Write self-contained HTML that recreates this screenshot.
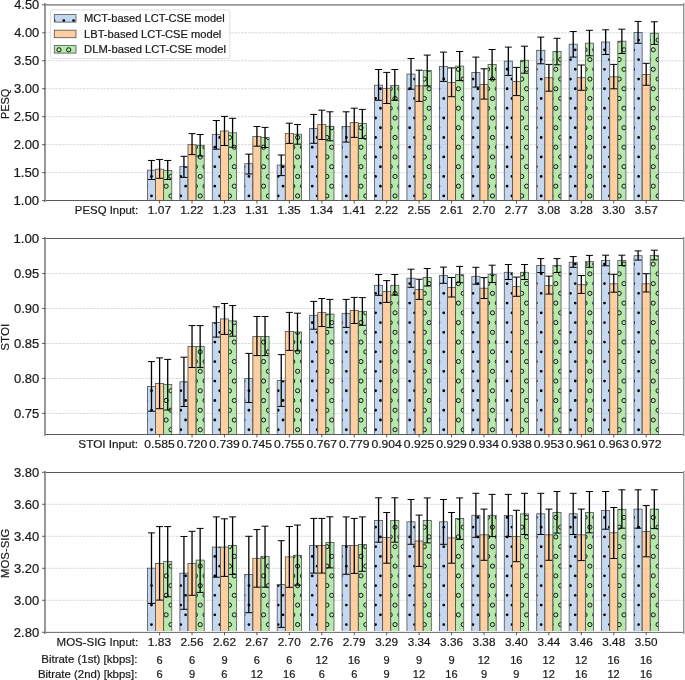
<!DOCTYPE html><html><head><meta charset="utf-8"><style>html,body{margin:0;padding:0;background:#fff;}svg{display:block;}text{font-family:"Liberation Sans",sans-serif;stroke:#1a1a1a;stroke-width:0.2px;}svg{will-change:transform;}</style></head><body>
<svg width="685" height="680" viewBox="0 0 685 680">
<defs>
<clipPath id="cp0"><rect x="45.1" y="4.8" width="638.4" height="195.79999999999998"/></clipPath>
<clipPath id="cp1"><rect x="45.1" y="238.5" width="638.4" height="195.89999999999998"/></clipPath>
<clipPath id="cp2"><rect x="45.1" y="472.3" width="638.4" height="159.99999999999994"/></clipPath>
</defs>
<rect width="685" height="680" fill="#fff"/>
<line x1="45.1" y1="172.63" x2="683.5" y2="172.63" stroke="#c8c8c8" stroke-width="0.7" stroke-dasharray="2.4 1.04"/>
<line x1="45.1" y1="144.66" x2="683.5" y2="144.66" stroke="#c8c8c8" stroke-width="0.7" stroke-dasharray="2.4 1.04"/>
<line x1="45.1" y1="116.69" x2="683.5" y2="116.69" stroke="#c8c8c8" stroke-width="0.7" stroke-dasharray="2.4 1.04"/>
<line x1="45.1" y1="88.71" x2="683.5" y2="88.71" stroke="#c8c8c8" stroke-width="0.7" stroke-dasharray="2.4 1.04"/>
<line x1="45.1" y1="60.74" x2="683.5" y2="60.74" stroke="#c8c8c8" stroke-width="0.7" stroke-dasharray="2.4 1.04"/>
<line x1="45.1" y1="32.77" x2="683.5" y2="32.77" stroke="#c8c8c8" stroke-width="0.7" stroke-dasharray="2.4 1.04"/>
<g clip-path="url(#cp0)">
<rect x="147.44" y="170.20" width="8.11" height="32.40" fill="#aec7e8" fill-opacity="0.7"/>
<clipPath id="hc1"><rect x="147.44" y="170.20" width="8.11" height="30.40"/></clipPath><path clip-path="url(#hc1)" fill="#000" d="M150.10 176.45a1.4 1.4 0 1 0 2.8 0a1.4 1.4 0 1 0 -2.8 0M145.23 186.19a1.4 1.4 0 1 0 2.8 0a1.4 1.4 0 1 0 -2.8 0M154.97 186.19a1.4 1.4 0 1 0 2.8 0a1.4 1.4 0 1 0 -2.8 0M150.10 195.93a1.4 1.4 0 1 0 2.8 0a1.4 1.4 0 1 0 -2.8 0"/>
<rect x="147.44" y="170.20" width="8.11" height="32.40" fill="none" stroke="#4d5257" stroke-width="0.8"/>
<rect x="155.54" y="169.20" width="8.11" height="33.40" fill="#ffbb78" fill-opacity="0.7"/>
<rect x="155.54" y="169.20" width="8.11" height="33.40" fill="none" stroke="#4d5257" stroke-width="0.8"/>
<rect x="163.65" y="170.40" width="8.11" height="32.20" fill="#98df8a" fill-opacity="0.7"/>
<clipPath id="hc2"><rect x="163.65" y="170.40" width="8.11" height="30.20"/></clipPath><path clip-path="url(#hc2)" fill="none" stroke="#000" stroke-width="0.9" d="M159.14 176.45a2.1 2.1 0 1 0 4.2 0a2.1 2.1 0 1 0 -4.2 0M168.89 176.45a2.1 2.1 0 1 0 4.2 0a2.1 2.1 0 1 0 -4.2 0M164.01 186.19a2.1 2.1 0 1 0 4.2 0a2.1 2.1 0 1 0 -4.2 0M159.14 195.93a2.1 2.1 0 1 0 4.2 0a2.1 2.1 0 1 0 -4.2 0M168.89 195.93a2.1 2.1 0 1 0 4.2 0a2.1 2.1 0 1 0 -4.2 0"/>
<rect x="163.65" y="170.40" width="8.11" height="32.20" fill="none" stroke="#4d5257" stroke-width="0.8"/>
<rect x="179.88" y="166.60" width="8.11" height="36.00" fill="#aec7e8" fill-opacity="0.7"/>
<clipPath id="hc3"><rect x="179.88" y="166.60" width="8.11" height="34.00"/></clipPath><path clip-path="url(#hc3)" fill="#000" d="M184.20 166.70a1.4 1.4 0 1 0 2.8 0a1.4 1.4 0 1 0 -2.8 0M179.33 176.45a1.4 1.4 0 1 0 2.8 0a1.4 1.4 0 1 0 -2.8 0M184.20 186.19a1.4 1.4 0 1 0 2.8 0a1.4 1.4 0 1 0 -2.8 0M179.33 195.93a1.4 1.4 0 1 0 2.8 0a1.4 1.4 0 1 0 -2.8 0"/>
<rect x="179.88" y="166.60" width="8.11" height="36.00" fill="none" stroke="#4d5257" stroke-width="0.8"/>
<rect x="187.98" y="144.70" width="8.11" height="57.90" fill="#ffbb78" fill-opacity="0.7"/>
<rect x="187.98" y="144.70" width="8.11" height="57.90" fill="none" stroke="#4d5257" stroke-width="0.8"/>
<rect x="196.09" y="145.30" width="8.11" height="57.30" fill="#98df8a" fill-opacity="0.7"/>
<clipPath id="hc4"><rect x="196.09" y="145.30" width="8.11" height="55.30"/></clipPath><path clip-path="url(#hc4)" fill="none" stroke="#000" stroke-width="0.9" d="M193.24 147.22a2.1 2.1 0 1 0 4.2 0a2.1 2.1 0 1 0 -4.2 0M202.98 147.22a2.1 2.1 0 1 0 4.2 0a2.1 2.1 0 1 0 -4.2 0M198.11 156.96a2.1 2.1 0 1 0 4.2 0a2.1 2.1 0 1 0 -4.2 0M193.24 166.70a2.1 2.1 0 1 0 4.2 0a2.1 2.1 0 1 0 -4.2 0M202.98 166.70a2.1 2.1 0 1 0 4.2 0a2.1 2.1 0 1 0 -4.2 0M198.11 176.45a2.1 2.1 0 1 0 4.2 0a2.1 2.1 0 1 0 -4.2 0M193.24 186.19a2.1 2.1 0 1 0 4.2 0a2.1 2.1 0 1 0 -4.2 0M202.98 186.19a2.1 2.1 0 1 0 4.2 0a2.1 2.1 0 1 0 -4.2 0M198.11 195.93a2.1 2.1 0 1 0 4.2 0a2.1 2.1 0 1 0 -4.2 0"/>
<rect x="196.09" y="145.30" width="8.11" height="57.30" fill="none" stroke="#4d5257" stroke-width="0.8"/>
<rect x="212.31" y="134.50" width="8.11" height="68.10" fill="#aec7e8" fill-opacity="0.7"/>
<clipPath id="hc5"><rect x="212.31" y="134.50" width="8.11" height="66.10"/></clipPath><path clip-path="url(#hc5)" fill="#000" d="M208.55 137.48a1.4 1.4 0 1 0 2.8 0a1.4 1.4 0 1 0 -2.8 0M218.30 137.48a1.4 1.4 0 1 0 2.8 0a1.4 1.4 0 1 0 -2.8 0M213.42 147.22a1.4 1.4 0 1 0 2.8 0a1.4 1.4 0 1 0 -2.8 0M208.55 156.96a1.4 1.4 0 1 0 2.8 0a1.4 1.4 0 1 0 -2.8 0M218.30 156.96a1.4 1.4 0 1 0 2.8 0a1.4 1.4 0 1 0 -2.8 0M213.42 166.70a1.4 1.4 0 1 0 2.8 0a1.4 1.4 0 1 0 -2.8 0M208.55 176.45a1.4 1.4 0 1 0 2.8 0a1.4 1.4 0 1 0 -2.8 0M218.30 176.45a1.4 1.4 0 1 0 2.8 0a1.4 1.4 0 1 0 -2.8 0M213.42 186.19a1.4 1.4 0 1 0 2.8 0a1.4 1.4 0 1 0 -2.8 0M208.55 195.93a1.4 1.4 0 1 0 2.8 0a1.4 1.4 0 1 0 -2.8 0M218.30 195.93a1.4 1.4 0 1 0 2.8 0a1.4 1.4 0 1 0 -2.8 0"/>
<rect x="212.31" y="134.50" width="8.11" height="68.10" fill="none" stroke="#4d5257" stroke-width="0.8"/>
<rect x="220.42" y="131.00" width="8.11" height="71.60" fill="#ffbb78" fill-opacity="0.7"/>
<rect x="220.42" y="131.00" width="8.11" height="71.60" fill="none" stroke="#4d5257" stroke-width="0.8"/>
<rect x="228.53" y="132.80" width="8.11" height="69.80" fill="#98df8a" fill-opacity="0.7"/>
<clipPath id="hc6"><rect x="228.53" y="132.80" width="8.11" height="67.80"/></clipPath><path clip-path="url(#hc6)" fill="none" stroke="#000" stroke-width="0.9" d="M227.34 137.48a2.1 2.1 0 1 0 4.2 0a2.1 2.1 0 1 0 -4.2 0M237.08 137.48a2.1 2.1 0 1 0 4.2 0a2.1 2.1 0 1 0 -4.2 0M232.21 147.22a2.1 2.1 0 1 0 4.2 0a2.1 2.1 0 1 0 -4.2 0M227.34 156.96a2.1 2.1 0 1 0 4.2 0a2.1 2.1 0 1 0 -4.2 0M237.08 156.96a2.1 2.1 0 1 0 4.2 0a2.1 2.1 0 1 0 -4.2 0M232.21 166.70a2.1 2.1 0 1 0 4.2 0a2.1 2.1 0 1 0 -4.2 0M227.34 176.45a2.1 2.1 0 1 0 4.2 0a2.1 2.1 0 1 0 -4.2 0M237.08 176.45a2.1 2.1 0 1 0 4.2 0a2.1 2.1 0 1 0 -4.2 0M232.21 186.19a2.1 2.1 0 1 0 4.2 0a2.1 2.1 0 1 0 -4.2 0M227.34 195.93a2.1 2.1 0 1 0 4.2 0a2.1 2.1 0 1 0 -4.2 0M237.08 195.93a2.1 2.1 0 1 0 4.2 0a2.1 2.1 0 1 0 -4.2 0"/>
<rect x="228.53" y="132.80" width="8.11" height="69.80" fill="none" stroke="#4d5257" stroke-width="0.8"/>
<rect x="244.75" y="163.70" width="8.11" height="38.90" fill="#aec7e8" fill-opacity="0.7"/>
<clipPath id="hc7"><rect x="244.75" y="163.70" width="8.11" height="36.90"/></clipPath><path clip-path="url(#hc7)" fill="#000" d="M242.65 166.70a1.4 1.4 0 1 0 2.8 0a1.4 1.4 0 1 0 -2.8 0M252.39 166.70a1.4 1.4 0 1 0 2.8 0a1.4 1.4 0 1 0 -2.8 0M247.52 176.45a1.4 1.4 0 1 0 2.8 0a1.4 1.4 0 1 0 -2.8 0M242.65 186.19a1.4 1.4 0 1 0 2.8 0a1.4 1.4 0 1 0 -2.8 0M252.39 186.19a1.4 1.4 0 1 0 2.8 0a1.4 1.4 0 1 0 -2.8 0M247.52 195.93a1.4 1.4 0 1 0 2.8 0a1.4 1.4 0 1 0 -2.8 0"/>
<rect x="244.75" y="163.70" width="8.11" height="38.90" fill="none" stroke="#4d5257" stroke-width="0.8"/>
<rect x="252.86" y="136.50" width="8.11" height="66.10" fill="#ffbb78" fill-opacity="0.7"/>
<rect x="252.86" y="136.50" width="8.11" height="66.10" fill="none" stroke="#4d5257" stroke-width="0.8"/>
<rect x="260.97" y="137.40" width="8.11" height="65.20" fill="#98df8a" fill-opacity="0.7"/>
<clipPath id="hc8"><rect x="260.97" y="137.40" width="8.11" height="63.20"/></clipPath><path clip-path="url(#hc8)" fill="none" stroke="#000" stroke-width="0.9" d="M256.56 137.48a2.1 2.1 0 1 0 4.2 0a2.1 2.1 0 1 0 -4.2 0M266.31 137.48a2.1 2.1 0 1 0 4.2 0a2.1 2.1 0 1 0 -4.2 0M261.43 147.22a2.1 2.1 0 1 0 4.2 0a2.1 2.1 0 1 0 -4.2 0M256.56 156.96a2.1 2.1 0 1 0 4.2 0a2.1 2.1 0 1 0 -4.2 0M266.31 156.96a2.1 2.1 0 1 0 4.2 0a2.1 2.1 0 1 0 -4.2 0M261.43 166.70a2.1 2.1 0 1 0 4.2 0a2.1 2.1 0 1 0 -4.2 0M256.56 176.45a2.1 2.1 0 1 0 4.2 0a2.1 2.1 0 1 0 -4.2 0M266.31 176.45a2.1 2.1 0 1 0 4.2 0a2.1 2.1 0 1 0 -4.2 0M261.43 186.19a2.1 2.1 0 1 0 4.2 0a2.1 2.1 0 1 0 -4.2 0M256.56 195.93a2.1 2.1 0 1 0 4.2 0a2.1 2.1 0 1 0 -4.2 0M266.31 195.93a2.1 2.1 0 1 0 4.2 0a2.1 2.1 0 1 0 -4.2 0"/>
<rect x="260.97" y="137.40" width="8.11" height="65.20" fill="none" stroke="#4d5257" stroke-width="0.8"/>
<rect x="277.19" y="165.10" width="8.11" height="37.50" fill="#aec7e8" fill-opacity="0.7"/>
<clipPath id="hc9"><rect x="277.19" y="165.10" width="8.11" height="35.50"/></clipPath><path clip-path="url(#hc9)" fill="#000" d="M281.62 166.70a1.4 1.4 0 1 0 2.8 0a1.4 1.4 0 1 0 -2.8 0M276.75 176.45a1.4 1.4 0 1 0 2.8 0a1.4 1.4 0 1 0 -2.8 0M281.62 186.19a1.4 1.4 0 1 0 2.8 0a1.4 1.4 0 1 0 -2.8 0M276.75 195.93a1.4 1.4 0 1 0 2.8 0a1.4 1.4 0 1 0 -2.8 0"/>
<rect x="277.19" y="165.10" width="8.11" height="37.50" fill="none" stroke="#4d5257" stroke-width="0.8"/>
<rect x="285.31" y="133.50" width="8.11" height="69.10" fill="#ffbb78" fill-opacity="0.7"/>
<rect x="285.31" y="133.50" width="8.11" height="69.10" fill="none" stroke="#4d5257" stroke-width="0.8"/>
<rect x="293.42" y="134.20" width="8.11" height="68.40" fill="#98df8a" fill-opacity="0.7"/>
<clipPath id="hc10"><rect x="293.42" y="134.20" width="8.11" height="66.40"/></clipPath><path clip-path="url(#hc10)" fill="none" stroke="#000" stroke-width="0.9" d="M295.53 137.48a2.1 2.1 0 1 0 4.2 0a2.1 2.1 0 1 0 -4.2 0M290.66 147.22a2.1 2.1 0 1 0 4.2 0a2.1 2.1 0 1 0 -4.2 0M300.40 147.22a2.1 2.1 0 1 0 4.2 0a2.1 2.1 0 1 0 -4.2 0M295.53 156.96a2.1 2.1 0 1 0 4.2 0a2.1 2.1 0 1 0 -4.2 0M290.66 166.70a2.1 2.1 0 1 0 4.2 0a2.1 2.1 0 1 0 -4.2 0M300.40 166.70a2.1 2.1 0 1 0 4.2 0a2.1 2.1 0 1 0 -4.2 0M295.53 176.45a2.1 2.1 0 1 0 4.2 0a2.1 2.1 0 1 0 -4.2 0M290.66 186.19a2.1 2.1 0 1 0 4.2 0a2.1 2.1 0 1 0 -4.2 0M300.40 186.19a2.1 2.1 0 1 0 4.2 0a2.1 2.1 0 1 0 -4.2 0M295.53 195.93a2.1 2.1 0 1 0 4.2 0a2.1 2.1 0 1 0 -4.2 0"/>
<rect x="293.42" y="134.20" width="8.11" height="68.40" fill="none" stroke="#4d5257" stroke-width="0.8"/>
<rect x="309.63" y="128.40" width="8.11" height="74.20" fill="#aec7e8" fill-opacity="0.7"/>
<clipPath id="hc11"><rect x="309.63" y="128.40" width="8.11" height="72.20"/></clipPath><path clip-path="url(#hc11)" fill="#000" d="M310.84 127.74a1.4 1.4 0 1 0 2.8 0a1.4 1.4 0 1 0 -2.8 0M305.97 137.48a1.4 1.4 0 1 0 2.8 0a1.4 1.4 0 1 0 -2.8 0M315.72 137.48a1.4 1.4 0 1 0 2.8 0a1.4 1.4 0 1 0 -2.8 0M310.84 147.22a1.4 1.4 0 1 0 2.8 0a1.4 1.4 0 1 0 -2.8 0M305.97 156.96a1.4 1.4 0 1 0 2.8 0a1.4 1.4 0 1 0 -2.8 0M315.72 156.96a1.4 1.4 0 1 0 2.8 0a1.4 1.4 0 1 0 -2.8 0M310.84 166.70a1.4 1.4 0 1 0 2.8 0a1.4 1.4 0 1 0 -2.8 0M305.97 176.45a1.4 1.4 0 1 0 2.8 0a1.4 1.4 0 1 0 -2.8 0M315.72 176.45a1.4 1.4 0 1 0 2.8 0a1.4 1.4 0 1 0 -2.8 0M310.84 186.19a1.4 1.4 0 1 0 2.8 0a1.4 1.4 0 1 0 -2.8 0M305.97 195.93a1.4 1.4 0 1 0 2.8 0a1.4 1.4 0 1 0 -2.8 0M315.72 195.93a1.4 1.4 0 1 0 2.8 0a1.4 1.4 0 1 0 -2.8 0"/>
<rect x="309.63" y="128.40" width="8.11" height="74.20" fill="none" stroke="#4d5257" stroke-width="0.8"/>
<rect x="317.74" y="124.60" width="8.11" height="78.00" fill="#ffbb78" fill-opacity="0.7"/>
<rect x="317.74" y="124.60" width="8.11" height="78.00" fill="none" stroke="#4d5257" stroke-width="0.8"/>
<rect x="325.85" y="126.30" width="8.11" height="76.30" fill="#98df8a" fill-opacity="0.7"/>
<clipPath id="hc12"><rect x="325.85" y="126.30" width="8.11" height="74.30"/></clipPath><path clip-path="url(#hc12)" fill="none" stroke="#000" stroke-width="0.9" d="M329.63 127.74a2.1 2.1 0 1 0 4.2 0a2.1 2.1 0 1 0 -4.2 0M324.76 137.48a2.1 2.1 0 1 0 4.2 0a2.1 2.1 0 1 0 -4.2 0M334.50 137.48a2.1 2.1 0 1 0 4.2 0a2.1 2.1 0 1 0 -4.2 0M329.63 147.22a2.1 2.1 0 1 0 4.2 0a2.1 2.1 0 1 0 -4.2 0M324.76 156.96a2.1 2.1 0 1 0 4.2 0a2.1 2.1 0 1 0 -4.2 0M334.50 156.96a2.1 2.1 0 1 0 4.2 0a2.1 2.1 0 1 0 -4.2 0M329.63 166.70a2.1 2.1 0 1 0 4.2 0a2.1 2.1 0 1 0 -4.2 0M324.76 176.45a2.1 2.1 0 1 0 4.2 0a2.1 2.1 0 1 0 -4.2 0M334.50 176.45a2.1 2.1 0 1 0 4.2 0a2.1 2.1 0 1 0 -4.2 0M329.63 186.19a2.1 2.1 0 1 0 4.2 0a2.1 2.1 0 1 0 -4.2 0M324.76 195.93a2.1 2.1 0 1 0 4.2 0a2.1 2.1 0 1 0 -4.2 0M334.50 195.93a2.1 2.1 0 1 0 4.2 0a2.1 2.1 0 1 0 -4.2 0"/>
<rect x="325.85" y="126.30" width="8.11" height="76.30" fill="none" stroke="#4d5257" stroke-width="0.8"/>
<rect x="342.07" y="126.40" width="8.11" height="76.20" fill="#aec7e8" fill-opacity="0.7"/>
<clipPath id="hc13"><rect x="342.07" y="126.40" width="8.11" height="74.20"/></clipPath><path clip-path="url(#hc13)" fill="#000" d="M340.07 127.74a1.4 1.4 0 1 0 2.8 0a1.4 1.4 0 1 0 -2.8 0M349.81 127.74a1.4 1.4 0 1 0 2.8 0a1.4 1.4 0 1 0 -2.8 0M344.94 137.48a1.4 1.4 0 1 0 2.8 0a1.4 1.4 0 1 0 -2.8 0M340.07 147.22a1.4 1.4 0 1 0 2.8 0a1.4 1.4 0 1 0 -2.8 0M349.81 147.22a1.4 1.4 0 1 0 2.8 0a1.4 1.4 0 1 0 -2.8 0M344.94 156.96a1.4 1.4 0 1 0 2.8 0a1.4 1.4 0 1 0 -2.8 0M340.07 166.70a1.4 1.4 0 1 0 2.8 0a1.4 1.4 0 1 0 -2.8 0M349.81 166.70a1.4 1.4 0 1 0 2.8 0a1.4 1.4 0 1 0 -2.8 0M344.94 176.45a1.4 1.4 0 1 0 2.8 0a1.4 1.4 0 1 0 -2.8 0M340.07 186.19a1.4 1.4 0 1 0 2.8 0a1.4 1.4 0 1 0 -2.8 0M349.81 186.19a1.4 1.4 0 1 0 2.8 0a1.4 1.4 0 1 0 -2.8 0M344.94 195.93a1.4 1.4 0 1 0 2.8 0a1.4 1.4 0 1 0 -2.8 0"/>
<rect x="342.07" y="126.40" width="8.11" height="76.20" fill="none" stroke="#4d5257" stroke-width="0.8"/>
<rect x="350.19" y="122.60" width="8.11" height="80.00" fill="#ffbb78" fill-opacity="0.7"/>
<rect x="350.19" y="122.60" width="8.11" height="80.00" fill="none" stroke="#4d5257" stroke-width="0.8"/>
<rect x="358.30" y="123.50" width="8.11" height="79.10" fill="#98df8a" fill-opacity="0.7"/>
<clipPath id="hc14"><rect x="358.30" y="123.50" width="8.11" height="77.10"/></clipPath><path clip-path="url(#hc14)" fill="none" stroke="#000" stroke-width="0.9" d="M358.85 127.74a2.1 2.1 0 1 0 4.2 0a2.1 2.1 0 1 0 -4.2 0M353.98 137.48a2.1 2.1 0 1 0 4.2 0a2.1 2.1 0 1 0 -4.2 0M363.72 137.48a2.1 2.1 0 1 0 4.2 0a2.1 2.1 0 1 0 -4.2 0M358.85 147.22a2.1 2.1 0 1 0 4.2 0a2.1 2.1 0 1 0 -4.2 0M353.98 156.96a2.1 2.1 0 1 0 4.2 0a2.1 2.1 0 1 0 -4.2 0M363.72 156.96a2.1 2.1 0 1 0 4.2 0a2.1 2.1 0 1 0 -4.2 0M358.85 166.70a2.1 2.1 0 1 0 4.2 0a2.1 2.1 0 1 0 -4.2 0M353.98 176.45a2.1 2.1 0 1 0 4.2 0a2.1 2.1 0 1 0 -4.2 0M363.72 176.45a2.1 2.1 0 1 0 4.2 0a2.1 2.1 0 1 0 -4.2 0M358.85 186.19a2.1 2.1 0 1 0 4.2 0a2.1 2.1 0 1 0 -4.2 0M353.98 195.93a2.1 2.1 0 1 0 4.2 0a2.1 2.1 0 1 0 -4.2 0M363.72 195.93a2.1 2.1 0 1 0 4.2 0a2.1 2.1 0 1 0 -4.2 0"/>
<rect x="358.30" y="123.50" width="8.11" height="79.10" fill="none" stroke="#4d5257" stroke-width="0.8"/>
<rect x="374.51" y="85.20" width="8.11" height="117.40" fill="#aec7e8" fill-opacity="0.7"/>
<clipPath id="hc15"><rect x="374.51" y="85.20" width="8.11" height="115.40"/></clipPath><path clip-path="url(#hc15)" fill="#000" d="M379.04 88.77a1.4 1.4 0 1 0 2.8 0a1.4 1.4 0 1 0 -2.8 0M374.17 98.51a1.4 1.4 0 1 0 2.8 0a1.4 1.4 0 1 0 -2.8 0M379.04 108.25a1.4 1.4 0 1 0 2.8 0a1.4 1.4 0 1 0 -2.8 0M374.17 117.99a1.4 1.4 0 1 0 2.8 0a1.4 1.4 0 1 0 -2.8 0M379.04 127.74a1.4 1.4 0 1 0 2.8 0a1.4 1.4 0 1 0 -2.8 0M374.17 137.48a1.4 1.4 0 1 0 2.8 0a1.4 1.4 0 1 0 -2.8 0M379.04 147.22a1.4 1.4 0 1 0 2.8 0a1.4 1.4 0 1 0 -2.8 0M374.17 156.96a1.4 1.4 0 1 0 2.8 0a1.4 1.4 0 1 0 -2.8 0M379.04 166.70a1.4 1.4 0 1 0 2.8 0a1.4 1.4 0 1 0 -2.8 0M374.17 176.45a1.4 1.4 0 1 0 2.8 0a1.4 1.4 0 1 0 -2.8 0M379.04 186.19a1.4 1.4 0 1 0 2.8 0a1.4 1.4 0 1 0 -2.8 0M374.17 195.93a1.4 1.4 0 1 0 2.8 0a1.4 1.4 0 1 0 -2.8 0"/>
<rect x="374.51" y="85.20" width="8.11" height="117.40" fill="none" stroke="#4d5257" stroke-width="0.8"/>
<rect x="382.62" y="88.30" width="8.11" height="114.30" fill="#ffbb78" fill-opacity="0.7"/>
<rect x="382.62" y="88.30" width="8.11" height="114.30" fill="none" stroke="#4d5257" stroke-width="0.8"/>
<rect x="390.73" y="85.40" width="8.11" height="117.20" fill="#98df8a" fill-opacity="0.7"/>
<clipPath id="hc16"><rect x="390.73" y="85.40" width="8.11" height="115.20"/></clipPath><path clip-path="url(#hc16)" fill="none" stroke="#000" stroke-width="0.9" d="M388.08 88.77a2.1 2.1 0 1 0 4.2 0a2.1 2.1 0 1 0 -4.2 0M397.82 88.77a2.1 2.1 0 1 0 4.2 0a2.1 2.1 0 1 0 -4.2 0M392.95 98.51a2.1 2.1 0 1 0 4.2 0a2.1 2.1 0 1 0 -4.2 0M388.08 108.25a2.1 2.1 0 1 0 4.2 0a2.1 2.1 0 1 0 -4.2 0M397.82 108.25a2.1 2.1 0 1 0 4.2 0a2.1 2.1 0 1 0 -4.2 0M392.95 117.99a2.1 2.1 0 1 0 4.2 0a2.1 2.1 0 1 0 -4.2 0M388.08 127.74a2.1 2.1 0 1 0 4.2 0a2.1 2.1 0 1 0 -4.2 0M397.82 127.74a2.1 2.1 0 1 0 4.2 0a2.1 2.1 0 1 0 -4.2 0M392.95 137.48a2.1 2.1 0 1 0 4.2 0a2.1 2.1 0 1 0 -4.2 0M388.08 147.22a2.1 2.1 0 1 0 4.2 0a2.1 2.1 0 1 0 -4.2 0M397.82 147.22a2.1 2.1 0 1 0 4.2 0a2.1 2.1 0 1 0 -4.2 0M392.95 156.96a2.1 2.1 0 1 0 4.2 0a2.1 2.1 0 1 0 -4.2 0M388.08 166.70a2.1 2.1 0 1 0 4.2 0a2.1 2.1 0 1 0 -4.2 0M397.82 166.70a2.1 2.1 0 1 0 4.2 0a2.1 2.1 0 1 0 -4.2 0M392.95 176.45a2.1 2.1 0 1 0 4.2 0a2.1 2.1 0 1 0 -4.2 0M388.08 186.19a2.1 2.1 0 1 0 4.2 0a2.1 2.1 0 1 0 -4.2 0M397.82 186.19a2.1 2.1 0 1 0 4.2 0a2.1 2.1 0 1 0 -4.2 0M392.95 195.93a2.1 2.1 0 1 0 4.2 0a2.1 2.1 0 1 0 -4.2 0"/>
<rect x="390.73" y="85.40" width="8.11" height="117.20" fill="none" stroke="#4d5257" stroke-width="0.8"/>
<rect x="406.95" y="74.10" width="8.11" height="128.50" fill="#aec7e8" fill-opacity="0.7"/>
<clipPath id="hc17"><rect x="406.95" y="74.10" width="8.11" height="126.50"/></clipPath><path clip-path="url(#hc17)" fill="#000" d="M403.39 79.03a1.4 1.4 0 1 0 2.8 0a1.4 1.4 0 1 0 -2.8 0M413.14 79.03a1.4 1.4 0 1 0 2.8 0a1.4 1.4 0 1 0 -2.8 0M408.26 88.77a1.4 1.4 0 1 0 2.8 0a1.4 1.4 0 1 0 -2.8 0M403.39 98.51a1.4 1.4 0 1 0 2.8 0a1.4 1.4 0 1 0 -2.8 0M413.14 98.51a1.4 1.4 0 1 0 2.8 0a1.4 1.4 0 1 0 -2.8 0M408.26 108.25a1.4 1.4 0 1 0 2.8 0a1.4 1.4 0 1 0 -2.8 0M403.39 117.99a1.4 1.4 0 1 0 2.8 0a1.4 1.4 0 1 0 -2.8 0M413.14 117.99a1.4 1.4 0 1 0 2.8 0a1.4 1.4 0 1 0 -2.8 0M408.26 127.74a1.4 1.4 0 1 0 2.8 0a1.4 1.4 0 1 0 -2.8 0M403.39 137.48a1.4 1.4 0 1 0 2.8 0a1.4 1.4 0 1 0 -2.8 0M413.14 137.48a1.4 1.4 0 1 0 2.8 0a1.4 1.4 0 1 0 -2.8 0M408.26 147.22a1.4 1.4 0 1 0 2.8 0a1.4 1.4 0 1 0 -2.8 0M403.39 156.96a1.4 1.4 0 1 0 2.8 0a1.4 1.4 0 1 0 -2.8 0M413.14 156.96a1.4 1.4 0 1 0 2.8 0a1.4 1.4 0 1 0 -2.8 0M408.26 166.70a1.4 1.4 0 1 0 2.8 0a1.4 1.4 0 1 0 -2.8 0M403.39 176.45a1.4 1.4 0 1 0 2.8 0a1.4 1.4 0 1 0 -2.8 0M413.14 176.45a1.4 1.4 0 1 0 2.8 0a1.4 1.4 0 1 0 -2.8 0M408.26 186.19a1.4 1.4 0 1 0 2.8 0a1.4 1.4 0 1 0 -2.8 0M403.39 195.93a1.4 1.4 0 1 0 2.8 0a1.4 1.4 0 1 0 -2.8 0M413.14 195.93a1.4 1.4 0 1 0 2.8 0a1.4 1.4 0 1 0 -2.8 0"/>
<rect x="406.95" y="74.10" width="8.11" height="128.50" fill="none" stroke="#4d5257" stroke-width="0.8"/>
<rect x="415.06" y="85.90" width="8.11" height="116.70" fill="#ffbb78" fill-opacity="0.7"/>
<rect x="415.06" y="85.90" width="8.11" height="116.70" fill="none" stroke="#4d5257" stroke-width="0.8"/>
<rect x="423.18" y="70.60" width="8.11" height="132.00" fill="#98df8a" fill-opacity="0.7"/>
<clipPath id="hc18"><rect x="423.18" y="70.60" width="8.11" height="130.00"/></clipPath><path clip-path="url(#hc18)" fill="none" stroke="#000" stroke-width="0.9" d="M427.05 69.28a2.1 2.1 0 1 0 4.2 0a2.1 2.1 0 1 0 -4.2 0M422.18 79.03a2.1 2.1 0 1 0 4.2 0a2.1 2.1 0 1 0 -4.2 0M431.92 79.03a2.1 2.1 0 1 0 4.2 0a2.1 2.1 0 1 0 -4.2 0M427.05 88.77a2.1 2.1 0 1 0 4.2 0a2.1 2.1 0 1 0 -4.2 0M422.18 98.51a2.1 2.1 0 1 0 4.2 0a2.1 2.1 0 1 0 -4.2 0M431.92 98.51a2.1 2.1 0 1 0 4.2 0a2.1 2.1 0 1 0 -4.2 0M427.05 108.25a2.1 2.1 0 1 0 4.2 0a2.1 2.1 0 1 0 -4.2 0M422.18 117.99a2.1 2.1 0 1 0 4.2 0a2.1 2.1 0 1 0 -4.2 0M431.92 117.99a2.1 2.1 0 1 0 4.2 0a2.1 2.1 0 1 0 -4.2 0M427.05 127.74a2.1 2.1 0 1 0 4.2 0a2.1 2.1 0 1 0 -4.2 0M422.18 137.48a2.1 2.1 0 1 0 4.2 0a2.1 2.1 0 1 0 -4.2 0M431.92 137.48a2.1 2.1 0 1 0 4.2 0a2.1 2.1 0 1 0 -4.2 0M427.05 147.22a2.1 2.1 0 1 0 4.2 0a2.1 2.1 0 1 0 -4.2 0M422.18 156.96a2.1 2.1 0 1 0 4.2 0a2.1 2.1 0 1 0 -4.2 0M431.92 156.96a2.1 2.1 0 1 0 4.2 0a2.1 2.1 0 1 0 -4.2 0M427.05 166.70a2.1 2.1 0 1 0 4.2 0a2.1 2.1 0 1 0 -4.2 0M422.18 176.45a2.1 2.1 0 1 0 4.2 0a2.1 2.1 0 1 0 -4.2 0M431.92 176.45a2.1 2.1 0 1 0 4.2 0a2.1 2.1 0 1 0 -4.2 0M427.05 186.19a2.1 2.1 0 1 0 4.2 0a2.1 2.1 0 1 0 -4.2 0M422.18 195.93a2.1 2.1 0 1 0 4.2 0a2.1 2.1 0 1 0 -4.2 0M431.92 195.93a2.1 2.1 0 1 0 4.2 0a2.1 2.1 0 1 0 -4.2 0"/>
<rect x="423.18" y="70.60" width="8.11" height="132.00" fill="none" stroke="#4d5257" stroke-width="0.8"/>
<rect x="439.39" y="66.50" width="8.11" height="136.10" fill="#aec7e8" fill-opacity="0.7"/>
<clipPath id="hc19"><rect x="439.39" y="66.50" width="8.11" height="134.10"/></clipPath><path clip-path="url(#hc19)" fill="#000" d="M437.49 69.28a1.4 1.4 0 1 0 2.8 0a1.4 1.4 0 1 0 -2.8 0M447.23 69.28a1.4 1.4 0 1 0 2.8 0a1.4 1.4 0 1 0 -2.8 0M442.36 79.03a1.4 1.4 0 1 0 2.8 0a1.4 1.4 0 1 0 -2.8 0M437.49 88.77a1.4 1.4 0 1 0 2.8 0a1.4 1.4 0 1 0 -2.8 0M447.23 88.77a1.4 1.4 0 1 0 2.8 0a1.4 1.4 0 1 0 -2.8 0M442.36 98.51a1.4 1.4 0 1 0 2.8 0a1.4 1.4 0 1 0 -2.8 0M437.49 108.25a1.4 1.4 0 1 0 2.8 0a1.4 1.4 0 1 0 -2.8 0M447.23 108.25a1.4 1.4 0 1 0 2.8 0a1.4 1.4 0 1 0 -2.8 0M442.36 117.99a1.4 1.4 0 1 0 2.8 0a1.4 1.4 0 1 0 -2.8 0M437.49 127.74a1.4 1.4 0 1 0 2.8 0a1.4 1.4 0 1 0 -2.8 0M447.23 127.74a1.4 1.4 0 1 0 2.8 0a1.4 1.4 0 1 0 -2.8 0M442.36 137.48a1.4 1.4 0 1 0 2.8 0a1.4 1.4 0 1 0 -2.8 0M437.49 147.22a1.4 1.4 0 1 0 2.8 0a1.4 1.4 0 1 0 -2.8 0M447.23 147.22a1.4 1.4 0 1 0 2.8 0a1.4 1.4 0 1 0 -2.8 0M442.36 156.96a1.4 1.4 0 1 0 2.8 0a1.4 1.4 0 1 0 -2.8 0M437.49 166.70a1.4 1.4 0 1 0 2.8 0a1.4 1.4 0 1 0 -2.8 0M447.23 166.70a1.4 1.4 0 1 0 2.8 0a1.4 1.4 0 1 0 -2.8 0M442.36 176.45a1.4 1.4 0 1 0 2.8 0a1.4 1.4 0 1 0 -2.8 0M437.49 186.19a1.4 1.4 0 1 0 2.8 0a1.4 1.4 0 1 0 -2.8 0M447.23 186.19a1.4 1.4 0 1 0 2.8 0a1.4 1.4 0 1 0 -2.8 0M442.36 195.93a1.4 1.4 0 1 0 2.8 0a1.4 1.4 0 1 0 -2.8 0"/>
<rect x="439.39" y="66.50" width="8.11" height="136.10" fill="none" stroke="#4d5257" stroke-width="0.8"/>
<rect x="447.50" y="82.60" width="8.11" height="120.00" fill="#ffbb78" fill-opacity="0.7"/>
<rect x="447.50" y="82.60" width="8.11" height="120.00" fill="none" stroke="#4d5257" stroke-width="0.8"/>
<rect x="455.61" y="66.10" width="8.11" height="136.50" fill="#98df8a" fill-opacity="0.7"/>
<clipPath id="hc20"><rect x="455.61" y="66.10" width="8.11" height="134.50"/></clipPath><path clip-path="url(#hc20)" fill="none" stroke="#000" stroke-width="0.9" d="M456.27 69.28a2.1 2.1 0 1 0 4.2 0a2.1 2.1 0 1 0 -4.2 0M451.40 79.03a2.1 2.1 0 1 0 4.2 0a2.1 2.1 0 1 0 -4.2 0M461.14 79.03a2.1 2.1 0 1 0 4.2 0a2.1 2.1 0 1 0 -4.2 0M456.27 88.77a2.1 2.1 0 1 0 4.2 0a2.1 2.1 0 1 0 -4.2 0M451.40 98.51a2.1 2.1 0 1 0 4.2 0a2.1 2.1 0 1 0 -4.2 0M461.14 98.51a2.1 2.1 0 1 0 4.2 0a2.1 2.1 0 1 0 -4.2 0M456.27 108.25a2.1 2.1 0 1 0 4.2 0a2.1 2.1 0 1 0 -4.2 0M451.40 117.99a2.1 2.1 0 1 0 4.2 0a2.1 2.1 0 1 0 -4.2 0M461.14 117.99a2.1 2.1 0 1 0 4.2 0a2.1 2.1 0 1 0 -4.2 0M456.27 127.74a2.1 2.1 0 1 0 4.2 0a2.1 2.1 0 1 0 -4.2 0M451.40 137.48a2.1 2.1 0 1 0 4.2 0a2.1 2.1 0 1 0 -4.2 0M461.14 137.48a2.1 2.1 0 1 0 4.2 0a2.1 2.1 0 1 0 -4.2 0M456.27 147.22a2.1 2.1 0 1 0 4.2 0a2.1 2.1 0 1 0 -4.2 0M451.40 156.96a2.1 2.1 0 1 0 4.2 0a2.1 2.1 0 1 0 -4.2 0M461.14 156.96a2.1 2.1 0 1 0 4.2 0a2.1 2.1 0 1 0 -4.2 0M456.27 166.70a2.1 2.1 0 1 0 4.2 0a2.1 2.1 0 1 0 -4.2 0M451.40 176.45a2.1 2.1 0 1 0 4.2 0a2.1 2.1 0 1 0 -4.2 0M461.14 176.45a2.1 2.1 0 1 0 4.2 0a2.1 2.1 0 1 0 -4.2 0M456.27 186.19a2.1 2.1 0 1 0 4.2 0a2.1 2.1 0 1 0 -4.2 0M451.40 195.93a2.1 2.1 0 1 0 4.2 0a2.1 2.1 0 1 0 -4.2 0M461.14 195.93a2.1 2.1 0 1 0 4.2 0a2.1 2.1 0 1 0 -4.2 0"/>
<rect x="455.61" y="66.10" width="8.11" height="136.50" fill="none" stroke="#4d5257" stroke-width="0.8"/>
<rect x="471.83" y="72.40" width="8.11" height="130.20" fill="#aec7e8" fill-opacity="0.7"/>
<clipPath id="hc21"><rect x="471.83" y="72.40" width="8.11" height="128.20"/></clipPath><path clip-path="url(#hc21)" fill="#000" d="M471.59 79.03a1.4 1.4 0 1 0 2.8 0a1.4 1.4 0 1 0 -2.8 0M476.46 88.77a1.4 1.4 0 1 0 2.8 0a1.4 1.4 0 1 0 -2.8 0M471.59 98.51a1.4 1.4 0 1 0 2.8 0a1.4 1.4 0 1 0 -2.8 0M476.46 108.25a1.4 1.4 0 1 0 2.8 0a1.4 1.4 0 1 0 -2.8 0M471.59 117.99a1.4 1.4 0 1 0 2.8 0a1.4 1.4 0 1 0 -2.8 0M476.46 127.74a1.4 1.4 0 1 0 2.8 0a1.4 1.4 0 1 0 -2.8 0M471.59 137.48a1.4 1.4 0 1 0 2.8 0a1.4 1.4 0 1 0 -2.8 0M476.46 147.22a1.4 1.4 0 1 0 2.8 0a1.4 1.4 0 1 0 -2.8 0M471.59 156.96a1.4 1.4 0 1 0 2.8 0a1.4 1.4 0 1 0 -2.8 0M476.46 166.70a1.4 1.4 0 1 0 2.8 0a1.4 1.4 0 1 0 -2.8 0M471.59 176.45a1.4 1.4 0 1 0 2.8 0a1.4 1.4 0 1 0 -2.8 0M476.46 186.19a1.4 1.4 0 1 0 2.8 0a1.4 1.4 0 1 0 -2.8 0M471.59 195.93a1.4 1.4 0 1 0 2.8 0a1.4 1.4 0 1 0 -2.8 0"/>
<rect x="471.83" y="72.40" width="8.11" height="130.20" fill="none" stroke="#4d5257" stroke-width="0.8"/>
<rect x="479.94" y="84.40" width="8.11" height="118.20" fill="#ffbb78" fill-opacity="0.7"/>
<rect x="479.94" y="84.40" width="8.11" height="118.20" fill="none" stroke="#4d5257" stroke-width="0.8"/>
<rect x="488.06" y="64.40" width="8.11" height="138.20" fill="#98df8a" fill-opacity="0.7"/>
<clipPath id="hc22"><rect x="488.06" y="64.40" width="8.11" height="136.20"/></clipPath><path clip-path="url(#hc22)" fill="none" stroke="#000" stroke-width="0.9" d="M485.50 69.28a2.1 2.1 0 1 0 4.2 0a2.1 2.1 0 1 0 -4.2 0M495.24 69.28a2.1 2.1 0 1 0 4.2 0a2.1 2.1 0 1 0 -4.2 0M490.37 79.03a2.1 2.1 0 1 0 4.2 0a2.1 2.1 0 1 0 -4.2 0M485.50 88.77a2.1 2.1 0 1 0 4.2 0a2.1 2.1 0 1 0 -4.2 0M495.24 88.77a2.1 2.1 0 1 0 4.2 0a2.1 2.1 0 1 0 -4.2 0M490.37 98.51a2.1 2.1 0 1 0 4.2 0a2.1 2.1 0 1 0 -4.2 0M485.50 108.25a2.1 2.1 0 1 0 4.2 0a2.1 2.1 0 1 0 -4.2 0M495.24 108.25a2.1 2.1 0 1 0 4.2 0a2.1 2.1 0 1 0 -4.2 0M490.37 117.99a2.1 2.1 0 1 0 4.2 0a2.1 2.1 0 1 0 -4.2 0M485.50 127.74a2.1 2.1 0 1 0 4.2 0a2.1 2.1 0 1 0 -4.2 0M495.24 127.74a2.1 2.1 0 1 0 4.2 0a2.1 2.1 0 1 0 -4.2 0M490.37 137.48a2.1 2.1 0 1 0 4.2 0a2.1 2.1 0 1 0 -4.2 0M485.50 147.22a2.1 2.1 0 1 0 4.2 0a2.1 2.1 0 1 0 -4.2 0M495.24 147.22a2.1 2.1 0 1 0 4.2 0a2.1 2.1 0 1 0 -4.2 0M490.37 156.96a2.1 2.1 0 1 0 4.2 0a2.1 2.1 0 1 0 -4.2 0M485.50 166.70a2.1 2.1 0 1 0 4.2 0a2.1 2.1 0 1 0 -4.2 0M495.24 166.70a2.1 2.1 0 1 0 4.2 0a2.1 2.1 0 1 0 -4.2 0M490.37 176.45a2.1 2.1 0 1 0 4.2 0a2.1 2.1 0 1 0 -4.2 0M485.50 186.19a2.1 2.1 0 1 0 4.2 0a2.1 2.1 0 1 0 -4.2 0M495.24 186.19a2.1 2.1 0 1 0 4.2 0a2.1 2.1 0 1 0 -4.2 0M490.37 195.93a2.1 2.1 0 1 0 4.2 0a2.1 2.1 0 1 0 -4.2 0"/>
<rect x="488.06" y="64.40" width="8.11" height="138.20" fill="none" stroke="#4d5257" stroke-width="0.8"/>
<rect x="504.27" y="61.10" width="8.11" height="141.50" fill="#aec7e8" fill-opacity="0.7"/>
<clipPath id="hc23"><rect x="504.27" y="61.10" width="8.11" height="139.50"/></clipPath><path clip-path="url(#hc23)" fill="#000" d="M500.81 59.54a1.4 1.4 0 1 0 2.8 0a1.4 1.4 0 1 0 -2.8 0M510.56 59.54a1.4 1.4 0 1 0 2.8 0a1.4 1.4 0 1 0 -2.8 0M505.68 69.28a1.4 1.4 0 1 0 2.8 0a1.4 1.4 0 1 0 -2.8 0M500.81 79.03a1.4 1.4 0 1 0 2.8 0a1.4 1.4 0 1 0 -2.8 0M510.56 79.03a1.4 1.4 0 1 0 2.8 0a1.4 1.4 0 1 0 -2.8 0M505.68 88.77a1.4 1.4 0 1 0 2.8 0a1.4 1.4 0 1 0 -2.8 0M500.81 98.51a1.4 1.4 0 1 0 2.8 0a1.4 1.4 0 1 0 -2.8 0M510.56 98.51a1.4 1.4 0 1 0 2.8 0a1.4 1.4 0 1 0 -2.8 0M505.68 108.25a1.4 1.4 0 1 0 2.8 0a1.4 1.4 0 1 0 -2.8 0M500.81 117.99a1.4 1.4 0 1 0 2.8 0a1.4 1.4 0 1 0 -2.8 0M510.56 117.99a1.4 1.4 0 1 0 2.8 0a1.4 1.4 0 1 0 -2.8 0M505.68 127.74a1.4 1.4 0 1 0 2.8 0a1.4 1.4 0 1 0 -2.8 0M500.81 137.48a1.4 1.4 0 1 0 2.8 0a1.4 1.4 0 1 0 -2.8 0M510.56 137.48a1.4 1.4 0 1 0 2.8 0a1.4 1.4 0 1 0 -2.8 0M505.68 147.22a1.4 1.4 0 1 0 2.8 0a1.4 1.4 0 1 0 -2.8 0M500.81 156.96a1.4 1.4 0 1 0 2.8 0a1.4 1.4 0 1 0 -2.8 0M510.56 156.96a1.4 1.4 0 1 0 2.8 0a1.4 1.4 0 1 0 -2.8 0M505.68 166.70a1.4 1.4 0 1 0 2.8 0a1.4 1.4 0 1 0 -2.8 0M500.81 176.45a1.4 1.4 0 1 0 2.8 0a1.4 1.4 0 1 0 -2.8 0M510.56 176.45a1.4 1.4 0 1 0 2.8 0a1.4 1.4 0 1 0 -2.8 0M505.68 186.19a1.4 1.4 0 1 0 2.8 0a1.4 1.4 0 1 0 -2.8 0M500.81 195.93a1.4 1.4 0 1 0 2.8 0a1.4 1.4 0 1 0 -2.8 0M510.56 195.93a1.4 1.4 0 1 0 2.8 0a1.4 1.4 0 1 0 -2.8 0"/>
<rect x="504.27" y="61.10" width="8.11" height="141.50" fill="none" stroke="#4d5257" stroke-width="0.8"/>
<rect x="512.38" y="81.50" width="8.11" height="121.10" fill="#ffbb78" fill-opacity="0.7"/>
<rect x="512.38" y="81.50" width="8.11" height="121.10" fill="none" stroke="#4d5257" stroke-width="0.8"/>
<rect x="520.50" y="60.30" width="8.11" height="142.30" fill="#98df8a" fill-opacity="0.7"/>
<clipPath id="hc24"><rect x="520.50" y="60.30" width="8.11" height="140.30"/></clipPath><path clip-path="url(#hc24)" fill="none" stroke="#000" stroke-width="0.9" d="M519.60 59.54a2.1 2.1 0 1 0 4.2 0a2.1 2.1 0 1 0 -4.2 0M529.34 59.54a2.1 2.1 0 1 0 4.2 0a2.1 2.1 0 1 0 -4.2 0M524.47 69.28a2.1 2.1 0 1 0 4.2 0a2.1 2.1 0 1 0 -4.2 0M519.60 79.03a2.1 2.1 0 1 0 4.2 0a2.1 2.1 0 1 0 -4.2 0M529.34 79.03a2.1 2.1 0 1 0 4.2 0a2.1 2.1 0 1 0 -4.2 0M524.47 88.77a2.1 2.1 0 1 0 4.2 0a2.1 2.1 0 1 0 -4.2 0M519.60 98.51a2.1 2.1 0 1 0 4.2 0a2.1 2.1 0 1 0 -4.2 0M529.34 98.51a2.1 2.1 0 1 0 4.2 0a2.1 2.1 0 1 0 -4.2 0M524.47 108.25a2.1 2.1 0 1 0 4.2 0a2.1 2.1 0 1 0 -4.2 0M519.60 117.99a2.1 2.1 0 1 0 4.2 0a2.1 2.1 0 1 0 -4.2 0M529.34 117.99a2.1 2.1 0 1 0 4.2 0a2.1 2.1 0 1 0 -4.2 0M524.47 127.74a2.1 2.1 0 1 0 4.2 0a2.1 2.1 0 1 0 -4.2 0M519.60 137.48a2.1 2.1 0 1 0 4.2 0a2.1 2.1 0 1 0 -4.2 0M529.34 137.48a2.1 2.1 0 1 0 4.2 0a2.1 2.1 0 1 0 -4.2 0M524.47 147.22a2.1 2.1 0 1 0 4.2 0a2.1 2.1 0 1 0 -4.2 0M519.60 156.96a2.1 2.1 0 1 0 4.2 0a2.1 2.1 0 1 0 -4.2 0M529.34 156.96a2.1 2.1 0 1 0 4.2 0a2.1 2.1 0 1 0 -4.2 0M524.47 166.70a2.1 2.1 0 1 0 4.2 0a2.1 2.1 0 1 0 -4.2 0M519.60 176.45a2.1 2.1 0 1 0 4.2 0a2.1 2.1 0 1 0 -4.2 0M529.34 176.45a2.1 2.1 0 1 0 4.2 0a2.1 2.1 0 1 0 -4.2 0M524.47 186.19a2.1 2.1 0 1 0 4.2 0a2.1 2.1 0 1 0 -4.2 0M519.60 195.93a2.1 2.1 0 1 0 4.2 0a2.1 2.1 0 1 0 -4.2 0M529.34 195.93a2.1 2.1 0 1 0 4.2 0a2.1 2.1 0 1 0 -4.2 0"/>
<rect x="520.50" y="60.30" width="8.11" height="142.30" fill="none" stroke="#4d5257" stroke-width="0.8"/>
<rect x="536.72" y="50.30" width="8.11" height="152.30" fill="#aec7e8" fill-opacity="0.7"/>
<clipPath id="hc25"><rect x="536.72" y="50.30" width="8.11" height="150.30"/></clipPath><path clip-path="url(#hc25)" fill="#000" d="M534.91 49.80a1.4 1.4 0 1 0 2.8 0a1.4 1.4 0 1 0 -2.8 0M544.65 49.80a1.4 1.4 0 1 0 2.8 0a1.4 1.4 0 1 0 -2.8 0M539.78 59.54a1.4 1.4 0 1 0 2.8 0a1.4 1.4 0 1 0 -2.8 0M534.91 69.28a1.4 1.4 0 1 0 2.8 0a1.4 1.4 0 1 0 -2.8 0M544.65 69.28a1.4 1.4 0 1 0 2.8 0a1.4 1.4 0 1 0 -2.8 0M539.78 79.03a1.4 1.4 0 1 0 2.8 0a1.4 1.4 0 1 0 -2.8 0M534.91 88.77a1.4 1.4 0 1 0 2.8 0a1.4 1.4 0 1 0 -2.8 0M544.65 88.77a1.4 1.4 0 1 0 2.8 0a1.4 1.4 0 1 0 -2.8 0M539.78 98.51a1.4 1.4 0 1 0 2.8 0a1.4 1.4 0 1 0 -2.8 0M534.91 108.25a1.4 1.4 0 1 0 2.8 0a1.4 1.4 0 1 0 -2.8 0M544.65 108.25a1.4 1.4 0 1 0 2.8 0a1.4 1.4 0 1 0 -2.8 0M539.78 117.99a1.4 1.4 0 1 0 2.8 0a1.4 1.4 0 1 0 -2.8 0M534.91 127.74a1.4 1.4 0 1 0 2.8 0a1.4 1.4 0 1 0 -2.8 0M544.65 127.74a1.4 1.4 0 1 0 2.8 0a1.4 1.4 0 1 0 -2.8 0M539.78 137.48a1.4 1.4 0 1 0 2.8 0a1.4 1.4 0 1 0 -2.8 0M534.91 147.22a1.4 1.4 0 1 0 2.8 0a1.4 1.4 0 1 0 -2.8 0M544.65 147.22a1.4 1.4 0 1 0 2.8 0a1.4 1.4 0 1 0 -2.8 0M539.78 156.96a1.4 1.4 0 1 0 2.8 0a1.4 1.4 0 1 0 -2.8 0M534.91 166.70a1.4 1.4 0 1 0 2.8 0a1.4 1.4 0 1 0 -2.8 0M544.65 166.70a1.4 1.4 0 1 0 2.8 0a1.4 1.4 0 1 0 -2.8 0M539.78 176.45a1.4 1.4 0 1 0 2.8 0a1.4 1.4 0 1 0 -2.8 0M534.91 186.19a1.4 1.4 0 1 0 2.8 0a1.4 1.4 0 1 0 -2.8 0M544.65 186.19a1.4 1.4 0 1 0 2.8 0a1.4 1.4 0 1 0 -2.8 0M539.78 195.93a1.4 1.4 0 1 0 2.8 0a1.4 1.4 0 1 0 -2.8 0"/>
<rect x="536.72" y="50.30" width="8.11" height="152.30" fill="none" stroke="#4d5257" stroke-width="0.8"/>
<rect x="544.83" y="77.70" width="8.11" height="124.90" fill="#ffbb78" fill-opacity="0.7"/>
<rect x="544.83" y="77.70" width="8.11" height="124.90" fill="none" stroke="#4d5257" stroke-width="0.8"/>
<rect x="552.94" y="51.50" width="8.11" height="151.10" fill="#98df8a" fill-opacity="0.7"/>
<clipPath id="hc26"><rect x="552.94" y="51.50" width="8.11" height="149.10"/></clipPath><path clip-path="url(#hc26)" fill="none" stroke="#000" stroke-width="0.9" d="M553.69 49.80a2.1 2.1 0 1 0 4.2 0a2.1 2.1 0 1 0 -4.2 0M548.82 59.54a2.1 2.1 0 1 0 4.2 0a2.1 2.1 0 1 0 -4.2 0M558.57 59.54a2.1 2.1 0 1 0 4.2 0a2.1 2.1 0 1 0 -4.2 0M553.69 69.28a2.1 2.1 0 1 0 4.2 0a2.1 2.1 0 1 0 -4.2 0M548.82 79.03a2.1 2.1 0 1 0 4.2 0a2.1 2.1 0 1 0 -4.2 0M558.57 79.03a2.1 2.1 0 1 0 4.2 0a2.1 2.1 0 1 0 -4.2 0M553.69 88.77a2.1 2.1 0 1 0 4.2 0a2.1 2.1 0 1 0 -4.2 0M548.82 98.51a2.1 2.1 0 1 0 4.2 0a2.1 2.1 0 1 0 -4.2 0M558.57 98.51a2.1 2.1 0 1 0 4.2 0a2.1 2.1 0 1 0 -4.2 0M553.69 108.25a2.1 2.1 0 1 0 4.2 0a2.1 2.1 0 1 0 -4.2 0M548.82 117.99a2.1 2.1 0 1 0 4.2 0a2.1 2.1 0 1 0 -4.2 0M558.57 117.99a2.1 2.1 0 1 0 4.2 0a2.1 2.1 0 1 0 -4.2 0M553.69 127.74a2.1 2.1 0 1 0 4.2 0a2.1 2.1 0 1 0 -4.2 0M548.82 137.48a2.1 2.1 0 1 0 4.2 0a2.1 2.1 0 1 0 -4.2 0M558.57 137.48a2.1 2.1 0 1 0 4.2 0a2.1 2.1 0 1 0 -4.2 0M553.69 147.22a2.1 2.1 0 1 0 4.2 0a2.1 2.1 0 1 0 -4.2 0M548.82 156.96a2.1 2.1 0 1 0 4.2 0a2.1 2.1 0 1 0 -4.2 0M558.57 156.96a2.1 2.1 0 1 0 4.2 0a2.1 2.1 0 1 0 -4.2 0M553.69 166.70a2.1 2.1 0 1 0 4.2 0a2.1 2.1 0 1 0 -4.2 0M548.82 176.45a2.1 2.1 0 1 0 4.2 0a2.1 2.1 0 1 0 -4.2 0M558.57 176.45a2.1 2.1 0 1 0 4.2 0a2.1 2.1 0 1 0 -4.2 0M553.69 186.19a2.1 2.1 0 1 0 4.2 0a2.1 2.1 0 1 0 -4.2 0M548.82 195.93a2.1 2.1 0 1 0 4.2 0a2.1 2.1 0 1 0 -4.2 0M558.57 195.93a2.1 2.1 0 1 0 4.2 0a2.1 2.1 0 1 0 -4.2 0"/>
<rect x="552.94" y="51.50" width="8.11" height="151.10" fill="none" stroke="#4d5257" stroke-width="0.8"/>
<rect x="569.15" y="44.20" width="8.11" height="158.40" fill="#aec7e8" fill-opacity="0.7"/>
<clipPath id="hc27"><rect x="569.15" y="44.20" width="8.11" height="156.40"/></clipPath><path clip-path="url(#hc27)" fill="#000" d="M573.88 49.80a1.4 1.4 0 1 0 2.8 0a1.4 1.4 0 1 0 -2.8 0M569.01 59.54a1.4 1.4 0 1 0 2.8 0a1.4 1.4 0 1 0 -2.8 0M573.88 69.28a1.4 1.4 0 1 0 2.8 0a1.4 1.4 0 1 0 -2.8 0M569.01 79.03a1.4 1.4 0 1 0 2.8 0a1.4 1.4 0 1 0 -2.8 0M573.88 88.77a1.4 1.4 0 1 0 2.8 0a1.4 1.4 0 1 0 -2.8 0M569.01 98.51a1.4 1.4 0 1 0 2.8 0a1.4 1.4 0 1 0 -2.8 0M573.88 108.25a1.4 1.4 0 1 0 2.8 0a1.4 1.4 0 1 0 -2.8 0M569.01 117.99a1.4 1.4 0 1 0 2.8 0a1.4 1.4 0 1 0 -2.8 0M573.88 127.74a1.4 1.4 0 1 0 2.8 0a1.4 1.4 0 1 0 -2.8 0M569.01 137.48a1.4 1.4 0 1 0 2.8 0a1.4 1.4 0 1 0 -2.8 0M573.88 147.22a1.4 1.4 0 1 0 2.8 0a1.4 1.4 0 1 0 -2.8 0M569.01 156.96a1.4 1.4 0 1 0 2.8 0a1.4 1.4 0 1 0 -2.8 0M573.88 166.70a1.4 1.4 0 1 0 2.8 0a1.4 1.4 0 1 0 -2.8 0M569.01 176.45a1.4 1.4 0 1 0 2.8 0a1.4 1.4 0 1 0 -2.8 0M573.88 186.19a1.4 1.4 0 1 0 2.8 0a1.4 1.4 0 1 0 -2.8 0M569.01 195.93a1.4 1.4 0 1 0 2.8 0a1.4 1.4 0 1 0 -2.8 0"/>
<rect x="569.15" y="44.20" width="8.11" height="158.40" fill="none" stroke="#4d5257" stroke-width="0.8"/>
<rect x="577.26" y="77.70" width="8.11" height="124.90" fill="#ffbb78" fill-opacity="0.7"/>
<rect x="577.26" y="77.70" width="8.11" height="124.90" fill="none" stroke="#4d5257" stroke-width="0.8"/>
<rect x="585.38" y="43.20" width="8.11" height="159.40" fill="#98df8a" fill-opacity="0.7"/>
<clipPath id="hc28"><rect x="585.38" y="43.20" width="8.11" height="157.40"/></clipPath><path clip-path="url(#hc28)" fill="none" stroke="#000" stroke-width="0.9" d="M582.92 49.80a2.1 2.1 0 1 0 4.2 0a2.1 2.1 0 1 0 -4.2 0M592.66 49.80a2.1 2.1 0 1 0 4.2 0a2.1 2.1 0 1 0 -4.2 0M587.79 59.54a2.1 2.1 0 1 0 4.2 0a2.1 2.1 0 1 0 -4.2 0M582.92 69.28a2.1 2.1 0 1 0 4.2 0a2.1 2.1 0 1 0 -4.2 0M592.66 69.28a2.1 2.1 0 1 0 4.2 0a2.1 2.1 0 1 0 -4.2 0M587.79 79.03a2.1 2.1 0 1 0 4.2 0a2.1 2.1 0 1 0 -4.2 0M582.92 88.77a2.1 2.1 0 1 0 4.2 0a2.1 2.1 0 1 0 -4.2 0M592.66 88.77a2.1 2.1 0 1 0 4.2 0a2.1 2.1 0 1 0 -4.2 0M587.79 98.51a2.1 2.1 0 1 0 4.2 0a2.1 2.1 0 1 0 -4.2 0M582.92 108.25a2.1 2.1 0 1 0 4.2 0a2.1 2.1 0 1 0 -4.2 0M592.66 108.25a2.1 2.1 0 1 0 4.2 0a2.1 2.1 0 1 0 -4.2 0M587.79 117.99a2.1 2.1 0 1 0 4.2 0a2.1 2.1 0 1 0 -4.2 0M582.92 127.74a2.1 2.1 0 1 0 4.2 0a2.1 2.1 0 1 0 -4.2 0M592.66 127.74a2.1 2.1 0 1 0 4.2 0a2.1 2.1 0 1 0 -4.2 0M587.79 137.48a2.1 2.1 0 1 0 4.2 0a2.1 2.1 0 1 0 -4.2 0M582.92 147.22a2.1 2.1 0 1 0 4.2 0a2.1 2.1 0 1 0 -4.2 0M592.66 147.22a2.1 2.1 0 1 0 4.2 0a2.1 2.1 0 1 0 -4.2 0M587.79 156.96a2.1 2.1 0 1 0 4.2 0a2.1 2.1 0 1 0 -4.2 0M582.92 166.70a2.1 2.1 0 1 0 4.2 0a2.1 2.1 0 1 0 -4.2 0M592.66 166.70a2.1 2.1 0 1 0 4.2 0a2.1 2.1 0 1 0 -4.2 0M587.79 176.45a2.1 2.1 0 1 0 4.2 0a2.1 2.1 0 1 0 -4.2 0M582.92 186.19a2.1 2.1 0 1 0 4.2 0a2.1 2.1 0 1 0 -4.2 0M592.66 186.19a2.1 2.1 0 1 0 4.2 0a2.1 2.1 0 1 0 -4.2 0M587.79 195.93a2.1 2.1 0 1 0 4.2 0a2.1 2.1 0 1 0 -4.2 0"/>
<rect x="585.38" y="43.20" width="8.11" height="159.40" fill="none" stroke="#4d5257" stroke-width="0.8"/>
<rect x="601.60" y="42.00" width="8.11" height="160.60" fill="#aec7e8" fill-opacity="0.7"/>
<clipPath id="hc29"><rect x="601.60" y="42.00" width="8.11" height="158.60"/></clipPath><path clip-path="url(#hc29)" fill="#000" d="M598.23 40.06a1.4 1.4 0 1 0 2.8 0a1.4 1.4 0 1 0 -2.8 0M607.98 40.06a1.4 1.4 0 1 0 2.8 0a1.4 1.4 0 1 0 -2.8 0M603.10 49.80a1.4 1.4 0 1 0 2.8 0a1.4 1.4 0 1 0 -2.8 0M598.23 59.54a1.4 1.4 0 1 0 2.8 0a1.4 1.4 0 1 0 -2.8 0M607.98 59.54a1.4 1.4 0 1 0 2.8 0a1.4 1.4 0 1 0 -2.8 0M603.10 69.28a1.4 1.4 0 1 0 2.8 0a1.4 1.4 0 1 0 -2.8 0M598.23 79.03a1.4 1.4 0 1 0 2.8 0a1.4 1.4 0 1 0 -2.8 0M607.98 79.03a1.4 1.4 0 1 0 2.8 0a1.4 1.4 0 1 0 -2.8 0M603.10 88.77a1.4 1.4 0 1 0 2.8 0a1.4 1.4 0 1 0 -2.8 0M598.23 98.51a1.4 1.4 0 1 0 2.8 0a1.4 1.4 0 1 0 -2.8 0M607.98 98.51a1.4 1.4 0 1 0 2.8 0a1.4 1.4 0 1 0 -2.8 0M603.10 108.25a1.4 1.4 0 1 0 2.8 0a1.4 1.4 0 1 0 -2.8 0M598.23 117.99a1.4 1.4 0 1 0 2.8 0a1.4 1.4 0 1 0 -2.8 0M607.98 117.99a1.4 1.4 0 1 0 2.8 0a1.4 1.4 0 1 0 -2.8 0M603.10 127.74a1.4 1.4 0 1 0 2.8 0a1.4 1.4 0 1 0 -2.8 0M598.23 137.48a1.4 1.4 0 1 0 2.8 0a1.4 1.4 0 1 0 -2.8 0M607.98 137.48a1.4 1.4 0 1 0 2.8 0a1.4 1.4 0 1 0 -2.8 0M603.10 147.22a1.4 1.4 0 1 0 2.8 0a1.4 1.4 0 1 0 -2.8 0M598.23 156.96a1.4 1.4 0 1 0 2.8 0a1.4 1.4 0 1 0 -2.8 0M607.98 156.96a1.4 1.4 0 1 0 2.8 0a1.4 1.4 0 1 0 -2.8 0M603.10 166.70a1.4 1.4 0 1 0 2.8 0a1.4 1.4 0 1 0 -2.8 0M598.23 176.45a1.4 1.4 0 1 0 2.8 0a1.4 1.4 0 1 0 -2.8 0M607.98 176.45a1.4 1.4 0 1 0 2.8 0a1.4 1.4 0 1 0 -2.8 0M603.10 186.19a1.4 1.4 0 1 0 2.8 0a1.4 1.4 0 1 0 -2.8 0M598.23 195.93a1.4 1.4 0 1 0 2.8 0a1.4 1.4 0 1 0 -2.8 0M607.98 195.93a1.4 1.4 0 1 0 2.8 0a1.4 1.4 0 1 0 -2.8 0"/>
<rect x="601.60" y="42.00" width="8.11" height="160.60" fill="none" stroke="#4d5257" stroke-width="0.8"/>
<rect x="609.71" y="76.80" width="8.11" height="125.80" fill="#ffbb78" fill-opacity="0.7"/>
<rect x="609.71" y="76.80" width="8.11" height="125.80" fill="none" stroke="#4d5257" stroke-width="0.8"/>
<rect x="617.82" y="41.20" width="8.11" height="161.40" fill="#98df8a" fill-opacity="0.7"/>
<clipPath id="hc30"><rect x="617.82" y="41.20" width="8.11" height="159.40"/></clipPath><path clip-path="url(#hc30)" fill="none" stroke="#000" stroke-width="0.9" d="M617.02 40.06a2.1 2.1 0 1 0 4.2 0a2.1 2.1 0 1 0 -4.2 0M626.76 40.06a2.1 2.1 0 1 0 4.2 0a2.1 2.1 0 1 0 -4.2 0M621.89 49.80a2.1 2.1 0 1 0 4.2 0a2.1 2.1 0 1 0 -4.2 0M617.02 59.54a2.1 2.1 0 1 0 4.2 0a2.1 2.1 0 1 0 -4.2 0M626.76 59.54a2.1 2.1 0 1 0 4.2 0a2.1 2.1 0 1 0 -4.2 0M621.89 69.28a2.1 2.1 0 1 0 4.2 0a2.1 2.1 0 1 0 -4.2 0M617.02 79.03a2.1 2.1 0 1 0 4.2 0a2.1 2.1 0 1 0 -4.2 0M626.76 79.03a2.1 2.1 0 1 0 4.2 0a2.1 2.1 0 1 0 -4.2 0M621.89 88.77a2.1 2.1 0 1 0 4.2 0a2.1 2.1 0 1 0 -4.2 0M617.02 98.51a2.1 2.1 0 1 0 4.2 0a2.1 2.1 0 1 0 -4.2 0M626.76 98.51a2.1 2.1 0 1 0 4.2 0a2.1 2.1 0 1 0 -4.2 0M621.89 108.25a2.1 2.1 0 1 0 4.2 0a2.1 2.1 0 1 0 -4.2 0M617.02 117.99a2.1 2.1 0 1 0 4.2 0a2.1 2.1 0 1 0 -4.2 0M626.76 117.99a2.1 2.1 0 1 0 4.2 0a2.1 2.1 0 1 0 -4.2 0M621.89 127.74a2.1 2.1 0 1 0 4.2 0a2.1 2.1 0 1 0 -4.2 0M617.02 137.48a2.1 2.1 0 1 0 4.2 0a2.1 2.1 0 1 0 -4.2 0M626.76 137.48a2.1 2.1 0 1 0 4.2 0a2.1 2.1 0 1 0 -4.2 0M621.89 147.22a2.1 2.1 0 1 0 4.2 0a2.1 2.1 0 1 0 -4.2 0M617.02 156.96a2.1 2.1 0 1 0 4.2 0a2.1 2.1 0 1 0 -4.2 0M626.76 156.96a2.1 2.1 0 1 0 4.2 0a2.1 2.1 0 1 0 -4.2 0M621.89 166.70a2.1 2.1 0 1 0 4.2 0a2.1 2.1 0 1 0 -4.2 0M617.02 176.45a2.1 2.1 0 1 0 4.2 0a2.1 2.1 0 1 0 -4.2 0M626.76 176.45a2.1 2.1 0 1 0 4.2 0a2.1 2.1 0 1 0 -4.2 0M621.89 186.19a2.1 2.1 0 1 0 4.2 0a2.1 2.1 0 1 0 -4.2 0M617.02 195.93a2.1 2.1 0 1 0 4.2 0a2.1 2.1 0 1 0 -4.2 0M626.76 195.93a2.1 2.1 0 1 0 4.2 0a2.1 2.1 0 1 0 -4.2 0"/>
<rect x="617.82" y="41.20" width="8.11" height="161.40" fill="none" stroke="#4d5257" stroke-width="0.8"/>
<rect x="634.03" y="32.40" width="8.11" height="170.20" fill="#aec7e8" fill-opacity="0.7"/>
<clipPath id="hc31"><rect x="634.03" y="32.40" width="8.11" height="168.20"/></clipPath><path clip-path="url(#hc31)" fill="#000" d="M632.33 30.32a1.4 1.4 0 1 0 2.8 0a1.4 1.4 0 1 0 -2.8 0M642.07 30.32a1.4 1.4 0 1 0 2.8 0a1.4 1.4 0 1 0 -2.8 0M637.20 40.06a1.4 1.4 0 1 0 2.8 0a1.4 1.4 0 1 0 -2.8 0M632.33 49.80a1.4 1.4 0 1 0 2.8 0a1.4 1.4 0 1 0 -2.8 0M642.07 49.80a1.4 1.4 0 1 0 2.8 0a1.4 1.4 0 1 0 -2.8 0M637.20 59.54a1.4 1.4 0 1 0 2.8 0a1.4 1.4 0 1 0 -2.8 0M632.33 69.28a1.4 1.4 0 1 0 2.8 0a1.4 1.4 0 1 0 -2.8 0M642.07 69.28a1.4 1.4 0 1 0 2.8 0a1.4 1.4 0 1 0 -2.8 0M637.20 79.03a1.4 1.4 0 1 0 2.8 0a1.4 1.4 0 1 0 -2.8 0M632.33 88.77a1.4 1.4 0 1 0 2.8 0a1.4 1.4 0 1 0 -2.8 0M642.07 88.77a1.4 1.4 0 1 0 2.8 0a1.4 1.4 0 1 0 -2.8 0M637.20 98.51a1.4 1.4 0 1 0 2.8 0a1.4 1.4 0 1 0 -2.8 0M632.33 108.25a1.4 1.4 0 1 0 2.8 0a1.4 1.4 0 1 0 -2.8 0M642.07 108.25a1.4 1.4 0 1 0 2.8 0a1.4 1.4 0 1 0 -2.8 0M637.20 117.99a1.4 1.4 0 1 0 2.8 0a1.4 1.4 0 1 0 -2.8 0M632.33 127.74a1.4 1.4 0 1 0 2.8 0a1.4 1.4 0 1 0 -2.8 0M642.07 127.74a1.4 1.4 0 1 0 2.8 0a1.4 1.4 0 1 0 -2.8 0M637.20 137.48a1.4 1.4 0 1 0 2.8 0a1.4 1.4 0 1 0 -2.8 0M632.33 147.22a1.4 1.4 0 1 0 2.8 0a1.4 1.4 0 1 0 -2.8 0M642.07 147.22a1.4 1.4 0 1 0 2.8 0a1.4 1.4 0 1 0 -2.8 0M637.20 156.96a1.4 1.4 0 1 0 2.8 0a1.4 1.4 0 1 0 -2.8 0M632.33 166.70a1.4 1.4 0 1 0 2.8 0a1.4 1.4 0 1 0 -2.8 0M642.07 166.70a1.4 1.4 0 1 0 2.8 0a1.4 1.4 0 1 0 -2.8 0M637.20 176.45a1.4 1.4 0 1 0 2.8 0a1.4 1.4 0 1 0 -2.8 0M632.33 186.19a1.4 1.4 0 1 0 2.8 0a1.4 1.4 0 1 0 -2.8 0M642.07 186.19a1.4 1.4 0 1 0 2.8 0a1.4 1.4 0 1 0 -2.8 0M637.20 195.93a1.4 1.4 0 1 0 2.8 0a1.4 1.4 0 1 0 -2.8 0"/>
<rect x="634.03" y="32.40" width="8.11" height="170.20" fill="none" stroke="#4d5257" stroke-width="0.8"/>
<rect x="642.14" y="74.50" width="8.11" height="128.10" fill="#ffbb78" fill-opacity="0.7"/>
<rect x="642.14" y="74.50" width="8.11" height="128.10" fill="none" stroke="#4d5257" stroke-width="0.8"/>
<rect x="650.25" y="33.20" width="8.11" height="169.40" fill="#98df8a" fill-opacity="0.7"/>
<clipPath id="hc32"><rect x="650.25" y="33.20" width="8.11" height="167.40"/></clipPath><path clip-path="url(#hc32)" fill="none" stroke="#000" stroke-width="0.9" d="M651.11 30.32a2.1 2.1 0 1 0 4.2 0a2.1 2.1 0 1 0 -4.2 0M646.24 40.06a2.1 2.1 0 1 0 4.2 0a2.1 2.1 0 1 0 -4.2 0M655.99 40.06a2.1 2.1 0 1 0 4.2 0a2.1 2.1 0 1 0 -4.2 0M651.11 49.80a2.1 2.1 0 1 0 4.2 0a2.1 2.1 0 1 0 -4.2 0M646.24 59.54a2.1 2.1 0 1 0 4.2 0a2.1 2.1 0 1 0 -4.2 0M655.99 59.54a2.1 2.1 0 1 0 4.2 0a2.1 2.1 0 1 0 -4.2 0M651.11 69.28a2.1 2.1 0 1 0 4.2 0a2.1 2.1 0 1 0 -4.2 0M646.24 79.03a2.1 2.1 0 1 0 4.2 0a2.1 2.1 0 1 0 -4.2 0M655.99 79.03a2.1 2.1 0 1 0 4.2 0a2.1 2.1 0 1 0 -4.2 0M651.11 88.77a2.1 2.1 0 1 0 4.2 0a2.1 2.1 0 1 0 -4.2 0M646.24 98.51a2.1 2.1 0 1 0 4.2 0a2.1 2.1 0 1 0 -4.2 0M655.99 98.51a2.1 2.1 0 1 0 4.2 0a2.1 2.1 0 1 0 -4.2 0M651.11 108.25a2.1 2.1 0 1 0 4.2 0a2.1 2.1 0 1 0 -4.2 0M646.24 117.99a2.1 2.1 0 1 0 4.2 0a2.1 2.1 0 1 0 -4.2 0M655.99 117.99a2.1 2.1 0 1 0 4.2 0a2.1 2.1 0 1 0 -4.2 0M651.11 127.74a2.1 2.1 0 1 0 4.2 0a2.1 2.1 0 1 0 -4.2 0M646.24 137.48a2.1 2.1 0 1 0 4.2 0a2.1 2.1 0 1 0 -4.2 0M655.99 137.48a2.1 2.1 0 1 0 4.2 0a2.1 2.1 0 1 0 -4.2 0M651.11 147.22a2.1 2.1 0 1 0 4.2 0a2.1 2.1 0 1 0 -4.2 0M646.24 156.96a2.1 2.1 0 1 0 4.2 0a2.1 2.1 0 1 0 -4.2 0M655.99 156.96a2.1 2.1 0 1 0 4.2 0a2.1 2.1 0 1 0 -4.2 0M651.11 166.70a2.1 2.1 0 1 0 4.2 0a2.1 2.1 0 1 0 -4.2 0M646.24 176.45a2.1 2.1 0 1 0 4.2 0a2.1 2.1 0 1 0 -4.2 0M655.99 176.45a2.1 2.1 0 1 0 4.2 0a2.1 2.1 0 1 0 -4.2 0M651.11 186.19a2.1 2.1 0 1 0 4.2 0a2.1 2.1 0 1 0 -4.2 0M646.24 195.93a2.1 2.1 0 1 0 4.2 0a2.1 2.1 0 1 0 -4.2 0M655.99 195.93a2.1 2.1 0 1 0 4.2 0a2.1 2.1 0 1 0 -4.2 0"/>
<rect x="650.25" y="33.20" width="8.11" height="169.40" fill="none" stroke="#4d5257" stroke-width="0.8"/>
</g>
<line x1="151.49" y1="160.45" x2="151.49" y2="179.50" stroke="#000" stroke-width="1.3"/>
<line x1="147.99" y1="160.45" x2="154.99" y2="160.45" stroke="#000" stroke-width="1.0"/>
<line x1="147.99" y1="179.50" x2="154.99" y2="179.50" stroke="#000" stroke-width="1.0"/>
<line x1="159.60" y1="159.45" x2="159.60" y2="178.30" stroke="#000" stroke-width="1.3"/>
<line x1="156.10" y1="159.45" x2="163.10" y2="159.45" stroke="#000" stroke-width="1.0"/>
<line x1="156.10" y1="178.30" x2="163.10" y2="178.30" stroke="#000" stroke-width="1.0"/>
<line x1="167.71" y1="160.45" x2="167.71" y2="179.50" stroke="#000" stroke-width="1.3"/>
<line x1="164.21" y1="160.45" x2="171.21" y2="160.45" stroke="#000" stroke-width="1.0"/>
<line x1="164.21" y1="179.50" x2="171.21" y2="179.50" stroke="#000" stroke-width="1.0"/>
<line x1="183.93" y1="156.30" x2="183.93" y2="177.40" stroke="#000" stroke-width="1.3"/>
<line x1="180.43" y1="156.30" x2="187.43" y2="156.30" stroke="#000" stroke-width="1.0"/>
<line x1="180.43" y1="177.40" x2="187.43" y2="177.40" stroke="#000" stroke-width="1.0"/>
<line x1="192.04" y1="133.60" x2="192.04" y2="154.60" stroke="#000" stroke-width="1.3"/>
<line x1="188.54" y1="133.60" x2="195.54" y2="133.60" stroke="#000" stroke-width="1.0"/>
<line x1="188.54" y1="154.60" x2="195.54" y2="154.60" stroke="#000" stroke-width="1.0"/>
<line x1="200.15" y1="134.50" x2="200.15" y2="156.10" stroke="#000" stroke-width="1.3"/>
<line x1="196.65" y1="134.50" x2="203.65" y2="134.50" stroke="#000" stroke-width="1.0"/>
<line x1="196.65" y1="156.10" x2="203.65" y2="156.10" stroke="#000" stroke-width="1.0"/>
<line x1="216.37" y1="120.50" x2="216.37" y2="149.20" stroke="#000" stroke-width="1.3"/>
<line x1="212.87" y1="120.50" x2="219.87" y2="120.50" stroke="#000" stroke-width="1.0"/>
<line x1="212.87" y1="149.20" x2="219.87" y2="149.20" stroke="#000" stroke-width="1.0"/>
<line x1="224.48" y1="116.40" x2="224.48" y2="145.50" stroke="#000" stroke-width="1.3"/>
<line x1="220.98" y1="116.40" x2="227.98" y2="116.40" stroke="#000" stroke-width="1.0"/>
<line x1="220.98" y1="145.50" x2="227.98" y2="145.50" stroke="#000" stroke-width="1.0"/>
<line x1="232.59" y1="118.30" x2="232.59" y2="147.20" stroke="#000" stroke-width="1.3"/>
<line x1="229.09" y1="118.30" x2="236.09" y2="118.30" stroke="#000" stroke-width="1.0"/>
<line x1="229.09" y1="147.20" x2="236.09" y2="147.20" stroke="#000" stroke-width="1.0"/>
<line x1="248.81" y1="154.10" x2="248.81" y2="174.00" stroke="#000" stroke-width="1.3"/>
<line x1="245.31" y1="154.10" x2="252.31" y2="154.10" stroke="#000" stroke-width="1.0"/>
<line x1="245.31" y1="174.00" x2="252.31" y2="174.00" stroke="#000" stroke-width="1.0"/>
<line x1="256.92" y1="126.50" x2="256.92" y2="146.20" stroke="#000" stroke-width="1.3"/>
<line x1="253.42" y1="126.50" x2="260.42" y2="126.50" stroke="#000" stroke-width="1.0"/>
<line x1="253.42" y1="146.20" x2="260.42" y2="146.20" stroke="#000" stroke-width="1.0"/>
<line x1="265.03" y1="127.40" x2="265.03" y2="147.50" stroke="#000" stroke-width="1.3"/>
<line x1="261.53" y1="127.40" x2="268.53" y2="127.40" stroke="#000" stroke-width="1.0"/>
<line x1="261.53" y1="147.50" x2="268.53" y2="147.50" stroke="#000" stroke-width="1.0"/>
<line x1="281.25" y1="155.00" x2="281.25" y2="175.60" stroke="#000" stroke-width="1.3"/>
<line x1="277.75" y1="155.00" x2="284.75" y2="155.00" stroke="#000" stroke-width="1.0"/>
<line x1="277.75" y1="175.60" x2="284.75" y2="175.60" stroke="#000" stroke-width="1.0"/>
<line x1="289.36" y1="123.20" x2="289.36" y2="143.40" stroke="#000" stroke-width="1.3"/>
<line x1="285.86" y1="123.20" x2="292.86" y2="123.20" stroke="#000" stroke-width="1.0"/>
<line x1="285.86" y1="143.40" x2="292.86" y2="143.40" stroke="#000" stroke-width="1.0"/>
<line x1="297.47" y1="124.50" x2="297.47" y2="144.20" stroke="#000" stroke-width="1.3"/>
<line x1="293.97" y1="124.50" x2="300.97" y2="124.50" stroke="#000" stroke-width="1.0"/>
<line x1="293.97" y1="144.20" x2="300.97" y2="144.20" stroke="#000" stroke-width="1.0"/>
<line x1="313.69" y1="114.40" x2="313.69" y2="143.30" stroke="#000" stroke-width="1.3"/>
<line x1="310.19" y1="114.40" x2="317.19" y2="114.40" stroke="#000" stroke-width="1.0"/>
<line x1="310.19" y1="143.30" x2="317.19" y2="143.30" stroke="#000" stroke-width="1.0"/>
<line x1="321.80" y1="110.20" x2="321.80" y2="139.50" stroke="#000" stroke-width="1.3"/>
<line x1="318.30" y1="110.20" x2="325.30" y2="110.20" stroke="#000" stroke-width="1.0"/>
<line x1="318.30" y1="139.50" x2="325.30" y2="139.50" stroke="#000" stroke-width="1.0"/>
<line x1="329.91" y1="111.80" x2="329.91" y2="140.80" stroke="#000" stroke-width="1.3"/>
<line x1="326.41" y1="111.80" x2="333.41" y2="111.80" stroke="#000" stroke-width="1.0"/>
<line x1="326.41" y1="140.80" x2="333.41" y2="140.80" stroke="#000" stroke-width="1.0"/>
<line x1="346.13" y1="111.80" x2="346.13" y2="142.10" stroke="#000" stroke-width="1.3"/>
<line x1="342.63" y1="111.80" x2="349.63" y2="111.80" stroke="#000" stroke-width="1.0"/>
<line x1="342.63" y1="142.10" x2="349.63" y2="142.10" stroke="#000" stroke-width="1.0"/>
<line x1="354.24" y1="108.20" x2="354.24" y2="137.40" stroke="#000" stroke-width="1.3"/>
<line x1="350.74" y1="108.20" x2="357.74" y2="108.20" stroke="#000" stroke-width="1.0"/>
<line x1="350.74" y1="137.40" x2="357.74" y2="137.40" stroke="#000" stroke-width="1.0"/>
<line x1="362.35" y1="109.40" x2="362.35" y2="138.50" stroke="#000" stroke-width="1.3"/>
<line x1="358.85" y1="109.40" x2="365.85" y2="109.40" stroke="#000" stroke-width="1.0"/>
<line x1="358.85" y1="138.50" x2="365.85" y2="138.50" stroke="#000" stroke-width="1.0"/>
<line x1="378.57" y1="69.50" x2="378.57" y2="100.30" stroke="#000" stroke-width="1.3"/>
<line x1="375.07" y1="69.50" x2="382.07" y2="69.50" stroke="#000" stroke-width="1.0"/>
<line x1="375.07" y1="100.30" x2="382.07" y2="100.30" stroke="#000" stroke-width="1.0"/>
<line x1="386.68" y1="72.40" x2="386.68" y2="103.50" stroke="#000" stroke-width="1.3"/>
<line x1="383.18" y1="72.40" x2="390.18" y2="72.40" stroke="#000" stroke-width="1.0"/>
<line x1="383.18" y1="103.50" x2="390.18" y2="103.50" stroke="#000" stroke-width="1.0"/>
<line x1="394.79" y1="69.50" x2="394.79" y2="100.30" stroke="#000" stroke-width="1.3"/>
<line x1="391.29" y1="69.50" x2="398.29" y2="69.50" stroke="#000" stroke-width="1.0"/>
<line x1="391.29" y1="100.30" x2="398.29" y2="100.30" stroke="#000" stroke-width="1.0"/>
<line x1="411.01" y1="58.50" x2="411.01" y2="89.20" stroke="#000" stroke-width="1.3"/>
<line x1="407.51" y1="58.50" x2="414.51" y2="58.50" stroke="#000" stroke-width="1.0"/>
<line x1="407.51" y1="89.20" x2="414.51" y2="89.20" stroke="#000" stroke-width="1.0"/>
<line x1="419.12" y1="70.20" x2="419.12" y2="101.40" stroke="#000" stroke-width="1.3"/>
<line x1="415.62" y1="70.20" x2="422.62" y2="70.20" stroke="#000" stroke-width="1.0"/>
<line x1="415.62" y1="101.40" x2="422.62" y2="101.40" stroke="#000" stroke-width="1.0"/>
<line x1="427.23" y1="55.10" x2="427.23" y2="85.90" stroke="#000" stroke-width="1.3"/>
<line x1="423.73" y1="55.10" x2="430.73" y2="55.10" stroke="#000" stroke-width="1.0"/>
<line x1="423.73" y1="85.90" x2="430.73" y2="85.90" stroke="#000" stroke-width="1.0"/>
<line x1="443.45" y1="52.10" x2="443.45" y2="81.40" stroke="#000" stroke-width="1.3"/>
<line x1="439.95" y1="52.10" x2="446.95" y2="52.10" stroke="#000" stroke-width="1.0"/>
<line x1="439.95" y1="81.40" x2="446.95" y2="81.40" stroke="#000" stroke-width="1.0"/>
<line x1="451.56" y1="67.90" x2="451.56" y2="96.70" stroke="#000" stroke-width="1.3"/>
<line x1="448.06" y1="67.90" x2="455.06" y2="67.90" stroke="#000" stroke-width="1.0"/>
<line x1="448.06" y1="96.70" x2="455.06" y2="96.70" stroke="#000" stroke-width="1.0"/>
<line x1="459.67" y1="51.50" x2="459.67" y2="80.60" stroke="#000" stroke-width="1.3"/>
<line x1="456.17" y1="51.50" x2="463.17" y2="51.50" stroke="#000" stroke-width="1.0"/>
<line x1="456.17" y1="80.60" x2="463.17" y2="80.60" stroke="#000" stroke-width="1.0"/>
<line x1="475.89" y1="57.10" x2="475.89" y2="87.10" stroke="#000" stroke-width="1.3"/>
<line x1="472.39" y1="57.10" x2="479.39" y2="57.10" stroke="#000" stroke-width="1.0"/>
<line x1="472.39" y1="87.10" x2="479.39" y2="87.10" stroke="#000" stroke-width="1.0"/>
<line x1="484.00" y1="68.80" x2="484.00" y2="99.10" stroke="#000" stroke-width="1.3"/>
<line x1="480.50" y1="68.80" x2="487.50" y2="68.80" stroke="#000" stroke-width="1.0"/>
<line x1="480.50" y1="99.10" x2="487.50" y2="99.10" stroke="#000" stroke-width="1.0"/>
<line x1="492.11" y1="49.50" x2="492.11" y2="79.50" stroke="#000" stroke-width="1.3"/>
<line x1="488.61" y1="49.50" x2="495.61" y2="49.50" stroke="#000" stroke-width="1.0"/>
<line x1="488.61" y1="79.50" x2="495.61" y2="79.50" stroke="#000" stroke-width="1.0"/>
<line x1="508.33" y1="47.10" x2="508.33" y2="75.40" stroke="#000" stroke-width="1.3"/>
<line x1="504.83" y1="47.10" x2="511.83" y2="47.10" stroke="#000" stroke-width="1.0"/>
<line x1="504.83" y1="75.40" x2="511.83" y2="75.40" stroke="#000" stroke-width="1.0"/>
<line x1="516.44" y1="67.40" x2="516.44" y2="95.60" stroke="#000" stroke-width="1.3"/>
<line x1="512.94" y1="67.40" x2="519.94" y2="67.40" stroke="#000" stroke-width="1.0"/>
<line x1="512.94" y1="95.60" x2="519.94" y2="95.60" stroke="#000" stroke-width="1.0"/>
<line x1="524.55" y1="46.20" x2="524.55" y2="73.20" stroke="#000" stroke-width="1.3"/>
<line x1="521.05" y1="46.20" x2="528.05" y2="46.20" stroke="#000" stroke-width="1.0"/>
<line x1="521.05" y1="73.20" x2="528.05" y2="73.20" stroke="#000" stroke-width="1.0"/>
<line x1="540.77" y1="37.10" x2="540.77" y2="63.80" stroke="#000" stroke-width="1.3"/>
<line x1="537.27" y1="37.10" x2="544.27" y2="37.10" stroke="#000" stroke-width="1.0"/>
<line x1="537.27" y1="63.80" x2="544.27" y2="63.80" stroke="#000" stroke-width="1.0"/>
<line x1="548.88" y1="64.40" x2="548.88" y2="91.20" stroke="#000" stroke-width="1.3"/>
<line x1="545.38" y1="64.40" x2="552.38" y2="64.40" stroke="#000" stroke-width="1.0"/>
<line x1="545.38" y1="91.20" x2="552.38" y2="91.20" stroke="#000" stroke-width="1.0"/>
<line x1="556.99" y1="38.30" x2="556.99" y2="64.80" stroke="#000" stroke-width="1.3"/>
<line x1="553.49" y1="38.30" x2="560.49" y2="38.30" stroke="#000" stroke-width="1.0"/>
<line x1="553.49" y1="64.80" x2="560.49" y2="64.80" stroke="#000" stroke-width="1.0"/>
<line x1="573.21" y1="31.50" x2="573.21" y2="57.10" stroke="#000" stroke-width="1.3"/>
<line x1="569.71" y1="31.50" x2="576.71" y2="31.50" stroke="#000" stroke-width="1.0"/>
<line x1="569.71" y1="57.10" x2="576.71" y2="57.10" stroke="#000" stroke-width="1.0"/>
<line x1="581.32" y1="65.00" x2="581.32" y2="90.30" stroke="#000" stroke-width="1.3"/>
<line x1="577.82" y1="65.00" x2="584.82" y2="65.00" stroke="#000" stroke-width="1.0"/>
<line x1="577.82" y1="90.30" x2="584.82" y2="90.30" stroke="#000" stroke-width="1.0"/>
<line x1="589.43" y1="30.30" x2="589.43" y2="55.80" stroke="#000" stroke-width="1.3"/>
<line x1="585.93" y1="30.30" x2="592.93" y2="30.30" stroke="#000" stroke-width="1.0"/>
<line x1="585.93" y1="55.80" x2="592.93" y2="55.80" stroke="#000" stroke-width="1.0"/>
<line x1="605.65" y1="29.80" x2="605.65" y2="54.50" stroke="#000" stroke-width="1.3"/>
<line x1="602.15" y1="29.80" x2="609.15" y2="29.80" stroke="#000" stroke-width="1.0"/>
<line x1="602.15" y1="54.50" x2="609.15" y2="54.50" stroke="#000" stroke-width="1.0"/>
<line x1="613.76" y1="64.40" x2="613.76" y2="88.80" stroke="#000" stroke-width="1.3"/>
<line x1="610.26" y1="64.40" x2="617.26" y2="64.40" stroke="#000" stroke-width="1.0"/>
<line x1="610.26" y1="88.80" x2="617.26" y2="88.80" stroke="#000" stroke-width="1.0"/>
<line x1="621.87" y1="29.20" x2="621.87" y2="53.50" stroke="#000" stroke-width="1.3"/>
<line x1="618.37" y1="29.20" x2="625.37" y2="29.20" stroke="#000" stroke-width="1.0"/>
<line x1="618.37" y1="53.50" x2="625.37" y2="53.50" stroke="#000" stroke-width="1.0"/>
<line x1="638.09" y1="21.40" x2="638.09" y2="43.30" stroke="#000" stroke-width="1.3"/>
<line x1="634.59" y1="21.40" x2="641.59" y2="21.40" stroke="#000" stroke-width="1.0"/>
<line x1="634.59" y1="43.30" x2="641.59" y2="43.30" stroke="#000" stroke-width="1.0"/>
<line x1="646.20" y1="63.30" x2="646.20" y2="85.30" stroke="#000" stroke-width="1.3"/>
<line x1="642.70" y1="63.30" x2="649.70" y2="63.30" stroke="#000" stroke-width="1.0"/>
<line x1="642.70" y1="85.30" x2="649.70" y2="85.30" stroke="#000" stroke-width="1.0"/>
<line x1="654.31" y1="21.80" x2="654.31" y2="44.40" stroke="#000" stroke-width="1.3"/>
<line x1="650.81" y1="21.80" x2="657.81" y2="21.80" stroke="#000" stroke-width="1.0"/>
<line x1="650.81" y1="44.40" x2="657.81" y2="44.40" stroke="#000" stroke-width="1.0"/>
<rect x="44" y="4" width="641" height="1" fill="rgb(150,150,150)"/>
<rect x="44" y="5" width="641" height="1" fill="rgb(180,180,180)"/>
<rect x="44" y="200" width="641" height="1" fill="rgb(90,90,90)"/>
<rect x="44" y="3" width="1" height="199" fill="rgb(150,150,150)"/>
<rect x="45" y="3" width="1" height="199" fill="rgb(155,155,155)"/>
<rect x="683" y="3" width="1" height="199" fill="rgb(150,150,150)"/>
<rect x="684" y="3" width="1" height="199" fill="rgb(205,205,205)"/>
<line x1="42.1" y1="200.60" x2="45.1" y2="200.60" stroke="#333" stroke-width="0.8"/>
<text x="13.53" y="205.00" font-size="11.9" textLength="25.72" lengthAdjust="spacingAndGlyphs" fill="#1a1a1a">1.00</text>
<line x1="42.1" y1="172.63" x2="45.1" y2="172.63" stroke="#333" stroke-width="0.8"/>
<text x="13.53" y="177.03" font-size="11.9" textLength="25.72" lengthAdjust="spacingAndGlyphs" fill="#1a1a1a">1.50</text>
<line x1="42.1" y1="144.66" x2="45.1" y2="144.66" stroke="#333" stroke-width="0.8"/>
<text x="13.88" y="149.06" font-size="11.9" textLength="25.35" lengthAdjust="spacingAndGlyphs" fill="#1a1a1a">2.00</text>
<line x1="42.1" y1="116.69" x2="45.1" y2="116.69" stroke="#333" stroke-width="0.8"/>
<text x="13.88" y="121.09" font-size="11.9" textLength="25.35" lengthAdjust="spacingAndGlyphs" fill="#1a1a1a">2.50</text>
<line x1="42.1" y1="88.71" x2="45.1" y2="88.71" stroke="#333" stroke-width="0.8"/>
<text x="14.02" y="93.11" font-size="11.9" textLength="25.21" lengthAdjust="spacingAndGlyphs" fill="#1a1a1a">3.00</text>
<line x1="42.1" y1="60.74" x2="45.1" y2="60.74" stroke="#333" stroke-width="0.8"/>
<text x="14.02" y="65.14" font-size="11.9" textLength="25.21" lengthAdjust="spacingAndGlyphs" fill="#1a1a1a">3.50</text>
<line x1="42.1" y1="32.77" x2="45.1" y2="32.77" stroke="#333" stroke-width="0.8"/>
<text x="14.23" y="37.17" font-size="11.9" textLength="25.00" lengthAdjust="spacingAndGlyphs" fill="#1a1a1a">4.00</text>
<line x1="42.1" y1="4.80" x2="45.1" y2="4.80" stroke="#333" stroke-width="0.8"/>
<text x="14.23" y="9.20" font-size="11.9" textLength="25.00" lengthAdjust="spacingAndGlyphs" fill="#1a1a1a">4.50</text>
<line x1="159.60" y1="200.6" x2="159.60" y2="203.6" stroke="#333" stroke-width="0.8"/>
<text x="147.76" y="214.10" font-size="11.0" textLength="23.37" lengthAdjust="spacingAndGlyphs" fill="#1a1a1a">1.07</text>
<line x1="192.04" y1="200.6" x2="192.04" y2="203.6" stroke="#333" stroke-width="0.8"/>
<text x="180.20" y="214.10" font-size="11.0" textLength="23.37" lengthAdjust="spacingAndGlyphs" fill="#1a1a1a">1.22</text>
<line x1="224.48" y1="200.6" x2="224.48" y2="203.6" stroke="#333" stroke-width="0.8"/>
<text x="212.65" y="214.10" font-size="11.0" textLength="23.30" lengthAdjust="spacingAndGlyphs" fill="#1a1a1a">1.23</text>
<line x1="256.92" y1="200.6" x2="256.92" y2="203.6" stroke="#333" stroke-width="0.8"/>
<text x="245.08" y="214.10" font-size="11.0" textLength="23.37" lengthAdjust="spacingAndGlyphs" fill="#1a1a1a">1.31</text>
<line x1="289.36" y1="200.6" x2="289.36" y2="203.6" stroke="#333" stroke-width="0.8"/>
<text x="277.53" y="214.10" font-size="11.0" textLength="23.23" lengthAdjust="spacingAndGlyphs" fill="#1a1a1a">1.35</text>
<line x1="321.80" y1="200.6" x2="321.80" y2="203.6" stroke="#333" stroke-width="0.8"/>
<text x="309.97" y="214.10" font-size="11.0" textLength="23.08" lengthAdjust="spacingAndGlyphs" fill="#1a1a1a">1.34</text>
<line x1="354.24" y1="200.6" x2="354.24" y2="203.6" stroke="#333" stroke-width="0.8"/>
<text x="342.40" y="214.10" font-size="11.0" textLength="23.37" lengthAdjust="spacingAndGlyphs" fill="#1a1a1a">1.41</text>
<line x1="386.68" y1="200.6" x2="386.68" y2="203.6" stroke="#333" stroke-width="0.8"/>
<text x="375.12" y="214.10" font-size="11.0" textLength="23.08" lengthAdjust="spacingAndGlyphs" fill="#1a1a1a">2.22</text>
<line x1="419.12" y1="200.6" x2="419.12" y2="203.6" stroke="#333" stroke-width="0.8"/>
<text x="407.57" y="214.10" font-size="11.0" textLength="22.94" lengthAdjust="spacingAndGlyphs" fill="#1a1a1a">2.55</text>
<line x1="451.56" y1="200.6" x2="451.56" y2="203.6" stroke="#333" stroke-width="0.8"/>
<text x="440.00" y="214.10" font-size="11.0" textLength="23.08" lengthAdjust="spacingAndGlyphs" fill="#1a1a1a">2.61</text>
<line x1="484.00" y1="200.6" x2="484.00" y2="203.6" stroke="#333" stroke-width="0.8"/>
<text x="472.45" y="214.10" font-size="11.0" textLength="22.94" lengthAdjust="spacingAndGlyphs" fill="#1a1a1a">2.70</text>
<line x1="516.44" y1="200.6" x2="516.44" y2="203.6" stroke="#333" stroke-width="0.8"/>
<text x="504.88" y="214.10" font-size="11.0" textLength="23.08" lengthAdjust="spacingAndGlyphs" fill="#1a1a1a">2.77</text>
<line x1="548.88" y1="200.6" x2="548.88" y2="203.6" stroke="#333" stroke-width="0.8"/>
<text x="537.46" y="214.10" font-size="11.0" textLength="22.87" lengthAdjust="spacingAndGlyphs" fill="#1a1a1a">3.08</text>
<line x1="581.32" y1="200.6" x2="581.32" y2="203.6" stroke="#333" stroke-width="0.8"/>
<text x="569.90" y="214.10" font-size="11.0" textLength="22.87" lengthAdjust="spacingAndGlyphs" fill="#1a1a1a">3.28</text>
<line x1="613.76" y1="200.6" x2="613.76" y2="203.6" stroke="#333" stroke-width="0.8"/>
<text x="602.34" y="214.10" font-size="11.0" textLength="22.80" lengthAdjust="spacingAndGlyphs" fill="#1a1a1a">3.30</text>
<line x1="646.20" y1="200.6" x2="646.20" y2="203.6" stroke="#333" stroke-width="0.8"/>
<text x="634.78" y="214.10" font-size="11.0" textLength="22.94" lengthAdjust="spacingAndGlyphs" fill="#1a1a1a">3.57</text>
<text x="74.89" y="214.10" font-size="11.0" textLength="63.26" lengthAdjust="spacingAndGlyphs" fill="#1a1a1a">PESQ Input:</text>
<text transform="translate(9.4,119.08) rotate(-90)" x="0" y="0" font-size="11.6" textLength="30.40" lengthAdjust="spacingAndGlyphs" fill="#1a1a1a">PESQ</text>
<line x1="45.1" y1="413.40" x2="683.5" y2="413.40" stroke="#c8c8c8" stroke-width="0.7" stroke-dasharray="2.4 1.04"/>
<line x1="45.1" y1="378.42" x2="683.5" y2="378.42" stroke="#c8c8c8" stroke-width="0.7" stroke-dasharray="2.4 1.04"/>
<line x1="45.1" y1="343.44" x2="683.5" y2="343.44" stroke="#c8c8c8" stroke-width="0.7" stroke-dasharray="2.4 1.04"/>
<line x1="45.1" y1="308.46" x2="683.5" y2="308.46" stroke="#c8c8c8" stroke-width="0.7" stroke-dasharray="2.4 1.04"/>
<line x1="45.1" y1="273.48" x2="683.5" y2="273.48" stroke="#c8c8c8" stroke-width="0.7" stroke-dasharray="2.4 1.04"/>
<g clip-path="url(#cp1)">
<rect x="147.44" y="386.50" width="8.11" height="49.90" fill="#aec7e8" fill-opacity="0.7"/>
<clipPath id="hc33"><rect x="147.44" y="386.50" width="8.11" height="47.90"/></clipPath><path clip-path="url(#hc33)" fill="#000" d="M150.10 390.77a1.4 1.4 0 1 0 2.8 0a1.4 1.4 0 1 0 -2.8 0M145.23 400.51a1.4 1.4 0 1 0 2.8 0a1.4 1.4 0 1 0 -2.8 0M154.97 400.51a1.4 1.4 0 1 0 2.8 0a1.4 1.4 0 1 0 -2.8 0M150.10 410.25a1.4 1.4 0 1 0 2.8 0a1.4 1.4 0 1 0 -2.8 0M145.23 420.00a1.4 1.4 0 1 0 2.8 0a1.4 1.4 0 1 0 -2.8 0M154.97 420.00a1.4 1.4 0 1 0 2.8 0a1.4 1.4 0 1 0 -2.8 0M150.10 429.74a1.4 1.4 0 1 0 2.8 0a1.4 1.4 0 1 0 -2.8 0"/>
<rect x="147.44" y="386.50" width="8.11" height="49.90" fill="none" stroke="#4d5257" stroke-width="0.8"/>
<rect x="155.54" y="383.50" width="8.11" height="52.90" fill="#ffbb78" fill-opacity="0.7"/>
<rect x="155.54" y="383.50" width="8.11" height="52.90" fill="none" stroke="#4d5257" stroke-width="0.8"/>
<rect x="163.65" y="384.40" width="8.11" height="52.00" fill="#98df8a" fill-opacity="0.7"/>
<clipPath id="hc34"><rect x="163.65" y="384.40" width="8.11" height="50.00"/></clipPath><path clip-path="url(#hc34)" fill="none" stroke="#000" stroke-width="0.9" d="M159.14 390.77a2.1 2.1 0 1 0 4.2 0a2.1 2.1 0 1 0 -4.2 0M168.89 390.77a2.1 2.1 0 1 0 4.2 0a2.1 2.1 0 1 0 -4.2 0M164.01 400.51a2.1 2.1 0 1 0 4.2 0a2.1 2.1 0 1 0 -4.2 0M159.14 410.25a2.1 2.1 0 1 0 4.2 0a2.1 2.1 0 1 0 -4.2 0M168.89 410.25a2.1 2.1 0 1 0 4.2 0a2.1 2.1 0 1 0 -4.2 0M164.01 420.00a2.1 2.1 0 1 0 4.2 0a2.1 2.1 0 1 0 -4.2 0M159.14 429.74a2.1 2.1 0 1 0 4.2 0a2.1 2.1 0 1 0 -4.2 0M168.89 429.74a2.1 2.1 0 1 0 4.2 0a2.1 2.1 0 1 0 -4.2 0"/>
<rect x="163.65" y="384.40" width="8.11" height="52.00" fill="none" stroke="#4d5257" stroke-width="0.8"/>
<rect x="179.88" y="381.80" width="8.11" height="54.60" fill="#aec7e8" fill-opacity="0.7"/>
<clipPath id="hc35"><rect x="179.88" y="381.80" width="8.11" height="52.60"/></clipPath><path clip-path="url(#hc35)" fill="#000" d="M184.20 381.03a1.4 1.4 0 1 0 2.8 0a1.4 1.4 0 1 0 -2.8 0M179.33 390.77a1.4 1.4 0 1 0 2.8 0a1.4 1.4 0 1 0 -2.8 0M184.20 400.51a1.4 1.4 0 1 0 2.8 0a1.4 1.4 0 1 0 -2.8 0M179.33 410.25a1.4 1.4 0 1 0 2.8 0a1.4 1.4 0 1 0 -2.8 0M184.20 420.00a1.4 1.4 0 1 0 2.8 0a1.4 1.4 0 1 0 -2.8 0M179.33 429.74a1.4 1.4 0 1 0 2.8 0a1.4 1.4 0 1 0 -2.8 0"/>
<rect x="179.88" y="381.80" width="8.11" height="54.60" fill="none" stroke="#4d5257" stroke-width="0.8"/>
<rect x="187.98" y="346.50" width="8.11" height="89.90" fill="#ffbb78" fill-opacity="0.7"/>
<rect x="187.98" y="346.50" width="8.11" height="89.90" fill="none" stroke="#4d5257" stroke-width="0.8"/>
<rect x="196.09" y="346.50" width="8.11" height="89.90" fill="#98df8a" fill-opacity="0.7"/>
<clipPath id="hc36"><rect x="196.09" y="346.50" width="8.11" height="87.90"/></clipPath><path clip-path="url(#hc36)" fill="none" stroke="#000" stroke-width="0.9" d="M198.11 351.80a2.1 2.1 0 1 0 4.2 0a2.1 2.1 0 1 0 -4.2 0M193.24 361.54a2.1 2.1 0 1 0 4.2 0a2.1 2.1 0 1 0 -4.2 0M202.98 361.54a2.1 2.1 0 1 0 4.2 0a2.1 2.1 0 1 0 -4.2 0M198.11 371.29a2.1 2.1 0 1 0 4.2 0a2.1 2.1 0 1 0 -4.2 0M193.24 381.03a2.1 2.1 0 1 0 4.2 0a2.1 2.1 0 1 0 -4.2 0M202.98 381.03a2.1 2.1 0 1 0 4.2 0a2.1 2.1 0 1 0 -4.2 0M198.11 390.77a2.1 2.1 0 1 0 4.2 0a2.1 2.1 0 1 0 -4.2 0M193.24 400.51a2.1 2.1 0 1 0 4.2 0a2.1 2.1 0 1 0 -4.2 0M202.98 400.51a2.1 2.1 0 1 0 4.2 0a2.1 2.1 0 1 0 -4.2 0M198.11 410.25a2.1 2.1 0 1 0 4.2 0a2.1 2.1 0 1 0 -4.2 0M193.24 420.00a2.1 2.1 0 1 0 4.2 0a2.1 2.1 0 1 0 -4.2 0M202.98 420.00a2.1 2.1 0 1 0 4.2 0a2.1 2.1 0 1 0 -4.2 0M198.11 429.74a2.1 2.1 0 1 0 4.2 0a2.1 2.1 0 1 0 -4.2 0"/>
<rect x="196.09" y="346.50" width="8.11" height="89.90" fill="none" stroke="#4d5257" stroke-width="0.8"/>
<rect x="212.31" y="322.40" width="8.11" height="114.00" fill="#aec7e8" fill-opacity="0.7"/>
<clipPath id="hc37"><rect x="212.31" y="322.40" width="8.11" height="112.00"/></clipPath><path clip-path="url(#hc37)" fill="#000" d="M213.42 322.58a1.4 1.4 0 1 0 2.8 0a1.4 1.4 0 1 0 -2.8 0M208.55 332.32a1.4 1.4 0 1 0 2.8 0a1.4 1.4 0 1 0 -2.8 0M218.30 332.32a1.4 1.4 0 1 0 2.8 0a1.4 1.4 0 1 0 -2.8 0M213.42 342.06a1.4 1.4 0 1 0 2.8 0a1.4 1.4 0 1 0 -2.8 0M208.55 351.80a1.4 1.4 0 1 0 2.8 0a1.4 1.4 0 1 0 -2.8 0M218.30 351.80a1.4 1.4 0 1 0 2.8 0a1.4 1.4 0 1 0 -2.8 0M213.42 361.54a1.4 1.4 0 1 0 2.8 0a1.4 1.4 0 1 0 -2.8 0M208.55 371.29a1.4 1.4 0 1 0 2.8 0a1.4 1.4 0 1 0 -2.8 0M218.30 371.29a1.4 1.4 0 1 0 2.8 0a1.4 1.4 0 1 0 -2.8 0M213.42 381.03a1.4 1.4 0 1 0 2.8 0a1.4 1.4 0 1 0 -2.8 0M208.55 390.77a1.4 1.4 0 1 0 2.8 0a1.4 1.4 0 1 0 -2.8 0M218.30 390.77a1.4 1.4 0 1 0 2.8 0a1.4 1.4 0 1 0 -2.8 0M213.42 400.51a1.4 1.4 0 1 0 2.8 0a1.4 1.4 0 1 0 -2.8 0M208.55 410.25a1.4 1.4 0 1 0 2.8 0a1.4 1.4 0 1 0 -2.8 0M218.30 410.25a1.4 1.4 0 1 0 2.8 0a1.4 1.4 0 1 0 -2.8 0M213.42 420.00a1.4 1.4 0 1 0 2.8 0a1.4 1.4 0 1 0 -2.8 0M208.55 429.74a1.4 1.4 0 1 0 2.8 0a1.4 1.4 0 1 0 -2.8 0M218.30 429.74a1.4 1.4 0 1 0 2.8 0a1.4 1.4 0 1 0 -2.8 0"/>
<rect x="212.31" y="322.40" width="8.11" height="114.00" fill="none" stroke="#4d5257" stroke-width="0.8"/>
<rect x="220.42" y="318.90" width="8.11" height="117.50" fill="#ffbb78" fill-opacity="0.7"/>
<rect x="220.42" y="318.90" width="8.11" height="117.50" fill="none" stroke="#4d5257" stroke-width="0.8"/>
<rect x="228.53" y="320.90" width="8.11" height="115.50" fill="#98df8a" fill-opacity="0.7"/>
<clipPath id="hc38"><rect x="228.53" y="320.90" width="8.11" height="113.50"/></clipPath><path clip-path="url(#hc38)" fill="none" stroke="#000" stroke-width="0.9" d="M232.21 322.58a2.1 2.1 0 1 0 4.2 0a2.1 2.1 0 1 0 -4.2 0M227.34 332.32a2.1 2.1 0 1 0 4.2 0a2.1 2.1 0 1 0 -4.2 0M237.08 332.32a2.1 2.1 0 1 0 4.2 0a2.1 2.1 0 1 0 -4.2 0M232.21 342.06a2.1 2.1 0 1 0 4.2 0a2.1 2.1 0 1 0 -4.2 0M227.34 351.80a2.1 2.1 0 1 0 4.2 0a2.1 2.1 0 1 0 -4.2 0M237.08 351.80a2.1 2.1 0 1 0 4.2 0a2.1 2.1 0 1 0 -4.2 0M232.21 361.54a2.1 2.1 0 1 0 4.2 0a2.1 2.1 0 1 0 -4.2 0M227.34 371.29a2.1 2.1 0 1 0 4.2 0a2.1 2.1 0 1 0 -4.2 0M237.08 371.29a2.1 2.1 0 1 0 4.2 0a2.1 2.1 0 1 0 -4.2 0M232.21 381.03a2.1 2.1 0 1 0 4.2 0a2.1 2.1 0 1 0 -4.2 0M227.34 390.77a2.1 2.1 0 1 0 4.2 0a2.1 2.1 0 1 0 -4.2 0M237.08 390.77a2.1 2.1 0 1 0 4.2 0a2.1 2.1 0 1 0 -4.2 0M232.21 400.51a2.1 2.1 0 1 0 4.2 0a2.1 2.1 0 1 0 -4.2 0M227.34 410.25a2.1 2.1 0 1 0 4.2 0a2.1 2.1 0 1 0 -4.2 0M237.08 410.25a2.1 2.1 0 1 0 4.2 0a2.1 2.1 0 1 0 -4.2 0M232.21 420.00a2.1 2.1 0 1 0 4.2 0a2.1 2.1 0 1 0 -4.2 0M227.34 429.74a2.1 2.1 0 1 0 4.2 0a2.1 2.1 0 1 0 -4.2 0M237.08 429.74a2.1 2.1 0 1 0 4.2 0a2.1 2.1 0 1 0 -4.2 0"/>
<rect x="228.53" y="320.90" width="8.11" height="115.50" fill="none" stroke="#4d5257" stroke-width="0.8"/>
<rect x="244.75" y="378.40" width="8.11" height="58.00" fill="#aec7e8" fill-opacity="0.7"/>
<clipPath id="hc39"><rect x="244.75" y="378.40" width="8.11" height="56.00"/></clipPath><path clip-path="url(#hc39)" fill="#000" d="M242.65 381.03a1.4 1.4 0 1 0 2.8 0a1.4 1.4 0 1 0 -2.8 0M252.39 381.03a1.4 1.4 0 1 0 2.8 0a1.4 1.4 0 1 0 -2.8 0M247.52 390.77a1.4 1.4 0 1 0 2.8 0a1.4 1.4 0 1 0 -2.8 0M242.65 400.51a1.4 1.4 0 1 0 2.8 0a1.4 1.4 0 1 0 -2.8 0M252.39 400.51a1.4 1.4 0 1 0 2.8 0a1.4 1.4 0 1 0 -2.8 0M247.52 410.25a1.4 1.4 0 1 0 2.8 0a1.4 1.4 0 1 0 -2.8 0M242.65 420.00a1.4 1.4 0 1 0 2.8 0a1.4 1.4 0 1 0 -2.8 0M252.39 420.00a1.4 1.4 0 1 0 2.8 0a1.4 1.4 0 1 0 -2.8 0M247.52 429.74a1.4 1.4 0 1 0 2.8 0a1.4 1.4 0 1 0 -2.8 0"/>
<rect x="244.75" y="378.40" width="8.11" height="58.00" fill="none" stroke="#4d5257" stroke-width="0.8"/>
<rect x="252.86" y="336.40" width="8.11" height="100.00" fill="#ffbb78" fill-opacity="0.7"/>
<rect x="252.86" y="336.40" width="8.11" height="100.00" fill="none" stroke="#4d5257" stroke-width="0.8"/>
<rect x="260.97" y="336.40" width="8.11" height="100.00" fill="#98df8a" fill-opacity="0.7"/>
<clipPath id="hc40"><rect x="260.97" y="336.40" width="8.11" height="98.00"/></clipPath><path clip-path="url(#hc40)" fill="none" stroke="#000" stroke-width="0.9" d="M261.43 342.06a2.1 2.1 0 1 0 4.2 0a2.1 2.1 0 1 0 -4.2 0M256.56 351.80a2.1 2.1 0 1 0 4.2 0a2.1 2.1 0 1 0 -4.2 0M266.31 351.80a2.1 2.1 0 1 0 4.2 0a2.1 2.1 0 1 0 -4.2 0M261.43 361.54a2.1 2.1 0 1 0 4.2 0a2.1 2.1 0 1 0 -4.2 0M256.56 371.29a2.1 2.1 0 1 0 4.2 0a2.1 2.1 0 1 0 -4.2 0M266.31 371.29a2.1 2.1 0 1 0 4.2 0a2.1 2.1 0 1 0 -4.2 0M261.43 381.03a2.1 2.1 0 1 0 4.2 0a2.1 2.1 0 1 0 -4.2 0M256.56 390.77a2.1 2.1 0 1 0 4.2 0a2.1 2.1 0 1 0 -4.2 0M266.31 390.77a2.1 2.1 0 1 0 4.2 0a2.1 2.1 0 1 0 -4.2 0M261.43 400.51a2.1 2.1 0 1 0 4.2 0a2.1 2.1 0 1 0 -4.2 0M256.56 410.25a2.1 2.1 0 1 0 4.2 0a2.1 2.1 0 1 0 -4.2 0M266.31 410.25a2.1 2.1 0 1 0 4.2 0a2.1 2.1 0 1 0 -4.2 0M261.43 420.00a2.1 2.1 0 1 0 4.2 0a2.1 2.1 0 1 0 -4.2 0M256.56 429.74a2.1 2.1 0 1 0 4.2 0a2.1 2.1 0 1 0 -4.2 0M266.31 429.74a2.1 2.1 0 1 0 4.2 0a2.1 2.1 0 1 0 -4.2 0"/>
<rect x="260.97" y="336.40" width="8.11" height="100.00" fill="none" stroke="#4d5257" stroke-width="0.8"/>
<rect x="277.19" y="380.40" width="8.11" height="56.00" fill="#aec7e8" fill-opacity="0.7"/>
<clipPath id="hc41"><rect x="277.19" y="380.40" width="8.11" height="54.00"/></clipPath><path clip-path="url(#hc41)" fill="#000" d="M281.62 381.03a1.4 1.4 0 1 0 2.8 0a1.4 1.4 0 1 0 -2.8 0M276.75 390.77a1.4 1.4 0 1 0 2.8 0a1.4 1.4 0 1 0 -2.8 0M281.62 400.51a1.4 1.4 0 1 0 2.8 0a1.4 1.4 0 1 0 -2.8 0M276.75 410.25a1.4 1.4 0 1 0 2.8 0a1.4 1.4 0 1 0 -2.8 0M281.62 420.00a1.4 1.4 0 1 0 2.8 0a1.4 1.4 0 1 0 -2.8 0M276.75 429.74a1.4 1.4 0 1 0 2.8 0a1.4 1.4 0 1 0 -2.8 0"/>
<rect x="277.19" y="380.40" width="8.11" height="56.00" fill="none" stroke="#4d5257" stroke-width="0.8"/>
<rect x="285.31" y="331.40" width="8.11" height="105.00" fill="#ffbb78" fill-opacity="0.7"/>
<rect x="285.31" y="331.40" width="8.11" height="105.00" fill="none" stroke="#4d5257" stroke-width="0.8"/>
<rect x="293.42" y="332.00" width="8.11" height="104.40" fill="#98df8a" fill-opacity="0.7"/>
<clipPath id="hc42"><rect x="293.42" y="332.00" width="8.11" height="102.40"/></clipPath><path clip-path="url(#hc42)" fill="none" stroke="#000" stroke-width="0.9" d="M295.53 332.32a2.1 2.1 0 1 0 4.2 0a2.1 2.1 0 1 0 -4.2 0M290.66 342.06a2.1 2.1 0 1 0 4.2 0a2.1 2.1 0 1 0 -4.2 0M300.40 342.06a2.1 2.1 0 1 0 4.2 0a2.1 2.1 0 1 0 -4.2 0M295.53 351.80a2.1 2.1 0 1 0 4.2 0a2.1 2.1 0 1 0 -4.2 0M290.66 361.54a2.1 2.1 0 1 0 4.2 0a2.1 2.1 0 1 0 -4.2 0M300.40 361.54a2.1 2.1 0 1 0 4.2 0a2.1 2.1 0 1 0 -4.2 0M295.53 371.29a2.1 2.1 0 1 0 4.2 0a2.1 2.1 0 1 0 -4.2 0M290.66 381.03a2.1 2.1 0 1 0 4.2 0a2.1 2.1 0 1 0 -4.2 0M300.40 381.03a2.1 2.1 0 1 0 4.2 0a2.1 2.1 0 1 0 -4.2 0M295.53 390.77a2.1 2.1 0 1 0 4.2 0a2.1 2.1 0 1 0 -4.2 0M290.66 400.51a2.1 2.1 0 1 0 4.2 0a2.1 2.1 0 1 0 -4.2 0M300.40 400.51a2.1 2.1 0 1 0 4.2 0a2.1 2.1 0 1 0 -4.2 0M295.53 410.25a2.1 2.1 0 1 0 4.2 0a2.1 2.1 0 1 0 -4.2 0M290.66 420.00a2.1 2.1 0 1 0 4.2 0a2.1 2.1 0 1 0 -4.2 0M300.40 420.00a2.1 2.1 0 1 0 4.2 0a2.1 2.1 0 1 0 -4.2 0M295.53 429.74a2.1 2.1 0 1 0 4.2 0a2.1 2.1 0 1 0 -4.2 0"/>
<rect x="293.42" y="332.00" width="8.11" height="104.40" fill="none" stroke="#4d5257" stroke-width="0.8"/>
<rect x="309.63" y="315.30" width="8.11" height="121.10" fill="#aec7e8" fill-opacity="0.7"/>
<clipPath id="hc43"><rect x="309.63" y="315.30" width="8.11" height="119.10"/></clipPath><path clip-path="url(#hc43)" fill="#000" d="M310.84 322.58a1.4 1.4 0 1 0 2.8 0a1.4 1.4 0 1 0 -2.8 0M305.97 332.32a1.4 1.4 0 1 0 2.8 0a1.4 1.4 0 1 0 -2.8 0M315.72 332.32a1.4 1.4 0 1 0 2.8 0a1.4 1.4 0 1 0 -2.8 0M310.84 342.06a1.4 1.4 0 1 0 2.8 0a1.4 1.4 0 1 0 -2.8 0M305.97 351.80a1.4 1.4 0 1 0 2.8 0a1.4 1.4 0 1 0 -2.8 0M315.72 351.80a1.4 1.4 0 1 0 2.8 0a1.4 1.4 0 1 0 -2.8 0M310.84 361.54a1.4 1.4 0 1 0 2.8 0a1.4 1.4 0 1 0 -2.8 0M305.97 371.29a1.4 1.4 0 1 0 2.8 0a1.4 1.4 0 1 0 -2.8 0M315.72 371.29a1.4 1.4 0 1 0 2.8 0a1.4 1.4 0 1 0 -2.8 0M310.84 381.03a1.4 1.4 0 1 0 2.8 0a1.4 1.4 0 1 0 -2.8 0M305.97 390.77a1.4 1.4 0 1 0 2.8 0a1.4 1.4 0 1 0 -2.8 0M315.72 390.77a1.4 1.4 0 1 0 2.8 0a1.4 1.4 0 1 0 -2.8 0M310.84 400.51a1.4 1.4 0 1 0 2.8 0a1.4 1.4 0 1 0 -2.8 0M305.97 410.25a1.4 1.4 0 1 0 2.8 0a1.4 1.4 0 1 0 -2.8 0M315.72 410.25a1.4 1.4 0 1 0 2.8 0a1.4 1.4 0 1 0 -2.8 0M310.84 420.00a1.4 1.4 0 1 0 2.8 0a1.4 1.4 0 1 0 -2.8 0M305.97 429.74a1.4 1.4 0 1 0 2.8 0a1.4 1.4 0 1 0 -2.8 0M315.72 429.74a1.4 1.4 0 1 0 2.8 0a1.4 1.4 0 1 0 -2.8 0"/>
<rect x="309.63" y="315.30" width="8.11" height="121.10" fill="none" stroke="#4d5257" stroke-width="0.8"/>
<rect x="317.74" y="312.60" width="8.11" height="123.80" fill="#ffbb78" fill-opacity="0.7"/>
<rect x="317.74" y="312.60" width="8.11" height="123.80" fill="none" stroke="#4d5257" stroke-width="0.8"/>
<rect x="325.85" y="314.10" width="8.11" height="122.30" fill="#98df8a" fill-opacity="0.7"/>
<clipPath id="hc44"><rect x="325.85" y="314.10" width="8.11" height="120.30"/></clipPath><path clip-path="url(#hc44)" fill="none" stroke="#000" stroke-width="0.9" d="M324.76 312.83a2.1 2.1 0 1 0 4.2 0a2.1 2.1 0 1 0 -4.2 0M334.50 312.83a2.1 2.1 0 1 0 4.2 0a2.1 2.1 0 1 0 -4.2 0M329.63 322.58a2.1 2.1 0 1 0 4.2 0a2.1 2.1 0 1 0 -4.2 0M324.76 332.32a2.1 2.1 0 1 0 4.2 0a2.1 2.1 0 1 0 -4.2 0M334.50 332.32a2.1 2.1 0 1 0 4.2 0a2.1 2.1 0 1 0 -4.2 0M329.63 342.06a2.1 2.1 0 1 0 4.2 0a2.1 2.1 0 1 0 -4.2 0M324.76 351.80a2.1 2.1 0 1 0 4.2 0a2.1 2.1 0 1 0 -4.2 0M334.50 351.80a2.1 2.1 0 1 0 4.2 0a2.1 2.1 0 1 0 -4.2 0M329.63 361.54a2.1 2.1 0 1 0 4.2 0a2.1 2.1 0 1 0 -4.2 0M324.76 371.29a2.1 2.1 0 1 0 4.2 0a2.1 2.1 0 1 0 -4.2 0M334.50 371.29a2.1 2.1 0 1 0 4.2 0a2.1 2.1 0 1 0 -4.2 0M329.63 381.03a2.1 2.1 0 1 0 4.2 0a2.1 2.1 0 1 0 -4.2 0M324.76 390.77a2.1 2.1 0 1 0 4.2 0a2.1 2.1 0 1 0 -4.2 0M334.50 390.77a2.1 2.1 0 1 0 4.2 0a2.1 2.1 0 1 0 -4.2 0M329.63 400.51a2.1 2.1 0 1 0 4.2 0a2.1 2.1 0 1 0 -4.2 0M324.76 410.25a2.1 2.1 0 1 0 4.2 0a2.1 2.1 0 1 0 -4.2 0M334.50 410.25a2.1 2.1 0 1 0 4.2 0a2.1 2.1 0 1 0 -4.2 0M329.63 420.00a2.1 2.1 0 1 0 4.2 0a2.1 2.1 0 1 0 -4.2 0M324.76 429.74a2.1 2.1 0 1 0 4.2 0a2.1 2.1 0 1 0 -4.2 0M334.50 429.74a2.1 2.1 0 1 0 4.2 0a2.1 2.1 0 1 0 -4.2 0"/>
<rect x="325.85" y="314.10" width="8.11" height="122.30" fill="none" stroke="#4d5257" stroke-width="0.8"/>
<rect x="342.07" y="313.30" width="8.11" height="123.10" fill="#aec7e8" fill-opacity="0.7"/>
<clipPath id="hc45"><rect x="342.07" y="313.30" width="8.11" height="121.10"/></clipPath><path clip-path="url(#hc45)" fill="#000" d="M344.94 312.83a1.4 1.4 0 1 0 2.8 0a1.4 1.4 0 1 0 -2.8 0M340.07 322.58a1.4 1.4 0 1 0 2.8 0a1.4 1.4 0 1 0 -2.8 0M349.81 322.58a1.4 1.4 0 1 0 2.8 0a1.4 1.4 0 1 0 -2.8 0M344.94 332.32a1.4 1.4 0 1 0 2.8 0a1.4 1.4 0 1 0 -2.8 0M340.07 342.06a1.4 1.4 0 1 0 2.8 0a1.4 1.4 0 1 0 -2.8 0M349.81 342.06a1.4 1.4 0 1 0 2.8 0a1.4 1.4 0 1 0 -2.8 0M344.94 351.80a1.4 1.4 0 1 0 2.8 0a1.4 1.4 0 1 0 -2.8 0M340.07 361.54a1.4 1.4 0 1 0 2.8 0a1.4 1.4 0 1 0 -2.8 0M349.81 361.54a1.4 1.4 0 1 0 2.8 0a1.4 1.4 0 1 0 -2.8 0M344.94 371.29a1.4 1.4 0 1 0 2.8 0a1.4 1.4 0 1 0 -2.8 0M340.07 381.03a1.4 1.4 0 1 0 2.8 0a1.4 1.4 0 1 0 -2.8 0M349.81 381.03a1.4 1.4 0 1 0 2.8 0a1.4 1.4 0 1 0 -2.8 0M344.94 390.77a1.4 1.4 0 1 0 2.8 0a1.4 1.4 0 1 0 -2.8 0M340.07 400.51a1.4 1.4 0 1 0 2.8 0a1.4 1.4 0 1 0 -2.8 0M349.81 400.51a1.4 1.4 0 1 0 2.8 0a1.4 1.4 0 1 0 -2.8 0M344.94 410.25a1.4 1.4 0 1 0 2.8 0a1.4 1.4 0 1 0 -2.8 0M340.07 420.00a1.4 1.4 0 1 0 2.8 0a1.4 1.4 0 1 0 -2.8 0M349.81 420.00a1.4 1.4 0 1 0 2.8 0a1.4 1.4 0 1 0 -2.8 0M344.94 429.74a1.4 1.4 0 1 0 2.8 0a1.4 1.4 0 1 0 -2.8 0"/>
<rect x="342.07" y="313.30" width="8.11" height="123.10" fill="none" stroke="#4d5257" stroke-width="0.8"/>
<rect x="350.19" y="310.40" width="8.11" height="126.00" fill="#ffbb78" fill-opacity="0.7"/>
<rect x="350.19" y="310.40" width="8.11" height="126.00" fill="none" stroke="#4d5257" stroke-width="0.8"/>
<rect x="358.30" y="311.40" width="8.11" height="125.00" fill="#98df8a" fill-opacity="0.7"/>
<clipPath id="hc46"><rect x="358.30" y="311.40" width="8.11" height="123.00"/></clipPath><path clip-path="url(#hc46)" fill="none" stroke="#000" stroke-width="0.9" d="M353.98 312.83a2.1 2.1 0 1 0 4.2 0a2.1 2.1 0 1 0 -4.2 0M363.72 312.83a2.1 2.1 0 1 0 4.2 0a2.1 2.1 0 1 0 -4.2 0M358.85 322.58a2.1 2.1 0 1 0 4.2 0a2.1 2.1 0 1 0 -4.2 0M353.98 332.32a2.1 2.1 0 1 0 4.2 0a2.1 2.1 0 1 0 -4.2 0M363.72 332.32a2.1 2.1 0 1 0 4.2 0a2.1 2.1 0 1 0 -4.2 0M358.85 342.06a2.1 2.1 0 1 0 4.2 0a2.1 2.1 0 1 0 -4.2 0M353.98 351.80a2.1 2.1 0 1 0 4.2 0a2.1 2.1 0 1 0 -4.2 0M363.72 351.80a2.1 2.1 0 1 0 4.2 0a2.1 2.1 0 1 0 -4.2 0M358.85 361.54a2.1 2.1 0 1 0 4.2 0a2.1 2.1 0 1 0 -4.2 0M353.98 371.29a2.1 2.1 0 1 0 4.2 0a2.1 2.1 0 1 0 -4.2 0M363.72 371.29a2.1 2.1 0 1 0 4.2 0a2.1 2.1 0 1 0 -4.2 0M358.85 381.03a2.1 2.1 0 1 0 4.2 0a2.1 2.1 0 1 0 -4.2 0M353.98 390.77a2.1 2.1 0 1 0 4.2 0a2.1 2.1 0 1 0 -4.2 0M363.72 390.77a2.1 2.1 0 1 0 4.2 0a2.1 2.1 0 1 0 -4.2 0M358.85 400.51a2.1 2.1 0 1 0 4.2 0a2.1 2.1 0 1 0 -4.2 0M353.98 410.25a2.1 2.1 0 1 0 4.2 0a2.1 2.1 0 1 0 -4.2 0M363.72 410.25a2.1 2.1 0 1 0 4.2 0a2.1 2.1 0 1 0 -4.2 0M358.85 420.00a2.1 2.1 0 1 0 4.2 0a2.1 2.1 0 1 0 -4.2 0M353.98 429.74a2.1 2.1 0 1 0 4.2 0a2.1 2.1 0 1 0 -4.2 0M363.72 429.74a2.1 2.1 0 1 0 4.2 0a2.1 2.1 0 1 0 -4.2 0"/>
<rect x="358.30" y="311.40" width="8.11" height="125.00" fill="none" stroke="#4d5257" stroke-width="0.8"/>
<rect x="374.51" y="285.30" width="8.11" height="151.10" fill="#aec7e8" fill-opacity="0.7"/>
<clipPath id="hc47"><rect x="374.51" y="285.30" width="8.11" height="149.10"/></clipPath><path clip-path="url(#hc47)" fill="#000" d="M379.04 283.61a1.4 1.4 0 1 0 2.8 0a1.4 1.4 0 1 0 -2.8 0M374.17 293.35a1.4 1.4 0 1 0 2.8 0a1.4 1.4 0 1 0 -2.8 0M379.04 303.09a1.4 1.4 0 1 0 2.8 0a1.4 1.4 0 1 0 -2.8 0M374.17 312.83a1.4 1.4 0 1 0 2.8 0a1.4 1.4 0 1 0 -2.8 0M379.04 322.58a1.4 1.4 0 1 0 2.8 0a1.4 1.4 0 1 0 -2.8 0M374.17 332.32a1.4 1.4 0 1 0 2.8 0a1.4 1.4 0 1 0 -2.8 0M379.04 342.06a1.4 1.4 0 1 0 2.8 0a1.4 1.4 0 1 0 -2.8 0M374.17 351.80a1.4 1.4 0 1 0 2.8 0a1.4 1.4 0 1 0 -2.8 0M379.04 361.54a1.4 1.4 0 1 0 2.8 0a1.4 1.4 0 1 0 -2.8 0M374.17 371.29a1.4 1.4 0 1 0 2.8 0a1.4 1.4 0 1 0 -2.8 0M379.04 381.03a1.4 1.4 0 1 0 2.8 0a1.4 1.4 0 1 0 -2.8 0M374.17 390.77a1.4 1.4 0 1 0 2.8 0a1.4 1.4 0 1 0 -2.8 0M379.04 400.51a1.4 1.4 0 1 0 2.8 0a1.4 1.4 0 1 0 -2.8 0M374.17 410.25a1.4 1.4 0 1 0 2.8 0a1.4 1.4 0 1 0 -2.8 0M379.04 420.00a1.4 1.4 0 1 0 2.8 0a1.4 1.4 0 1 0 -2.8 0M374.17 429.74a1.4 1.4 0 1 0 2.8 0a1.4 1.4 0 1 0 -2.8 0"/>
<rect x="374.51" y="285.30" width="8.11" height="151.10" fill="none" stroke="#4d5257" stroke-width="0.8"/>
<rect x="382.62" y="291.50" width="8.11" height="144.90" fill="#ffbb78" fill-opacity="0.7"/>
<rect x="382.62" y="291.50" width="8.11" height="144.90" fill="none" stroke="#4d5257" stroke-width="0.8"/>
<rect x="390.73" y="285.30" width="8.11" height="151.10" fill="#98df8a" fill-opacity="0.7"/>
<clipPath id="hc48"><rect x="390.73" y="285.30" width="8.11" height="149.10"/></clipPath><path clip-path="url(#hc48)" fill="none" stroke="#000" stroke-width="0.9" d="M388.08 283.61a2.1 2.1 0 1 0 4.2 0a2.1 2.1 0 1 0 -4.2 0M397.82 283.61a2.1 2.1 0 1 0 4.2 0a2.1 2.1 0 1 0 -4.2 0M392.95 293.35a2.1 2.1 0 1 0 4.2 0a2.1 2.1 0 1 0 -4.2 0M388.08 303.09a2.1 2.1 0 1 0 4.2 0a2.1 2.1 0 1 0 -4.2 0M397.82 303.09a2.1 2.1 0 1 0 4.2 0a2.1 2.1 0 1 0 -4.2 0M392.95 312.83a2.1 2.1 0 1 0 4.2 0a2.1 2.1 0 1 0 -4.2 0M388.08 322.58a2.1 2.1 0 1 0 4.2 0a2.1 2.1 0 1 0 -4.2 0M397.82 322.58a2.1 2.1 0 1 0 4.2 0a2.1 2.1 0 1 0 -4.2 0M392.95 332.32a2.1 2.1 0 1 0 4.2 0a2.1 2.1 0 1 0 -4.2 0M388.08 342.06a2.1 2.1 0 1 0 4.2 0a2.1 2.1 0 1 0 -4.2 0M397.82 342.06a2.1 2.1 0 1 0 4.2 0a2.1 2.1 0 1 0 -4.2 0M392.95 351.80a2.1 2.1 0 1 0 4.2 0a2.1 2.1 0 1 0 -4.2 0M388.08 361.54a2.1 2.1 0 1 0 4.2 0a2.1 2.1 0 1 0 -4.2 0M397.82 361.54a2.1 2.1 0 1 0 4.2 0a2.1 2.1 0 1 0 -4.2 0M392.95 371.29a2.1 2.1 0 1 0 4.2 0a2.1 2.1 0 1 0 -4.2 0M388.08 381.03a2.1 2.1 0 1 0 4.2 0a2.1 2.1 0 1 0 -4.2 0M397.82 381.03a2.1 2.1 0 1 0 4.2 0a2.1 2.1 0 1 0 -4.2 0M392.95 390.77a2.1 2.1 0 1 0 4.2 0a2.1 2.1 0 1 0 -4.2 0M388.08 400.51a2.1 2.1 0 1 0 4.2 0a2.1 2.1 0 1 0 -4.2 0M397.82 400.51a2.1 2.1 0 1 0 4.2 0a2.1 2.1 0 1 0 -4.2 0M392.95 410.25a2.1 2.1 0 1 0 4.2 0a2.1 2.1 0 1 0 -4.2 0M388.08 420.00a2.1 2.1 0 1 0 4.2 0a2.1 2.1 0 1 0 -4.2 0M397.82 420.00a2.1 2.1 0 1 0 4.2 0a2.1 2.1 0 1 0 -4.2 0M392.95 429.74a2.1 2.1 0 1 0 4.2 0a2.1 2.1 0 1 0 -4.2 0"/>
<rect x="390.73" y="285.30" width="8.11" height="151.10" fill="none" stroke="#4d5257" stroke-width="0.8"/>
<rect x="406.95" y="278.20" width="8.11" height="158.20" fill="#aec7e8" fill-opacity="0.7"/>
<clipPath id="hc49"><rect x="406.95" y="278.20" width="8.11" height="156.20"/></clipPath><path clip-path="url(#hc49)" fill="#000" d="M408.26 283.61a1.4 1.4 0 1 0 2.8 0a1.4 1.4 0 1 0 -2.8 0M403.39 293.35a1.4 1.4 0 1 0 2.8 0a1.4 1.4 0 1 0 -2.8 0M413.14 293.35a1.4 1.4 0 1 0 2.8 0a1.4 1.4 0 1 0 -2.8 0M408.26 303.09a1.4 1.4 0 1 0 2.8 0a1.4 1.4 0 1 0 -2.8 0M403.39 312.83a1.4 1.4 0 1 0 2.8 0a1.4 1.4 0 1 0 -2.8 0M413.14 312.83a1.4 1.4 0 1 0 2.8 0a1.4 1.4 0 1 0 -2.8 0M408.26 322.58a1.4 1.4 0 1 0 2.8 0a1.4 1.4 0 1 0 -2.8 0M403.39 332.32a1.4 1.4 0 1 0 2.8 0a1.4 1.4 0 1 0 -2.8 0M413.14 332.32a1.4 1.4 0 1 0 2.8 0a1.4 1.4 0 1 0 -2.8 0M408.26 342.06a1.4 1.4 0 1 0 2.8 0a1.4 1.4 0 1 0 -2.8 0M403.39 351.80a1.4 1.4 0 1 0 2.8 0a1.4 1.4 0 1 0 -2.8 0M413.14 351.80a1.4 1.4 0 1 0 2.8 0a1.4 1.4 0 1 0 -2.8 0M408.26 361.54a1.4 1.4 0 1 0 2.8 0a1.4 1.4 0 1 0 -2.8 0M403.39 371.29a1.4 1.4 0 1 0 2.8 0a1.4 1.4 0 1 0 -2.8 0M413.14 371.29a1.4 1.4 0 1 0 2.8 0a1.4 1.4 0 1 0 -2.8 0M408.26 381.03a1.4 1.4 0 1 0 2.8 0a1.4 1.4 0 1 0 -2.8 0M403.39 390.77a1.4 1.4 0 1 0 2.8 0a1.4 1.4 0 1 0 -2.8 0M413.14 390.77a1.4 1.4 0 1 0 2.8 0a1.4 1.4 0 1 0 -2.8 0M408.26 400.51a1.4 1.4 0 1 0 2.8 0a1.4 1.4 0 1 0 -2.8 0M403.39 410.25a1.4 1.4 0 1 0 2.8 0a1.4 1.4 0 1 0 -2.8 0M413.14 410.25a1.4 1.4 0 1 0 2.8 0a1.4 1.4 0 1 0 -2.8 0M408.26 420.00a1.4 1.4 0 1 0 2.8 0a1.4 1.4 0 1 0 -2.8 0M403.39 429.74a1.4 1.4 0 1 0 2.8 0a1.4 1.4 0 1 0 -2.8 0M413.14 429.74a1.4 1.4 0 1 0 2.8 0a1.4 1.4 0 1 0 -2.8 0"/>
<rect x="406.95" y="278.20" width="8.11" height="158.20" fill="none" stroke="#4d5257" stroke-width="0.8"/>
<rect x="415.06" y="289.60" width="8.11" height="146.80" fill="#ffbb78" fill-opacity="0.7"/>
<rect x="415.06" y="289.60" width="8.11" height="146.80" fill="none" stroke="#4d5257" stroke-width="0.8"/>
<rect x="423.18" y="277.50" width="8.11" height="158.90" fill="#98df8a" fill-opacity="0.7"/>
<clipPath id="hc50"><rect x="423.18" y="277.50" width="8.11" height="156.90"/></clipPath><path clip-path="url(#hc50)" fill="none" stroke="#000" stroke-width="0.9" d="M427.05 283.61a2.1 2.1 0 1 0 4.2 0a2.1 2.1 0 1 0 -4.2 0M422.18 293.35a2.1 2.1 0 1 0 4.2 0a2.1 2.1 0 1 0 -4.2 0M431.92 293.35a2.1 2.1 0 1 0 4.2 0a2.1 2.1 0 1 0 -4.2 0M427.05 303.09a2.1 2.1 0 1 0 4.2 0a2.1 2.1 0 1 0 -4.2 0M422.18 312.83a2.1 2.1 0 1 0 4.2 0a2.1 2.1 0 1 0 -4.2 0M431.92 312.83a2.1 2.1 0 1 0 4.2 0a2.1 2.1 0 1 0 -4.2 0M427.05 322.58a2.1 2.1 0 1 0 4.2 0a2.1 2.1 0 1 0 -4.2 0M422.18 332.32a2.1 2.1 0 1 0 4.2 0a2.1 2.1 0 1 0 -4.2 0M431.92 332.32a2.1 2.1 0 1 0 4.2 0a2.1 2.1 0 1 0 -4.2 0M427.05 342.06a2.1 2.1 0 1 0 4.2 0a2.1 2.1 0 1 0 -4.2 0M422.18 351.80a2.1 2.1 0 1 0 4.2 0a2.1 2.1 0 1 0 -4.2 0M431.92 351.80a2.1 2.1 0 1 0 4.2 0a2.1 2.1 0 1 0 -4.2 0M427.05 361.54a2.1 2.1 0 1 0 4.2 0a2.1 2.1 0 1 0 -4.2 0M422.18 371.29a2.1 2.1 0 1 0 4.2 0a2.1 2.1 0 1 0 -4.2 0M431.92 371.29a2.1 2.1 0 1 0 4.2 0a2.1 2.1 0 1 0 -4.2 0M427.05 381.03a2.1 2.1 0 1 0 4.2 0a2.1 2.1 0 1 0 -4.2 0M422.18 390.77a2.1 2.1 0 1 0 4.2 0a2.1 2.1 0 1 0 -4.2 0M431.92 390.77a2.1 2.1 0 1 0 4.2 0a2.1 2.1 0 1 0 -4.2 0M427.05 400.51a2.1 2.1 0 1 0 4.2 0a2.1 2.1 0 1 0 -4.2 0M422.18 410.25a2.1 2.1 0 1 0 4.2 0a2.1 2.1 0 1 0 -4.2 0M431.92 410.25a2.1 2.1 0 1 0 4.2 0a2.1 2.1 0 1 0 -4.2 0M427.05 420.00a2.1 2.1 0 1 0 4.2 0a2.1 2.1 0 1 0 -4.2 0M422.18 429.74a2.1 2.1 0 1 0 4.2 0a2.1 2.1 0 1 0 -4.2 0M431.92 429.74a2.1 2.1 0 1 0 4.2 0a2.1 2.1 0 1 0 -4.2 0"/>
<rect x="423.18" y="277.50" width="8.11" height="158.90" fill="none" stroke="#4d5257" stroke-width="0.8"/>
<rect x="439.39" y="275.40" width="8.11" height="161.00" fill="#aec7e8" fill-opacity="0.7"/>
<clipPath id="hc51"><rect x="439.39" y="275.40" width="8.11" height="159.00"/></clipPath><path clip-path="url(#hc51)" fill="#000" d="M442.36 273.87a1.4 1.4 0 1 0 2.8 0a1.4 1.4 0 1 0 -2.8 0M437.49 283.61a1.4 1.4 0 1 0 2.8 0a1.4 1.4 0 1 0 -2.8 0M447.23 283.61a1.4 1.4 0 1 0 2.8 0a1.4 1.4 0 1 0 -2.8 0M442.36 293.35a1.4 1.4 0 1 0 2.8 0a1.4 1.4 0 1 0 -2.8 0M437.49 303.09a1.4 1.4 0 1 0 2.8 0a1.4 1.4 0 1 0 -2.8 0M447.23 303.09a1.4 1.4 0 1 0 2.8 0a1.4 1.4 0 1 0 -2.8 0M442.36 312.83a1.4 1.4 0 1 0 2.8 0a1.4 1.4 0 1 0 -2.8 0M437.49 322.58a1.4 1.4 0 1 0 2.8 0a1.4 1.4 0 1 0 -2.8 0M447.23 322.58a1.4 1.4 0 1 0 2.8 0a1.4 1.4 0 1 0 -2.8 0M442.36 332.32a1.4 1.4 0 1 0 2.8 0a1.4 1.4 0 1 0 -2.8 0M437.49 342.06a1.4 1.4 0 1 0 2.8 0a1.4 1.4 0 1 0 -2.8 0M447.23 342.06a1.4 1.4 0 1 0 2.8 0a1.4 1.4 0 1 0 -2.8 0M442.36 351.80a1.4 1.4 0 1 0 2.8 0a1.4 1.4 0 1 0 -2.8 0M437.49 361.54a1.4 1.4 0 1 0 2.8 0a1.4 1.4 0 1 0 -2.8 0M447.23 361.54a1.4 1.4 0 1 0 2.8 0a1.4 1.4 0 1 0 -2.8 0M442.36 371.29a1.4 1.4 0 1 0 2.8 0a1.4 1.4 0 1 0 -2.8 0M437.49 381.03a1.4 1.4 0 1 0 2.8 0a1.4 1.4 0 1 0 -2.8 0M447.23 381.03a1.4 1.4 0 1 0 2.8 0a1.4 1.4 0 1 0 -2.8 0M442.36 390.77a1.4 1.4 0 1 0 2.8 0a1.4 1.4 0 1 0 -2.8 0M437.49 400.51a1.4 1.4 0 1 0 2.8 0a1.4 1.4 0 1 0 -2.8 0M447.23 400.51a1.4 1.4 0 1 0 2.8 0a1.4 1.4 0 1 0 -2.8 0M442.36 410.25a1.4 1.4 0 1 0 2.8 0a1.4 1.4 0 1 0 -2.8 0M437.49 420.00a1.4 1.4 0 1 0 2.8 0a1.4 1.4 0 1 0 -2.8 0M447.23 420.00a1.4 1.4 0 1 0 2.8 0a1.4 1.4 0 1 0 -2.8 0M442.36 429.74a1.4 1.4 0 1 0 2.8 0a1.4 1.4 0 1 0 -2.8 0"/>
<rect x="439.39" y="275.40" width="8.11" height="161.00" fill="none" stroke="#4d5257" stroke-width="0.8"/>
<rect x="447.50" y="287.40" width="8.11" height="149.00" fill="#ffbb78" fill-opacity="0.7"/>
<rect x="447.50" y="287.40" width="8.11" height="149.00" fill="none" stroke="#4d5257" stroke-width="0.8"/>
<rect x="455.61" y="274.70" width="8.11" height="161.70" fill="#98df8a" fill-opacity="0.7"/>
<clipPath id="hc52"><rect x="455.61" y="274.70" width="8.11" height="159.70"/></clipPath><path clip-path="url(#hc52)" fill="none" stroke="#000" stroke-width="0.9" d="M451.40 273.87a2.1 2.1 0 1 0 4.2 0a2.1 2.1 0 1 0 -4.2 0M461.14 273.87a2.1 2.1 0 1 0 4.2 0a2.1 2.1 0 1 0 -4.2 0M456.27 283.61a2.1 2.1 0 1 0 4.2 0a2.1 2.1 0 1 0 -4.2 0M451.40 293.35a2.1 2.1 0 1 0 4.2 0a2.1 2.1 0 1 0 -4.2 0M461.14 293.35a2.1 2.1 0 1 0 4.2 0a2.1 2.1 0 1 0 -4.2 0M456.27 303.09a2.1 2.1 0 1 0 4.2 0a2.1 2.1 0 1 0 -4.2 0M451.40 312.83a2.1 2.1 0 1 0 4.2 0a2.1 2.1 0 1 0 -4.2 0M461.14 312.83a2.1 2.1 0 1 0 4.2 0a2.1 2.1 0 1 0 -4.2 0M456.27 322.58a2.1 2.1 0 1 0 4.2 0a2.1 2.1 0 1 0 -4.2 0M451.40 332.32a2.1 2.1 0 1 0 4.2 0a2.1 2.1 0 1 0 -4.2 0M461.14 332.32a2.1 2.1 0 1 0 4.2 0a2.1 2.1 0 1 0 -4.2 0M456.27 342.06a2.1 2.1 0 1 0 4.2 0a2.1 2.1 0 1 0 -4.2 0M451.40 351.80a2.1 2.1 0 1 0 4.2 0a2.1 2.1 0 1 0 -4.2 0M461.14 351.80a2.1 2.1 0 1 0 4.2 0a2.1 2.1 0 1 0 -4.2 0M456.27 361.54a2.1 2.1 0 1 0 4.2 0a2.1 2.1 0 1 0 -4.2 0M451.40 371.29a2.1 2.1 0 1 0 4.2 0a2.1 2.1 0 1 0 -4.2 0M461.14 371.29a2.1 2.1 0 1 0 4.2 0a2.1 2.1 0 1 0 -4.2 0M456.27 381.03a2.1 2.1 0 1 0 4.2 0a2.1 2.1 0 1 0 -4.2 0M451.40 390.77a2.1 2.1 0 1 0 4.2 0a2.1 2.1 0 1 0 -4.2 0M461.14 390.77a2.1 2.1 0 1 0 4.2 0a2.1 2.1 0 1 0 -4.2 0M456.27 400.51a2.1 2.1 0 1 0 4.2 0a2.1 2.1 0 1 0 -4.2 0M451.40 410.25a2.1 2.1 0 1 0 4.2 0a2.1 2.1 0 1 0 -4.2 0M461.14 410.25a2.1 2.1 0 1 0 4.2 0a2.1 2.1 0 1 0 -4.2 0M456.27 420.00a2.1 2.1 0 1 0 4.2 0a2.1 2.1 0 1 0 -4.2 0M451.40 429.74a2.1 2.1 0 1 0 4.2 0a2.1 2.1 0 1 0 -4.2 0M461.14 429.74a2.1 2.1 0 1 0 4.2 0a2.1 2.1 0 1 0 -4.2 0"/>
<rect x="455.61" y="274.70" width="8.11" height="161.70" fill="none" stroke="#4d5257" stroke-width="0.8"/>
<rect x="471.83" y="276.30" width="8.11" height="160.10" fill="#aec7e8" fill-opacity="0.7"/>
<clipPath id="hc53"><rect x="471.83" y="276.30" width="8.11" height="158.10"/></clipPath><path clip-path="url(#hc53)" fill="#000" d="M476.46 283.61a1.4 1.4 0 1 0 2.8 0a1.4 1.4 0 1 0 -2.8 0M471.59 293.35a1.4 1.4 0 1 0 2.8 0a1.4 1.4 0 1 0 -2.8 0M476.46 303.09a1.4 1.4 0 1 0 2.8 0a1.4 1.4 0 1 0 -2.8 0M471.59 312.83a1.4 1.4 0 1 0 2.8 0a1.4 1.4 0 1 0 -2.8 0M476.46 322.58a1.4 1.4 0 1 0 2.8 0a1.4 1.4 0 1 0 -2.8 0M471.59 332.32a1.4 1.4 0 1 0 2.8 0a1.4 1.4 0 1 0 -2.8 0M476.46 342.06a1.4 1.4 0 1 0 2.8 0a1.4 1.4 0 1 0 -2.8 0M471.59 351.80a1.4 1.4 0 1 0 2.8 0a1.4 1.4 0 1 0 -2.8 0M476.46 361.54a1.4 1.4 0 1 0 2.8 0a1.4 1.4 0 1 0 -2.8 0M471.59 371.29a1.4 1.4 0 1 0 2.8 0a1.4 1.4 0 1 0 -2.8 0M476.46 381.03a1.4 1.4 0 1 0 2.8 0a1.4 1.4 0 1 0 -2.8 0M471.59 390.77a1.4 1.4 0 1 0 2.8 0a1.4 1.4 0 1 0 -2.8 0M476.46 400.51a1.4 1.4 0 1 0 2.8 0a1.4 1.4 0 1 0 -2.8 0M471.59 410.25a1.4 1.4 0 1 0 2.8 0a1.4 1.4 0 1 0 -2.8 0M476.46 420.00a1.4 1.4 0 1 0 2.8 0a1.4 1.4 0 1 0 -2.8 0M471.59 429.74a1.4 1.4 0 1 0 2.8 0a1.4 1.4 0 1 0 -2.8 0"/>
<rect x="471.83" y="276.30" width="8.11" height="160.10" fill="none" stroke="#4d5257" stroke-width="0.8"/>
<rect x="479.94" y="288.20" width="8.11" height="148.20" fill="#ffbb78" fill-opacity="0.7"/>
<rect x="479.94" y="288.20" width="8.11" height="148.20" fill="none" stroke="#4d5257" stroke-width="0.8"/>
<rect x="488.06" y="274.20" width="8.11" height="162.20" fill="#98df8a" fill-opacity="0.7"/>
<clipPath id="hc54"><rect x="488.06" y="274.20" width="8.11" height="160.20"/></clipPath><path clip-path="url(#hc54)" fill="none" stroke="#000" stroke-width="0.9" d="M490.37 273.87a2.1 2.1 0 1 0 4.2 0a2.1 2.1 0 1 0 -4.2 0M485.50 283.61a2.1 2.1 0 1 0 4.2 0a2.1 2.1 0 1 0 -4.2 0M495.24 283.61a2.1 2.1 0 1 0 4.2 0a2.1 2.1 0 1 0 -4.2 0M490.37 293.35a2.1 2.1 0 1 0 4.2 0a2.1 2.1 0 1 0 -4.2 0M485.50 303.09a2.1 2.1 0 1 0 4.2 0a2.1 2.1 0 1 0 -4.2 0M495.24 303.09a2.1 2.1 0 1 0 4.2 0a2.1 2.1 0 1 0 -4.2 0M490.37 312.83a2.1 2.1 0 1 0 4.2 0a2.1 2.1 0 1 0 -4.2 0M485.50 322.58a2.1 2.1 0 1 0 4.2 0a2.1 2.1 0 1 0 -4.2 0M495.24 322.58a2.1 2.1 0 1 0 4.2 0a2.1 2.1 0 1 0 -4.2 0M490.37 332.32a2.1 2.1 0 1 0 4.2 0a2.1 2.1 0 1 0 -4.2 0M485.50 342.06a2.1 2.1 0 1 0 4.2 0a2.1 2.1 0 1 0 -4.2 0M495.24 342.06a2.1 2.1 0 1 0 4.2 0a2.1 2.1 0 1 0 -4.2 0M490.37 351.80a2.1 2.1 0 1 0 4.2 0a2.1 2.1 0 1 0 -4.2 0M485.50 361.54a2.1 2.1 0 1 0 4.2 0a2.1 2.1 0 1 0 -4.2 0M495.24 361.54a2.1 2.1 0 1 0 4.2 0a2.1 2.1 0 1 0 -4.2 0M490.37 371.29a2.1 2.1 0 1 0 4.2 0a2.1 2.1 0 1 0 -4.2 0M485.50 381.03a2.1 2.1 0 1 0 4.2 0a2.1 2.1 0 1 0 -4.2 0M495.24 381.03a2.1 2.1 0 1 0 4.2 0a2.1 2.1 0 1 0 -4.2 0M490.37 390.77a2.1 2.1 0 1 0 4.2 0a2.1 2.1 0 1 0 -4.2 0M485.50 400.51a2.1 2.1 0 1 0 4.2 0a2.1 2.1 0 1 0 -4.2 0M495.24 400.51a2.1 2.1 0 1 0 4.2 0a2.1 2.1 0 1 0 -4.2 0M490.37 410.25a2.1 2.1 0 1 0 4.2 0a2.1 2.1 0 1 0 -4.2 0M485.50 420.00a2.1 2.1 0 1 0 4.2 0a2.1 2.1 0 1 0 -4.2 0M495.24 420.00a2.1 2.1 0 1 0 4.2 0a2.1 2.1 0 1 0 -4.2 0M490.37 429.74a2.1 2.1 0 1 0 4.2 0a2.1 2.1 0 1 0 -4.2 0"/>
<rect x="488.06" y="274.20" width="8.11" height="162.20" fill="none" stroke="#4d5257" stroke-width="0.8"/>
<rect x="504.27" y="272.30" width="8.11" height="164.10" fill="#aec7e8" fill-opacity="0.7"/>
<clipPath id="hc55"><rect x="504.27" y="272.30" width="8.11" height="162.10"/></clipPath><path clip-path="url(#hc55)" fill="#000" d="M500.81 273.87a1.4 1.4 0 1 0 2.8 0a1.4 1.4 0 1 0 -2.8 0M510.56 273.87a1.4 1.4 0 1 0 2.8 0a1.4 1.4 0 1 0 -2.8 0M505.68 283.61a1.4 1.4 0 1 0 2.8 0a1.4 1.4 0 1 0 -2.8 0M500.81 293.35a1.4 1.4 0 1 0 2.8 0a1.4 1.4 0 1 0 -2.8 0M510.56 293.35a1.4 1.4 0 1 0 2.8 0a1.4 1.4 0 1 0 -2.8 0M505.68 303.09a1.4 1.4 0 1 0 2.8 0a1.4 1.4 0 1 0 -2.8 0M500.81 312.83a1.4 1.4 0 1 0 2.8 0a1.4 1.4 0 1 0 -2.8 0M510.56 312.83a1.4 1.4 0 1 0 2.8 0a1.4 1.4 0 1 0 -2.8 0M505.68 322.58a1.4 1.4 0 1 0 2.8 0a1.4 1.4 0 1 0 -2.8 0M500.81 332.32a1.4 1.4 0 1 0 2.8 0a1.4 1.4 0 1 0 -2.8 0M510.56 332.32a1.4 1.4 0 1 0 2.8 0a1.4 1.4 0 1 0 -2.8 0M505.68 342.06a1.4 1.4 0 1 0 2.8 0a1.4 1.4 0 1 0 -2.8 0M500.81 351.80a1.4 1.4 0 1 0 2.8 0a1.4 1.4 0 1 0 -2.8 0M510.56 351.80a1.4 1.4 0 1 0 2.8 0a1.4 1.4 0 1 0 -2.8 0M505.68 361.54a1.4 1.4 0 1 0 2.8 0a1.4 1.4 0 1 0 -2.8 0M500.81 371.29a1.4 1.4 0 1 0 2.8 0a1.4 1.4 0 1 0 -2.8 0M510.56 371.29a1.4 1.4 0 1 0 2.8 0a1.4 1.4 0 1 0 -2.8 0M505.68 381.03a1.4 1.4 0 1 0 2.8 0a1.4 1.4 0 1 0 -2.8 0M500.81 390.77a1.4 1.4 0 1 0 2.8 0a1.4 1.4 0 1 0 -2.8 0M510.56 390.77a1.4 1.4 0 1 0 2.8 0a1.4 1.4 0 1 0 -2.8 0M505.68 400.51a1.4 1.4 0 1 0 2.8 0a1.4 1.4 0 1 0 -2.8 0M500.81 410.25a1.4 1.4 0 1 0 2.8 0a1.4 1.4 0 1 0 -2.8 0M510.56 410.25a1.4 1.4 0 1 0 2.8 0a1.4 1.4 0 1 0 -2.8 0M505.68 420.00a1.4 1.4 0 1 0 2.8 0a1.4 1.4 0 1 0 -2.8 0M500.81 429.74a1.4 1.4 0 1 0 2.8 0a1.4 1.4 0 1 0 -2.8 0M510.56 429.74a1.4 1.4 0 1 0 2.8 0a1.4 1.4 0 1 0 -2.8 0"/>
<rect x="504.27" y="272.30" width="8.11" height="164.10" fill="none" stroke="#4d5257" stroke-width="0.8"/>
<rect x="512.38" y="286.60" width="8.11" height="149.80" fill="#ffbb78" fill-opacity="0.7"/>
<rect x="512.38" y="286.60" width="8.11" height="149.80" fill="none" stroke="#4d5257" stroke-width="0.8"/>
<rect x="520.50" y="272.30" width="8.11" height="164.10" fill="#98df8a" fill-opacity="0.7"/>
<clipPath id="hc56"><rect x="520.50" y="272.30" width="8.11" height="162.10"/></clipPath><path clip-path="url(#hc56)" fill="none" stroke="#000" stroke-width="0.9" d="M519.60 273.87a2.1 2.1 0 1 0 4.2 0a2.1 2.1 0 1 0 -4.2 0M529.34 273.87a2.1 2.1 0 1 0 4.2 0a2.1 2.1 0 1 0 -4.2 0M524.47 283.61a2.1 2.1 0 1 0 4.2 0a2.1 2.1 0 1 0 -4.2 0M519.60 293.35a2.1 2.1 0 1 0 4.2 0a2.1 2.1 0 1 0 -4.2 0M529.34 293.35a2.1 2.1 0 1 0 4.2 0a2.1 2.1 0 1 0 -4.2 0M524.47 303.09a2.1 2.1 0 1 0 4.2 0a2.1 2.1 0 1 0 -4.2 0M519.60 312.83a2.1 2.1 0 1 0 4.2 0a2.1 2.1 0 1 0 -4.2 0M529.34 312.83a2.1 2.1 0 1 0 4.2 0a2.1 2.1 0 1 0 -4.2 0M524.47 322.58a2.1 2.1 0 1 0 4.2 0a2.1 2.1 0 1 0 -4.2 0M519.60 332.32a2.1 2.1 0 1 0 4.2 0a2.1 2.1 0 1 0 -4.2 0M529.34 332.32a2.1 2.1 0 1 0 4.2 0a2.1 2.1 0 1 0 -4.2 0M524.47 342.06a2.1 2.1 0 1 0 4.2 0a2.1 2.1 0 1 0 -4.2 0M519.60 351.80a2.1 2.1 0 1 0 4.2 0a2.1 2.1 0 1 0 -4.2 0M529.34 351.80a2.1 2.1 0 1 0 4.2 0a2.1 2.1 0 1 0 -4.2 0M524.47 361.54a2.1 2.1 0 1 0 4.2 0a2.1 2.1 0 1 0 -4.2 0M519.60 371.29a2.1 2.1 0 1 0 4.2 0a2.1 2.1 0 1 0 -4.2 0M529.34 371.29a2.1 2.1 0 1 0 4.2 0a2.1 2.1 0 1 0 -4.2 0M524.47 381.03a2.1 2.1 0 1 0 4.2 0a2.1 2.1 0 1 0 -4.2 0M519.60 390.77a2.1 2.1 0 1 0 4.2 0a2.1 2.1 0 1 0 -4.2 0M529.34 390.77a2.1 2.1 0 1 0 4.2 0a2.1 2.1 0 1 0 -4.2 0M524.47 400.51a2.1 2.1 0 1 0 4.2 0a2.1 2.1 0 1 0 -4.2 0M519.60 410.25a2.1 2.1 0 1 0 4.2 0a2.1 2.1 0 1 0 -4.2 0M529.34 410.25a2.1 2.1 0 1 0 4.2 0a2.1 2.1 0 1 0 -4.2 0M524.47 420.00a2.1 2.1 0 1 0 4.2 0a2.1 2.1 0 1 0 -4.2 0M519.60 429.74a2.1 2.1 0 1 0 4.2 0a2.1 2.1 0 1 0 -4.2 0M529.34 429.74a2.1 2.1 0 1 0 4.2 0a2.1 2.1 0 1 0 -4.2 0"/>
<rect x="520.50" y="272.30" width="8.11" height="164.10" fill="none" stroke="#4d5257" stroke-width="0.8"/>
<rect x="536.72" y="265.40" width="8.11" height="171.00" fill="#aec7e8" fill-opacity="0.7"/>
<clipPath id="hc57"><rect x="536.72" y="265.40" width="8.11" height="169.00"/></clipPath><path clip-path="url(#hc57)" fill="#000" d="M534.91 264.12a1.4 1.4 0 1 0 2.8 0a1.4 1.4 0 1 0 -2.8 0M544.65 264.12a1.4 1.4 0 1 0 2.8 0a1.4 1.4 0 1 0 -2.8 0M539.78 273.87a1.4 1.4 0 1 0 2.8 0a1.4 1.4 0 1 0 -2.8 0M534.91 283.61a1.4 1.4 0 1 0 2.8 0a1.4 1.4 0 1 0 -2.8 0M544.65 283.61a1.4 1.4 0 1 0 2.8 0a1.4 1.4 0 1 0 -2.8 0M539.78 293.35a1.4 1.4 0 1 0 2.8 0a1.4 1.4 0 1 0 -2.8 0M534.91 303.09a1.4 1.4 0 1 0 2.8 0a1.4 1.4 0 1 0 -2.8 0M544.65 303.09a1.4 1.4 0 1 0 2.8 0a1.4 1.4 0 1 0 -2.8 0M539.78 312.83a1.4 1.4 0 1 0 2.8 0a1.4 1.4 0 1 0 -2.8 0M534.91 322.58a1.4 1.4 0 1 0 2.8 0a1.4 1.4 0 1 0 -2.8 0M544.65 322.58a1.4 1.4 0 1 0 2.8 0a1.4 1.4 0 1 0 -2.8 0M539.78 332.32a1.4 1.4 0 1 0 2.8 0a1.4 1.4 0 1 0 -2.8 0M534.91 342.06a1.4 1.4 0 1 0 2.8 0a1.4 1.4 0 1 0 -2.8 0M544.65 342.06a1.4 1.4 0 1 0 2.8 0a1.4 1.4 0 1 0 -2.8 0M539.78 351.80a1.4 1.4 0 1 0 2.8 0a1.4 1.4 0 1 0 -2.8 0M534.91 361.54a1.4 1.4 0 1 0 2.8 0a1.4 1.4 0 1 0 -2.8 0M544.65 361.54a1.4 1.4 0 1 0 2.8 0a1.4 1.4 0 1 0 -2.8 0M539.78 371.29a1.4 1.4 0 1 0 2.8 0a1.4 1.4 0 1 0 -2.8 0M534.91 381.03a1.4 1.4 0 1 0 2.8 0a1.4 1.4 0 1 0 -2.8 0M544.65 381.03a1.4 1.4 0 1 0 2.8 0a1.4 1.4 0 1 0 -2.8 0M539.78 390.77a1.4 1.4 0 1 0 2.8 0a1.4 1.4 0 1 0 -2.8 0M534.91 400.51a1.4 1.4 0 1 0 2.8 0a1.4 1.4 0 1 0 -2.8 0M544.65 400.51a1.4 1.4 0 1 0 2.8 0a1.4 1.4 0 1 0 -2.8 0M539.78 410.25a1.4 1.4 0 1 0 2.8 0a1.4 1.4 0 1 0 -2.8 0M534.91 420.00a1.4 1.4 0 1 0 2.8 0a1.4 1.4 0 1 0 -2.8 0M544.65 420.00a1.4 1.4 0 1 0 2.8 0a1.4 1.4 0 1 0 -2.8 0M539.78 429.74a1.4 1.4 0 1 0 2.8 0a1.4 1.4 0 1 0 -2.8 0"/>
<rect x="536.72" y="265.40" width="8.11" height="171.00" fill="none" stroke="#4d5257" stroke-width="0.8"/>
<rect x="544.83" y="285.60" width="8.11" height="150.80" fill="#ffbb78" fill-opacity="0.7"/>
<rect x="544.83" y="285.60" width="8.11" height="150.80" fill="none" stroke="#4d5257" stroke-width="0.8"/>
<rect x="552.94" y="265.40" width="8.11" height="171.00" fill="#98df8a" fill-opacity="0.7"/>
<clipPath id="hc58"><rect x="552.94" y="265.40" width="8.11" height="169.00"/></clipPath><path clip-path="url(#hc58)" fill="none" stroke="#000" stroke-width="0.9" d="M553.69 264.12a2.1 2.1 0 1 0 4.2 0a2.1 2.1 0 1 0 -4.2 0M548.82 273.87a2.1 2.1 0 1 0 4.2 0a2.1 2.1 0 1 0 -4.2 0M558.57 273.87a2.1 2.1 0 1 0 4.2 0a2.1 2.1 0 1 0 -4.2 0M553.69 283.61a2.1 2.1 0 1 0 4.2 0a2.1 2.1 0 1 0 -4.2 0M548.82 293.35a2.1 2.1 0 1 0 4.2 0a2.1 2.1 0 1 0 -4.2 0M558.57 293.35a2.1 2.1 0 1 0 4.2 0a2.1 2.1 0 1 0 -4.2 0M553.69 303.09a2.1 2.1 0 1 0 4.2 0a2.1 2.1 0 1 0 -4.2 0M548.82 312.83a2.1 2.1 0 1 0 4.2 0a2.1 2.1 0 1 0 -4.2 0M558.57 312.83a2.1 2.1 0 1 0 4.2 0a2.1 2.1 0 1 0 -4.2 0M553.69 322.58a2.1 2.1 0 1 0 4.2 0a2.1 2.1 0 1 0 -4.2 0M548.82 332.32a2.1 2.1 0 1 0 4.2 0a2.1 2.1 0 1 0 -4.2 0M558.57 332.32a2.1 2.1 0 1 0 4.2 0a2.1 2.1 0 1 0 -4.2 0M553.69 342.06a2.1 2.1 0 1 0 4.2 0a2.1 2.1 0 1 0 -4.2 0M548.82 351.80a2.1 2.1 0 1 0 4.2 0a2.1 2.1 0 1 0 -4.2 0M558.57 351.80a2.1 2.1 0 1 0 4.2 0a2.1 2.1 0 1 0 -4.2 0M553.69 361.54a2.1 2.1 0 1 0 4.2 0a2.1 2.1 0 1 0 -4.2 0M548.82 371.29a2.1 2.1 0 1 0 4.2 0a2.1 2.1 0 1 0 -4.2 0M558.57 371.29a2.1 2.1 0 1 0 4.2 0a2.1 2.1 0 1 0 -4.2 0M553.69 381.03a2.1 2.1 0 1 0 4.2 0a2.1 2.1 0 1 0 -4.2 0M548.82 390.77a2.1 2.1 0 1 0 4.2 0a2.1 2.1 0 1 0 -4.2 0M558.57 390.77a2.1 2.1 0 1 0 4.2 0a2.1 2.1 0 1 0 -4.2 0M553.69 400.51a2.1 2.1 0 1 0 4.2 0a2.1 2.1 0 1 0 -4.2 0M548.82 410.25a2.1 2.1 0 1 0 4.2 0a2.1 2.1 0 1 0 -4.2 0M558.57 410.25a2.1 2.1 0 1 0 4.2 0a2.1 2.1 0 1 0 -4.2 0M553.69 420.00a2.1 2.1 0 1 0 4.2 0a2.1 2.1 0 1 0 -4.2 0M548.82 429.74a2.1 2.1 0 1 0 4.2 0a2.1 2.1 0 1 0 -4.2 0M558.57 429.74a2.1 2.1 0 1 0 4.2 0a2.1 2.1 0 1 0 -4.2 0"/>
<rect x="552.94" y="265.40" width="8.11" height="171.00" fill="none" stroke="#4d5257" stroke-width="0.8"/>
<rect x="569.15" y="262.30" width="8.11" height="174.10" fill="#aec7e8" fill-opacity="0.7"/>
<clipPath id="hc59"><rect x="569.15" y="262.30" width="8.11" height="172.10"/></clipPath><path clip-path="url(#hc59)" fill="#000" d="M573.88 264.12a1.4 1.4 0 1 0 2.8 0a1.4 1.4 0 1 0 -2.8 0M569.01 273.87a1.4 1.4 0 1 0 2.8 0a1.4 1.4 0 1 0 -2.8 0M573.88 283.61a1.4 1.4 0 1 0 2.8 0a1.4 1.4 0 1 0 -2.8 0M569.01 293.35a1.4 1.4 0 1 0 2.8 0a1.4 1.4 0 1 0 -2.8 0M573.88 303.09a1.4 1.4 0 1 0 2.8 0a1.4 1.4 0 1 0 -2.8 0M569.01 312.83a1.4 1.4 0 1 0 2.8 0a1.4 1.4 0 1 0 -2.8 0M573.88 322.58a1.4 1.4 0 1 0 2.8 0a1.4 1.4 0 1 0 -2.8 0M569.01 332.32a1.4 1.4 0 1 0 2.8 0a1.4 1.4 0 1 0 -2.8 0M573.88 342.06a1.4 1.4 0 1 0 2.8 0a1.4 1.4 0 1 0 -2.8 0M569.01 351.80a1.4 1.4 0 1 0 2.8 0a1.4 1.4 0 1 0 -2.8 0M573.88 361.54a1.4 1.4 0 1 0 2.8 0a1.4 1.4 0 1 0 -2.8 0M569.01 371.29a1.4 1.4 0 1 0 2.8 0a1.4 1.4 0 1 0 -2.8 0M573.88 381.03a1.4 1.4 0 1 0 2.8 0a1.4 1.4 0 1 0 -2.8 0M569.01 390.77a1.4 1.4 0 1 0 2.8 0a1.4 1.4 0 1 0 -2.8 0M573.88 400.51a1.4 1.4 0 1 0 2.8 0a1.4 1.4 0 1 0 -2.8 0M569.01 410.25a1.4 1.4 0 1 0 2.8 0a1.4 1.4 0 1 0 -2.8 0M573.88 420.00a1.4 1.4 0 1 0 2.8 0a1.4 1.4 0 1 0 -2.8 0M569.01 429.74a1.4 1.4 0 1 0 2.8 0a1.4 1.4 0 1 0 -2.8 0"/>
<rect x="569.15" y="262.30" width="8.11" height="174.10" fill="none" stroke="#4d5257" stroke-width="0.8"/>
<rect x="577.26" y="284.70" width="8.11" height="151.70" fill="#ffbb78" fill-opacity="0.7"/>
<rect x="577.26" y="284.70" width="8.11" height="151.70" fill="none" stroke="#4d5257" stroke-width="0.8"/>
<rect x="585.38" y="261.60" width="8.11" height="174.80" fill="#98df8a" fill-opacity="0.7"/>
<clipPath id="hc60"><rect x="585.38" y="261.60" width="8.11" height="172.80"/></clipPath><path clip-path="url(#hc60)" fill="none" stroke="#000" stroke-width="0.9" d="M582.92 264.12a2.1 2.1 0 1 0 4.2 0a2.1 2.1 0 1 0 -4.2 0M592.66 264.12a2.1 2.1 0 1 0 4.2 0a2.1 2.1 0 1 0 -4.2 0M587.79 273.87a2.1 2.1 0 1 0 4.2 0a2.1 2.1 0 1 0 -4.2 0M582.92 283.61a2.1 2.1 0 1 0 4.2 0a2.1 2.1 0 1 0 -4.2 0M592.66 283.61a2.1 2.1 0 1 0 4.2 0a2.1 2.1 0 1 0 -4.2 0M587.79 293.35a2.1 2.1 0 1 0 4.2 0a2.1 2.1 0 1 0 -4.2 0M582.92 303.09a2.1 2.1 0 1 0 4.2 0a2.1 2.1 0 1 0 -4.2 0M592.66 303.09a2.1 2.1 0 1 0 4.2 0a2.1 2.1 0 1 0 -4.2 0M587.79 312.83a2.1 2.1 0 1 0 4.2 0a2.1 2.1 0 1 0 -4.2 0M582.92 322.58a2.1 2.1 0 1 0 4.2 0a2.1 2.1 0 1 0 -4.2 0M592.66 322.58a2.1 2.1 0 1 0 4.2 0a2.1 2.1 0 1 0 -4.2 0M587.79 332.32a2.1 2.1 0 1 0 4.2 0a2.1 2.1 0 1 0 -4.2 0M582.92 342.06a2.1 2.1 0 1 0 4.2 0a2.1 2.1 0 1 0 -4.2 0M592.66 342.06a2.1 2.1 0 1 0 4.2 0a2.1 2.1 0 1 0 -4.2 0M587.79 351.80a2.1 2.1 0 1 0 4.2 0a2.1 2.1 0 1 0 -4.2 0M582.92 361.54a2.1 2.1 0 1 0 4.2 0a2.1 2.1 0 1 0 -4.2 0M592.66 361.54a2.1 2.1 0 1 0 4.2 0a2.1 2.1 0 1 0 -4.2 0M587.79 371.29a2.1 2.1 0 1 0 4.2 0a2.1 2.1 0 1 0 -4.2 0M582.92 381.03a2.1 2.1 0 1 0 4.2 0a2.1 2.1 0 1 0 -4.2 0M592.66 381.03a2.1 2.1 0 1 0 4.2 0a2.1 2.1 0 1 0 -4.2 0M587.79 390.77a2.1 2.1 0 1 0 4.2 0a2.1 2.1 0 1 0 -4.2 0M582.92 400.51a2.1 2.1 0 1 0 4.2 0a2.1 2.1 0 1 0 -4.2 0M592.66 400.51a2.1 2.1 0 1 0 4.2 0a2.1 2.1 0 1 0 -4.2 0M587.79 410.25a2.1 2.1 0 1 0 4.2 0a2.1 2.1 0 1 0 -4.2 0M582.92 420.00a2.1 2.1 0 1 0 4.2 0a2.1 2.1 0 1 0 -4.2 0M592.66 420.00a2.1 2.1 0 1 0 4.2 0a2.1 2.1 0 1 0 -4.2 0M587.79 429.74a2.1 2.1 0 1 0 4.2 0a2.1 2.1 0 1 0 -4.2 0"/>
<rect x="585.38" y="261.60" width="8.11" height="174.80" fill="none" stroke="#4d5257" stroke-width="0.8"/>
<rect x="601.60" y="260.40" width="8.11" height="176.00" fill="#aec7e8" fill-opacity="0.7"/>
<clipPath id="hc61"><rect x="601.60" y="260.40" width="8.11" height="174.00"/></clipPath><path clip-path="url(#hc61)" fill="#000" d="M603.10 264.12a1.4 1.4 0 1 0 2.8 0a1.4 1.4 0 1 0 -2.8 0M598.23 273.87a1.4 1.4 0 1 0 2.8 0a1.4 1.4 0 1 0 -2.8 0M607.98 273.87a1.4 1.4 0 1 0 2.8 0a1.4 1.4 0 1 0 -2.8 0M603.10 283.61a1.4 1.4 0 1 0 2.8 0a1.4 1.4 0 1 0 -2.8 0M598.23 293.35a1.4 1.4 0 1 0 2.8 0a1.4 1.4 0 1 0 -2.8 0M607.98 293.35a1.4 1.4 0 1 0 2.8 0a1.4 1.4 0 1 0 -2.8 0M603.10 303.09a1.4 1.4 0 1 0 2.8 0a1.4 1.4 0 1 0 -2.8 0M598.23 312.83a1.4 1.4 0 1 0 2.8 0a1.4 1.4 0 1 0 -2.8 0M607.98 312.83a1.4 1.4 0 1 0 2.8 0a1.4 1.4 0 1 0 -2.8 0M603.10 322.58a1.4 1.4 0 1 0 2.8 0a1.4 1.4 0 1 0 -2.8 0M598.23 332.32a1.4 1.4 0 1 0 2.8 0a1.4 1.4 0 1 0 -2.8 0M607.98 332.32a1.4 1.4 0 1 0 2.8 0a1.4 1.4 0 1 0 -2.8 0M603.10 342.06a1.4 1.4 0 1 0 2.8 0a1.4 1.4 0 1 0 -2.8 0M598.23 351.80a1.4 1.4 0 1 0 2.8 0a1.4 1.4 0 1 0 -2.8 0M607.98 351.80a1.4 1.4 0 1 0 2.8 0a1.4 1.4 0 1 0 -2.8 0M603.10 361.54a1.4 1.4 0 1 0 2.8 0a1.4 1.4 0 1 0 -2.8 0M598.23 371.29a1.4 1.4 0 1 0 2.8 0a1.4 1.4 0 1 0 -2.8 0M607.98 371.29a1.4 1.4 0 1 0 2.8 0a1.4 1.4 0 1 0 -2.8 0M603.10 381.03a1.4 1.4 0 1 0 2.8 0a1.4 1.4 0 1 0 -2.8 0M598.23 390.77a1.4 1.4 0 1 0 2.8 0a1.4 1.4 0 1 0 -2.8 0M607.98 390.77a1.4 1.4 0 1 0 2.8 0a1.4 1.4 0 1 0 -2.8 0M603.10 400.51a1.4 1.4 0 1 0 2.8 0a1.4 1.4 0 1 0 -2.8 0M598.23 410.25a1.4 1.4 0 1 0 2.8 0a1.4 1.4 0 1 0 -2.8 0M607.98 410.25a1.4 1.4 0 1 0 2.8 0a1.4 1.4 0 1 0 -2.8 0M603.10 420.00a1.4 1.4 0 1 0 2.8 0a1.4 1.4 0 1 0 -2.8 0M598.23 429.74a1.4 1.4 0 1 0 2.8 0a1.4 1.4 0 1 0 -2.8 0M607.98 429.74a1.4 1.4 0 1 0 2.8 0a1.4 1.4 0 1 0 -2.8 0"/>
<rect x="601.60" y="260.40" width="8.11" height="176.00" fill="none" stroke="#4d5257" stroke-width="0.8"/>
<rect x="609.71" y="283.80" width="8.11" height="152.60" fill="#ffbb78" fill-opacity="0.7"/>
<rect x="609.71" y="283.80" width="8.11" height="152.60" fill="none" stroke="#4d5257" stroke-width="0.8"/>
<rect x="617.82" y="260.40" width="8.11" height="176.00" fill="#98df8a" fill-opacity="0.7"/>
<clipPath id="hc62"><rect x="617.82" y="260.40" width="8.11" height="174.00"/></clipPath><path clip-path="url(#hc62)" fill="none" stroke="#000" stroke-width="0.9" d="M621.89 264.12a2.1 2.1 0 1 0 4.2 0a2.1 2.1 0 1 0 -4.2 0M617.02 273.87a2.1 2.1 0 1 0 4.2 0a2.1 2.1 0 1 0 -4.2 0M626.76 273.87a2.1 2.1 0 1 0 4.2 0a2.1 2.1 0 1 0 -4.2 0M621.89 283.61a2.1 2.1 0 1 0 4.2 0a2.1 2.1 0 1 0 -4.2 0M617.02 293.35a2.1 2.1 0 1 0 4.2 0a2.1 2.1 0 1 0 -4.2 0M626.76 293.35a2.1 2.1 0 1 0 4.2 0a2.1 2.1 0 1 0 -4.2 0M621.89 303.09a2.1 2.1 0 1 0 4.2 0a2.1 2.1 0 1 0 -4.2 0M617.02 312.83a2.1 2.1 0 1 0 4.2 0a2.1 2.1 0 1 0 -4.2 0M626.76 312.83a2.1 2.1 0 1 0 4.2 0a2.1 2.1 0 1 0 -4.2 0M621.89 322.58a2.1 2.1 0 1 0 4.2 0a2.1 2.1 0 1 0 -4.2 0M617.02 332.32a2.1 2.1 0 1 0 4.2 0a2.1 2.1 0 1 0 -4.2 0M626.76 332.32a2.1 2.1 0 1 0 4.2 0a2.1 2.1 0 1 0 -4.2 0M621.89 342.06a2.1 2.1 0 1 0 4.2 0a2.1 2.1 0 1 0 -4.2 0M617.02 351.80a2.1 2.1 0 1 0 4.2 0a2.1 2.1 0 1 0 -4.2 0M626.76 351.80a2.1 2.1 0 1 0 4.2 0a2.1 2.1 0 1 0 -4.2 0M621.89 361.54a2.1 2.1 0 1 0 4.2 0a2.1 2.1 0 1 0 -4.2 0M617.02 371.29a2.1 2.1 0 1 0 4.2 0a2.1 2.1 0 1 0 -4.2 0M626.76 371.29a2.1 2.1 0 1 0 4.2 0a2.1 2.1 0 1 0 -4.2 0M621.89 381.03a2.1 2.1 0 1 0 4.2 0a2.1 2.1 0 1 0 -4.2 0M617.02 390.77a2.1 2.1 0 1 0 4.2 0a2.1 2.1 0 1 0 -4.2 0M626.76 390.77a2.1 2.1 0 1 0 4.2 0a2.1 2.1 0 1 0 -4.2 0M621.89 400.51a2.1 2.1 0 1 0 4.2 0a2.1 2.1 0 1 0 -4.2 0M617.02 410.25a2.1 2.1 0 1 0 4.2 0a2.1 2.1 0 1 0 -4.2 0M626.76 410.25a2.1 2.1 0 1 0 4.2 0a2.1 2.1 0 1 0 -4.2 0M621.89 420.00a2.1 2.1 0 1 0 4.2 0a2.1 2.1 0 1 0 -4.2 0M617.02 429.74a2.1 2.1 0 1 0 4.2 0a2.1 2.1 0 1 0 -4.2 0M626.76 429.74a2.1 2.1 0 1 0 4.2 0a2.1 2.1 0 1 0 -4.2 0"/>
<rect x="617.82" y="260.40" width="8.11" height="176.00" fill="none" stroke="#4d5257" stroke-width="0.8"/>
<rect x="634.03" y="255.70" width="8.11" height="180.70" fill="#aec7e8" fill-opacity="0.7"/>
<clipPath id="hc63"><rect x="634.03" y="255.70" width="8.11" height="178.70"/></clipPath><path clip-path="url(#hc63)" fill="#000" d="M637.20 254.38a1.4 1.4 0 1 0 2.8 0a1.4 1.4 0 1 0 -2.8 0M632.33 264.12a1.4 1.4 0 1 0 2.8 0a1.4 1.4 0 1 0 -2.8 0M642.07 264.12a1.4 1.4 0 1 0 2.8 0a1.4 1.4 0 1 0 -2.8 0M637.20 273.87a1.4 1.4 0 1 0 2.8 0a1.4 1.4 0 1 0 -2.8 0M632.33 283.61a1.4 1.4 0 1 0 2.8 0a1.4 1.4 0 1 0 -2.8 0M642.07 283.61a1.4 1.4 0 1 0 2.8 0a1.4 1.4 0 1 0 -2.8 0M637.20 293.35a1.4 1.4 0 1 0 2.8 0a1.4 1.4 0 1 0 -2.8 0M632.33 303.09a1.4 1.4 0 1 0 2.8 0a1.4 1.4 0 1 0 -2.8 0M642.07 303.09a1.4 1.4 0 1 0 2.8 0a1.4 1.4 0 1 0 -2.8 0M637.20 312.83a1.4 1.4 0 1 0 2.8 0a1.4 1.4 0 1 0 -2.8 0M632.33 322.58a1.4 1.4 0 1 0 2.8 0a1.4 1.4 0 1 0 -2.8 0M642.07 322.58a1.4 1.4 0 1 0 2.8 0a1.4 1.4 0 1 0 -2.8 0M637.20 332.32a1.4 1.4 0 1 0 2.8 0a1.4 1.4 0 1 0 -2.8 0M632.33 342.06a1.4 1.4 0 1 0 2.8 0a1.4 1.4 0 1 0 -2.8 0M642.07 342.06a1.4 1.4 0 1 0 2.8 0a1.4 1.4 0 1 0 -2.8 0M637.20 351.80a1.4 1.4 0 1 0 2.8 0a1.4 1.4 0 1 0 -2.8 0M632.33 361.54a1.4 1.4 0 1 0 2.8 0a1.4 1.4 0 1 0 -2.8 0M642.07 361.54a1.4 1.4 0 1 0 2.8 0a1.4 1.4 0 1 0 -2.8 0M637.20 371.29a1.4 1.4 0 1 0 2.8 0a1.4 1.4 0 1 0 -2.8 0M632.33 381.03a1.4 1.4 0 1 0 2.8 0a1.4 1.4 0 1 0 -2.8 0M642.07 381.03a1.4 1.4 0 1 0 2.8 0a1.4 1.4 0 1 0 -2.8 0M637.20 390.77a1.4 1.4 0 1 0 2.8 0a1.4 1.4 0 1 0 -2.8 0M632.33 400.51a1.4 1.4 0 1 0 2.8 0a1.4 1.4 0 1 0 -2.8 0M642.07 400.51a1.4 1.4 0 1 0 2.8 0a1.4 1.4 0 1 0 -2.8 0M637.20 410.25a1.4 1.4 0 1 0 2.8 0a1.4 1.4 0 1 0 -2.8 0M632.33 420.00a1.4 1.4 0 1 0 2.8 0a1.4 1.4 0 1 0 -2.8 0M642.07 420.00a1.4 1.4 0 1 0 2.8 0a1.4 1.4 0 1 0 -2.8 0M637.20 429.74a1.4 1.4 0 1 0 2.8 0a1.4 1.4 0 1 0 -2.8 0"/>
<rect x="634.03" y="255.70" width="8.11" height="180.70" fill="none" stroke="#4d5257" stroke-width="0.8"/>
<rect x="642.14" y="283.80" width="8.11" height="152.60" fill="#ffbb78" fill-opacity="0.7"/>
<rect x="642.14" y="283.80" width="8.11" height="152.60" fill="none" stroke="#4d5257" stroke-width="0.8"/>
<rect x="650.25" y="255.40" width="8.11" height="181.00" fill="#98df8a" fill-opacity="0.7"/>
<clipPath id="hc64"><rect x="650.25" y="255.40" width="8.11" height="179.00"/></clipPath><path clip-path="url(#hc64)" fill="none" stroke="#000" stroke-width="0.9" d="M646.24 254.38a2.1 2.1 0 1 0 4.2 0a2.1 2.1 0 1 0 -4.2 0M655.99 254.38a2.1 2.1 0 1 0 4.2 0a2.1 2.1 0 1 0 -4.2 0M651.11 264.12a2.1 2.1 0 1 0 4.2 0a2.1 2.1 0 1 0 -4.2 0M646.24 273.87a2.1 2.1 0 1 0 4.2 0a2.1 2.1 0 1 0 -4.2 0M655.99 273.87a2.1 2.1 0 1 0 4.2 0a2.1 2.1 0 1 0 -4.2 0M651.11 283.61a2.1 2.1 0 1 0 4.2 0a2.1 2.1 0 1 0 -4.2 0M646.24 293.35a2.1 2.1 0 1 0 4.2 0a2.1 2.1 0 1 0 -4.2 0M655.99 293.35a2.1 2.1 0 1 0 4.2 0a2.1 2.1 0 1 0 -4.2 0M651.11 303.09a2.1 2.1 0 1 0 4.2 0a2.1 2.1 0 1 0 -4.2 0M646.24 312.83a2.1 2.1 0 1 0 4.2 0a2.1 2.1 0 1 0 -4.2 0M655.99 312.83a2.1 2.1 0 1 0 4.2 0a2.1 2.1 0 1 0 -4.2 0M651.11 322.58a2.1 2.1 0 1 0 4.2 0a2.1 2.1 0 1 0 -4.2 0M646.24 332.32a2.1 2.1 0 1 0 4.2 0a2.1 2.1 0 1 0 -4.2 0M655.99 332.32a2.1 2.1 0 1 0 4.2 0a2.1 2.1 0 1 0 -4.2 0M651.11 342.06a2.1 2.1 0 1 0 4.2 0a2.1 2.1 0 1 0 -4.2 0M646.24 351.80a2.1 2.1 0 1 0 4.2 0a2.1 2.1 0 1 0 -4.2 0M655.99 351.80a2.1 2.1 0 1 0 4.2 0a2.1 2.1 0 1 0 -4.2 0M651.11 361.54a2.1 2.1 0 1 0 4.2 0a2.1 2.1 0 1 0 -4.2 0M646.24 371.29a2.1 2.1 0 1 0 4.2 0a2.1 2.1 0 1 0 -4.2 0M655.99 371.29a2.1 2.1 0 1 0 4.2 0a2.1 2.1 0 1 0 -4.2 0M651.11 381.03a2.1 2.1 0 1 0 4.2 0a2.1 2.1 0 1 0 -4.2 0M646.24 390.77a2.1 2.1 0 1 0 4.2 0a2.1 2.1 0 1 0 -4.2 0M655.99 390.77a2.1 2.1 0 1 0 4.2 0a2.1 2.1 0 1 0 -4.2 0M651.11 400.51a2.1 2.1 0 1 0 4.2 0a2.1 2.1 0 1 0 -4.2 0M646.24 410.25a2.1 2.1 0 1 0 4.2 0a2.1 2.1 0 1 0 -4.2 0M655.99 410.25a2.1 2.1 0 1 0 4.2 0a2.1 2.1 0 1 0 -4.2 0M651.11 420.00a2.1 2.1 0 1 0 4.2 0a2.1 2.1 0 1 0 -4.2 0M646.24 429.74a2.1 2.1 0 1 0 4.2 0a2.1 2.1 0 1 0 -4.2 0M655.99 429.74a2.1 2.1 0 1 0 4.2 0a2.1 2.1 0 1 0 -4.2 0"/>
<rect x="650.25" y="255.40" width="8.11" height="181.00" fill="none" stroke="#4d5257" stroke-width="0.8"/>
</g>
<line x1="151.49" y1="361.60" x2="151.49" y2="411.20" stroke="#000" stroke-width="1.3"/>
<line x1="147.99" y1="361.60" x2="154.99" y2="361.60" stroke="#000" stroke-width="1.0"/>
<line x1="147.99" y1="411.20" x2="154.99" y2="411.20" stroke="#000" stroke-width="1.0"/>
<line x1="159.60" y1="357.90" x2="159.60" y2="408.70" stroke="#000" stroke-width="1.3"/>
<line x1="156.10" y1="357.90" x2="163.10" y2="357.90" stroke="#000" stroke-width="1.0"/>
<line x1="156.10" y1="408.70" x2="163.10" y2="408.70" stroke="#000" stroke-width="1.0"/>
<line x1="167.71" y1="359.40" x2="167.71" y2="410.00" stroke="#000" stroke-width="1.3"/>
<line x1="164.21" y1="359.40" x2="171.21" y2="359.40" stroke="#000" stroke-width="1.0"/>
<line x1="164.21" y1="410.00" x2="171.21" y2="410.00" stroke="#000" stroke-width="1.0"/>
<line x1="183.93" y1="357.20" x2="183.93" y2="406.50" stroke="#000" stroke-width="1.3"/>
<line x1="180.43" y1="357.20" x2="187.43" y2="357.20" stroke="#000" stroke-width="1.0"/>
<line x1="180.43" y1="406.50" x2="187.43" y2="406.50" stroke="#000" stroke-width="1.0"/>
<line x1="192.04" y1="325.60" x2="192.04" y2="367.50" stroke="#000" stroke-width="1.3"/>
<line x1="188.54" y1="325.60" x2="195.54" y2="325.60" stroke="#000" stroke-width="1.0"/>
<line x1="188.54" y1="367.50" x2="195.54" y2="367.50" stroke="#000" stroke-width="1.0"/>
<line x1="200.15" y1="325.60" x2="200.15" y2="367.40" stroke="#000" stroke-width="1.3"/>
<line x1="196.65" y1="325.60" x2="203.65" y2="325.60" stroke="#000" stroke-width="1.0"/>
<line x1="196.65" y1="367.40" x2="203.65" y2="367.40" stroke="#000" stroke-width="1.0"/>
<line x1="216.37" y1="306.80" x2="216.37" y2="337.10" stroke="#000" stroke-width="1.3"/>
<line x1="212.87" y1="306.80" x2="219.87" y2="306.80" stroke="#000" stroke-width="1.0"/>
<line x1="212.87" y1="337.10" x2="219.87" y2="337.10" stroke="#000" stroke-width="1.0"/>
<line x1="224.48" y1="303.50" x2="224.48" y2="334.40" stroke="#000" stroke-width="1.3"/>
<line x1="220.98" y1="303.50" x2="227.98" y2="303.50" stroke="#000" stroke-width="1.0"/>
<line x1="220.98" y1="334.40" x2="227.98" y2="334.40" stroke="#000" stroke-width="1.0"/>
<line x1="232.59" y1="305.60" x2="232.59" y2="336.20" stroke="#000" stroke-width="1.3"/>
<line x1="229.09" y1="305.60" x2="236.09" y2="305.60" stroke="#000" stroke-width="1.0"/>
<line x1="229.09" y1="336.20" x2="236.09" y2="336.20" stroke="#000" stroke-width="1.0"/>
<line x1="248.81" y1="353.40" x2="248.81" y2="402.50" stroke="#000" stroke-width="1.3"/>
<line x1="245.31" y1="353.40" x2="252.31" y2="353.40" stroke="#000" stroke-width="1.0"/>
<line x1="245.31" y1="402.50" x2="252.31" y2="402.50" stroke="#000" stroke-width="1.0"/>
<line x1="256.92" y1="316.50" x2="256.92" y2="355.60" stroke="#000" stroke-width="1.3"/>
<line x1="253.42" y1="316.50" x2="260.42" y2="316.50" stroke="#000" stroke-width="1.0"/>
<line x1="253.42" y1="355.60" x2="260.42" y2="355.60" stroke="#000" stroke-width="1.0"/>
<line x1="265.03" y1="316.50" x2="265.03" y2="355.60" stroke="#000" stroke-width="1.3"/>
<line x1="261.53" y1="316.50" x2="268.53" y2="316.50" stroke="#000" stroke-width="1.0"/>
<line x1="261.53" y1="355.60" x2="268.53" y2="355.60" stroke="#000" stroke-width="1.0"/>
<line x1="281.25" y1="354.60" x2="281.25" y2="406.40" stroke="#000" stroke-width="1.3"/>
<line x1="277.75" y1="354.60" x2="284.75" y2="354.60" stroke="#000" stroke-width="1.0"/>
<line x1="277.75" y1="406.40" x2="284.75" y2="406.40" stroke="#000" stroke-width="1.0"/>
<line x1="289.36" y1="312.40" x2="289.36" y2="350.40" stroke="#000" stroke-width="1.3"/>
<line x1="285.86" y1="312.40" x2="292.86" y2="312.40" stroke="#000" stroke-width="1.0"/>
<line x1="285.86" y1="350.40" x2="292.86" y2="350.40" stroke="#000" stroke-width="1.0"/>
<line x1="297.47" y1="313.20" x2="297.47" y2="350.90" stroke="#000" stroke-width="1.3"/>
<line x1="293.97" y1="313.20" x2="300.97" y2="313.20" stroke="#000" stroke-width="1.0"/>
<line x1="293.97" y1="350.90" x2="300.97" y2="350.90" stroke="#000" stroke-width="1.0"/>
<line x1="313.69" y1="301.40" x2="313.69" y2="329.20" stroke="#000" stroke-width="1.3"/>
<line x1="310.19" y1="301.40" x2="317.19" y2="301.40" stroke="#000" stroke-width="1.0"/>
<line x1="310.19" y1="329.20" x2="317.19" y2="329.20" stroke="#000" stroke-width="1.0"/>
<line x1="321.80" y1="298.50" x2="321.80" y2="326.50" stroke="#000" stroke-width="1.3"/>
<line x1="318.30" y1="298.50" x2="325.30" y2="298.50" stroke="#000" stroke-width="1.0"/>
<line x1="318.30" y1="326.50" x2="325.30" y2="326.50" stroke="#000" stroke-width="1.0"/>
<line x1="329.91" y1="299.40" x2="329.91" y2="327.60" stroke="#000" stroke-width="1.3"/>
<line x1="326.41" y1="299.40" x2="333.41" y2="299.40" stroke="#000" stroke-width="1.0"/>
<line x1="326.41" y1="327.60" x2="333.41" y2="327.60" stroke="#000" stroke-width="1.0"/>
<line x1="346.13" y1="299.40" x2="346.13" y2="327.40" stroke="#000" stroke-width="1.3"/>
<line x1="342.63" y1="299.40" x2="349.63" y2="299.40" stroke="#000" stroke-width="1.0"/>
<line x1="342.63" y1="327.40" x2="349.63" y2="327.40" stroke="#000" stroke-width="1.0"/>
<line x1="354.24" y1="297.40" x2="354.24" y2="323.50" stroke="#000" stroke-width="1.3"/>
<line x1="350.74" y1="297.40" x2="357.74" y2="297.40" stroke="#000" stroke-width="1.0"/>
<line x1="350.74" y1="323.50" x2="357.74" y2="323.50" stroke="#000" stroke-width="1.0"/>
<line x1="362.35" y1="297.60" x2="362.35" y2="325.30" stroke="#000" stroke-width="1.3"/>
<line x1="358.85" y1="297.60" x2="365.85" y2="297.60" stroke="#000" stroke-width="1.0"/>
<line x1="358.85" y1="325.30" x2="365.85" y2="325.30" stroke="#000" stroke-width="1.0"/>
<line x1="378.57" y1="274.50" x2="378.57" y2="295.30" stroke="#000" stroke-width="1.3"/>
<line x1="375.07" y1="274.50" x2="382.07" y2="274.50" stroke="#000" stroke-width="1.0"/>
<line x1="375.07" y1="295.30" x2="382.07" y2="295.30" stroke="#000" stroke-width="1.0"/>
<line x1="386.68" y1="280.60" x2="386.68" y2="302.40" stroke="#000" stroke-width="1.3"/>
<line x1="383.18" y1="280.60" x2="390.18" y2="280.60" stroke="#000" stroke-width="1.0"/>
<line x1="383.18" y1="302.40" x2="390.18" y2="302.40" stroke="#000" stroke-width="1.0"/>
<line x1="394.79" y1="274.50" x2="394.79" y2="295.10" stroke="#000" stroke-width="1.3"/>
<line x1="391.29" y1="274.50" x2="398.29" y2="274.50" stroke="#000" stroke-width="1.0"/>
<line x1="391.29" y1="295.10" x2="398.29" y2="295.10" stroke="#000" stroke-width="1.0"/>
<line x1="411.01" y1="269.20" x2="411.01" y2="287.30" stroke="#000" stroke-width="1.3"/>
<line x1="407.51" y1="269.20" x2="414.51" y2="269.20" stroke="#000" stroke-width="1.0"/>
<line x1="407.51" y1="287.30" x2="414.51" y2="287.30" stroke="#000" stroke-width="1.0"/>
<line x1="419.12" y1="279.20" x2="419.12" y2="299.40" stroke="#000" stroke-width="1.3"/>
<line x1="415.62" y1="279.20" x2="422.62" y2="279.20" stroke="#000" stroke-width="1.0"/>
<line x1="415.62" y1="299.40" x2="422.62" y2="299.40" stroke="#000" stroke-width="1.0"/>
<line x1="427.23" y1="268.50" x2="427.23" y2="286.00" stroke="#000" stroke-width="1.3"/>
<line x1="423.73" y1="268.50" x2="430.73" y2="268.50" stroke="#000" stroke-width="1.0"/>
<line x1="423.73" y1="286.00" x2="430.73" y2="286.00" stroke="#000" stroke-width="1.0"/>
<line x1="443.45" y1="267.10" x2="443.45" y2="283.30" stroke="#000" stroke-width="1.3"/>
<line x1="439.95" y1="267.10" x2="446.95" y2="267.10" stroke="#000" stroke-width="1.0"/>
<line x1="439.95" y1="283.30" x2="446.95" y2="283.30" stroke="#000" stroke-width="1.0"/>
<line x1="451.56" y1="277.50" x2="451.56" y2="297.00" stroke="#000" stroke-width="1.3"/>
<line x1="448.06" y1="277.50" x2="455.06" y2="277.50" stroke="#000" stroke-width="1.0"/>
<line x1="448.06" y1="297.00" x2="455.06" y2="297.00" stroke="#000" stroke-width="1.0"/>
<line x1="459.67" y1="266.40" x2="459.67" y2="282.70" stroke="#000" stroke-width="1.3"/>
<line x1="456.17" y1="266.40" x2="463.17" y2="266.40" stroke="#000" stroke-width="1.0"/>
<line x1="456.17" y1="282.70" x2="463.17" y2="282.70" stroke="#000" stroke-width="1.0"/>
<line x1="475.89" y1="267.30" x2="475.89" y2="284.20" stroke="#000" stroke-width="1.3"/>
<line x1="472.39" y1="267.30" x2="479.39" y2="267.30" stroke="#000" stroke-width="1.0"/>
<line x1="472.39" y1="284.20" x2="479.39" y2="284.20" stroke="#000" stroke-width="1.0"/>
<line x1="484.00" y1="277.60" x2="484.00" y2="298.50" stroke="#000" stroke-width="1.3"/>
<line x1="480.50" y1="277.60" x2="487.50" y2="277.60" stroke="#000" stroke-width="1.0"/>
<line x1="480.50" y1="298.50" x2="487.50" y2="298.50" stroke="#000" stroke-width="1.0"/>
<line x1="492.11" y1="265.20" x2="492.11" y2="282.50" stroke="#000" stroke-width="1.3"/>
<line x1="488.61" y1="265.20" x2="495.61" y2="265.20" stroke="#000" stroke-width="1.0"/>
<line x1="488.61" y1="282.50" x2="495.61" y2="282.50" stroke="#000" stroke-width="1.0"/>
<line x1="508.33" y1="264.50" x2="508.33" y2="279.50" stroke="#000" stroke-width="1.3"/>
<line x1="504.83" y1="264.50" x2="511.83" y2="264.50" stroke="#000" stroke-width="1.0"/>
<line x1="504.83" y1="279.50" x2="511.83" y2="279.50" stroke="#000" stroke-width="1.0"/>
<line x1="516.44" y1="277.10" x2="516.44" y2="296.30" stroke="#000" stroke-width="1.3"/>
<line x1="512.94" y1="277.10" x2="519.94" y2="277.10" stroke="#000" stroke-width="1.0"/>
<line x1="512.94" y1="296.30" x2="519.94" y2="296.30" stroke="#000" stroke-width="1.0"/>
<line x1="524.55" y1="264.50" x2="524.55" y2="279.50" stroke="#000" stroke-width="1.3"/>
<line x1="521.05" y1="264.50" x2="528.05" y2="264.50" stroke="#000" stroke-width="1.0"/>
<line x1="521.05" y1="279.50" x2="528.05" y2="279.50" stroke="#000" stroke-width="1.0"/>
<line x1="540.77" y1="258.60" x2="540.77" y2="272.50" stroke="#000" stroke-width="1.3"/>
<line x1="537.27" y1="258.60" x2="544.27" y2="258.60" stroke="#000" stroke-width="1.0"/>
<line x1="537.27" y1="272.50" x2="544.27" y2="272.50" stroke="#000" stroke-width="1.0"/>
<line x1="548.88" y1="276.10" x2="548.88" y2="294.10" stroke="#000" stroke-width="1.3"/>
<line x1="545.38" y1="276.10" x2="552.38" y2="276.10" stroke="#000" stroke-width="1.0"/>
<line x1="545.38" y1="294.10" x2="552.38" y2="294.10" stroke="#000" stroke-width="1.0"/>
<line x1="556.99" y1="258.60" x2="556.99" y2="272.50" stroke="#000" stroke-width="1.3"/>
<line x1="553.49" y1="258.60" x2="560.49" y2="258.60" stroke="#000" stroke-width="1.0"/>
<line x1="553.49" y1="272.50" x2="560.49" y2="272.50" stroke="#000" stroke-width="1.0"/>
<line x1="573.21" y1="256.60" x2="573.21" y2="267.30" stroke="#000" stroke-width="1.3"/>
<line x1="569.71" y1="256.60" x2="576.71" y2="256.60" stroke="#000" stroke-width="1.0"/>
<line x1="569.71" y1="267.30" x2="576.71" y2="267.30" stroke="#000" stroke-width="1.0"/>
<line x1="581.32" y1="275.50" x2="581.32" y2="293.40" stroke="#000" stroke-width="1.3"/>
<line x1="577.82" y1="275.50" x2="584.82" y2="275.50" stroke="#000" stroke-width="1.0"/>
<line x1="577.82" y1="293.40" x2="584.82" y2="293.40" stroke="#000" stroke-width="1.0"/>
<line x1="589.43" y1="255.40" x2="589.43" y2="267.30" stroke="#000" stroke-width="1.3"/>
<line x1="585.93" y1="255.40" x2="592.93" y2="255.40" stroke="#000" stroke-width="1.0"/>
<line x1="585.93" y1="267.30" x2="592.93" y2="267.30" stroke="#000" stroke-width="1.0"/>
<line x1="605.65" y1="255.20" x2="605.65" y2="265.80" stroke="#000" stroke-width="1.3"/>
<line x1="602.15" y1="255.20" x2="609.15" y2="255.20" stroke="#000" stroke-width="1.0"/>
<line x1="602.15" y1="265.80" x2="609.15" y2="265.80" stroke="#000" stroke-width="1.0"/>
<line x1="613.76" y1="274.30" x2="613.76" y2="292.20" stroke="#000" stroke-width="1.3"/>
<line x1="610.26" y1="274.30" x2="617.26" y2="274.30" stroke="#000" stroke-width="1.0"/>
<line x1="610.26" y1="292.20" x2="617.26" y2="292.20" stroke="#000" stroke-width="1.0"/>
<line x1="621.87" y1="255.20" x2="621.87" y2="265.60" stroke="#000" stroke-width="1.3"/>
<line x1="618.37" y1="255.20" x2="625.37" y2="255.20" stroke="#000" stroke-width="1.0"/>
<line x1="618.37" y1="265.60" x2="625.37" y2="265.60" stroke="#000" stroke-width="1.0"/>
<line x1="638.09" y1="250.90" x2="638.09" y2="260.10" stroke="#000" stroke-width="1.3"/>
<line x1="634.59" y1="250.90" x2="641.59" y2="250.90" stroke="#000" stroke-width="1.0"/>
<line x1="634.59" y1="260.10" x2="641.59" y2="260.10" stroke="#000" stroke-width="1.0"/>
<line x1="646.20" y1="273.70" x2="646.20" y2="292.00" stroke="#000" stroke-width="1.3"/>
<line x1="642.70" y1="273.70" x2="649.70" y2="273.70" stroke="#000" stroke-width="1.0"/>
<line x1="642.70" y1="292.00" x2="649.70" y2="292.00" stroke="#000" stroke-width="1.0"/>
<line x1="654.31" y1="250.20" x2="654.31" y2="259.90" stroke="#000" stroke-width="1.3"/>
<line x1="650.81" y1="250.20" x2="657.81" y2="250.20" stroke="#000" stroke-width="1.0"/>
<line x1="650.81" y1="259.90" x2="657.81" y2="259.90" stroke="#000" stroke-width="1.0"/>
<rect x="44" y="238" width="641" height="1" fill="rgb(90,90,90)"/>
<rect x="44" y="434" width="641" height="1" fill="rgb(90,90,90)"/>
<rect x="44" y="237" width="1" height="199" fill="rgb(150,150,150)"/>
<rect x="45" y="237" width="1" height="199" fill="rgb(155,155,155)"/>
<rect x="683" y="237" width="1" height="199" fill="rgb(150,150,150)"/>
<rect x="684" y="237" width="1" height="199" fill="rgb(205,205,205)"/>
<line x1="42.1" y1="413.40" x2="45.1" y2="413.40" stroke="#333" stroke-width="0.8"/>
<text x="14.02" y="417.80" font-size="11.9" textLength="25.21" lengthAdjust="spacingAndGlyphs" fill="#1a1a1a">0.75</text>
<line x1="42.1" y1="378.42" x2="45.1" y2="378.42" stroke="#333" stroke-width="0.8"/>
<text x="14.02" y="382.82" font-size="11.9" textLength="25.21" lengthAdjust="spacingAndGlyphs" fill="#1a1a1a">0.80</text>
<line x1="42.1" y1="343.44" x2="45.1" y2="343.44" stroke="#333" stroke-width="0.8"/>
<text x="14.02" y="347.84" font-size="11.9" textLength="25.21" lengthAdjust="spacingAndGlyphs" fill="#1a1a1a">0.85</text>
<line x1="42.1" y1="308.46" x2="45.1" y2="308.46" stroke="#333" stroke-width="0.8"/>
<text x="14.02" y="312.86" font-size="11.9" textLength="25.21" lengthAdjust="spacingAndGlyphs" fill="#1a1a1a">0.90</text>
<line x1="42.1" y1="273.48" x2="45.1" y2="273.48" stroke="#333" stroke-width="0.8"/>
<text x="14.02" y="277.88" font-size="11.9" textLength="25.21" lengthAdjust="spacingAndGlyphs" fill="#1a1a1a">0.95</text>
<line x1="42.1" y1="238.50" x2="45.1" y2="238.50" stroke="#333" stroke-width="0.8"/>
<text x="13.53" y="242.90" font-size="11.9" textLength="25.72" lengthAdjust="spacingAndGlyphs" fill="#1a1a1a">1.00</text>
<line x1="159.60" y1="434.4" x2="159.60" y2="437.4" stroke="#333" stroke-width="0.8"/>
<text x="144.37" y="447.90" font-size="11.0" textLength="30.43" lengthAdjust="spacingAndGlyphs" fill="#1a1a1a">0.585</text>
<line x1="192.04" y1="434.4" x2="192.04" y2="437.4" stroke="#333" stroke-width="0.8"/>
<text x="176.81" y="447.90" font-size="11.0" textLength="30.43" lengthAdjust="spacingAndGlyphs" fill="#1a1a1a">0.720</text>
<line x1="224.48" y1="434.4" x2="224.48" y2="437.4" stroke="#333" stroke-width="0.8"/>
<text x="209.25" y="447.90" font-size="11.0" textLength="30.50" lengthAdjust="spacingAndGlyphs" fill="#1a1a1a">0.739</text>
<line x1="256.92" y1="434.4" x2="256.92" y2="437.4" stroke="#333" stroke-width="0.8"/>
<text x="241.69" y="447.90" font-size="11.0" textLength="30.43" lengthAdjust="spacingAndGlyphs" fill="#1a1a1a">0.745</text>
<line x1="289.36" y1="434.4" x2="289.36" y2="437.4" stroke="#333" stroke-width="0.8"/>
<text x="274.13" y="447.90" font-size="11.0" textLength="30.43" lengthAdjust="spacingAndGlyphs" fill="#1a1a1a">0.755</text>
<line x1="321.80" y1="434.4" x2="321.80" y2="437.4" stroke="#333" stroke-width="0.8"/>
<text x="306.56" y="447.90" font-size="11.0" textLength="30.57" lengthAdjust="spacingAndGlyphs" fill="#1a1a1a">0.767</text>
<line x1="354.24" y1="434.4" x2="354.24" y2="437.4" stroke="#333" stroke-width="0.8"/>
<text x="339.01" y="447.90" font-size="11.0" textLength="30.50" lengthAdjust="spacingAndGlyphs" fill="#1a1a1a">0.779</text>
<line x1="386.68" y1="434.4" x2="386.68" y2="437.4" stroke="#333" stroke-width="0.8"/>
<text x="371.45" y="447.90" font-size="11.0" textLength="30.29" lengthAdjust="spacingAndGlyphs" fill="#1a1a1a">0.904</text>
<line x1="419.12" y1="434.4" x2="419.12" y2="437.4" stroke="#333" stroke-width="0.8"/>
<text x="403.89" y="447.90" font-size="11.0" textLength="30.43" lengthAdjust="spacingAndGlyphs" fill="#1a1a1a">0.925</text>
<line x1="451.56" y1="434.4" x2="451.56" y2="437.4" stroke="#333" stroke-width="0.8"/>
<text x="436.33" y="447.90" font-size="11.0" textLength="30.50" lengthAdjust="spacingAndGlyphs" fill="#1a1a1a">0.929</text>
<line x1="484.00" y1="434.4" x2="484.00" y2="437.4" stroke="#333" stroke-width="0.8"/>
<text x="468.77" y="447.90" font-size="11.0" textLength="30.29" lengthAdjust="spacingAndGlyphs" fill="#1a1a1a">0.934</text>
<line x1="516.44" y1="434.4" x2="516.44" y2="437.4" stroke="#333" stroke-width="0.8"/>
<text x="501.21" y="447.90" font-size="11.0" textLength="30.50" lengthAdjust="spacingAndGlyphs" fill="#1a1a1a">0.938</text>
<line x1="548.88" y1="434.4" x2="548.88" y2="437.4" stroke="#333" stroke-width="0.8"/>
<text x="533.65" y="447.90" font-size="11.0" textLength="30.50" lengthAdjust="spacingAndGlyphs" fill="#1a1a1a">0.953</text>
<line x1="581.32" y1="434.4" x2="581.32" y2="437.4" stroke="#333" stroke-width="0.8"/>
<text x="566.08" y="447.90" font-size="11.0" textLength="30.57" lengthAdjust="spacingAndGlyphs" fill="#1a1a1a">0.961</text>
<line x1="613.76" y1="434.4" x2="613.76" y2="437.4" stroke="#333" stroke-width="0.8"/>
<text x="598.53" y="447.90" font-size="11.0" textLength="30.50" lengthAdjust="spacingAndGlyphs" fill="#1a1a1a">0.963</text>
<line x1="646.20" y1="434.4" x2="646.20" y2="437.4" stroke="#333" stroke-width="0.8"/>
<text x="630.96" y="447.90" font-size="11.0" textLength="30.57" lengthAdjust="spacingAndGlyphs" fill="#1a1a1a">0.972</text>
<text x="78.37" y="447.90" font-size="11.0" textLength="59.79" lengthAdjust="spacingAndGlyphs" fill="#1a1a1a">STOI Input:</text>
<text transform="translate(9.4,350.71) rotate(-90)" x="0" y="0" font-size="11.6" textLength="27.01" lengthAdjust="spacingAndGlyphs" fill="#1a1a1a">STOI</text>
<line x1="45.1" y1="600.30" x2="683.5" y2="600.30" stroke="#c8c8c8" stroke-width="0.7" stroke-dasharray="2.4 1.04"/>
<line x1="45.1" y1="568.30" x2="683.5" y2="568.30" stroke="#c8c8c8" stroke-width="0.7" stroke-dasharray="2.4 1.04"/>
<line x1="45.1" y1="536.30" x2="683.5" y2="536.30" stroke="#c8c8c8" stroke-width="0.7" stroke-dasharray="2.4 1.04"/>
<line x1="45.1" y1="504.30" x2="683.5" y2="504.30" stroke="#c8c8c8" stroke-width="0.7" stroke-dasharray="2.4 1.04"/>
<g clip-path="url(#cp2)">
<rect x="147.44" y="568.20" width="8.11" height="66.10" fill="#aec7e8" fill-opacity="0.7"/>
<clipPath id="hc65"><rect x="147.44" y="568.20" width="8.11" height="64.10"/></clipPath><path clip-path="url(#hc65)" fill="#000" d="M150.10 566.13a1.4 1.4 0 1 0 2.8 0a1.4 1.4 0 1 0 -2.8 0M145.23 575.87a1.4 1.4 0 1 0 2.8 0a1.4 1.4 0 1 0 -2.8 0M154.97 575.87a1.4 1.4 0 1 0 2.8 0a1.4 1.4 0 1 0 -2.8 0M150.10 585.61a1.4 1.4 0 1 0 2.8 0a1.4 1.4 0 1 0 -2.8 0M145.23 595.35a1.4 1.4 0 1 0 2.8 0a1.4 1.4 0 1 0 -2.8 0M154.97 595.35a1.4 1.4 0 1 0 2.8 0a1.4 1.4 0 1 0 -2.8 0M150.10 605.09a1.4 1.4 0 1 0 2.8 0a1.4 1.4 0 1 0 -2.8 0M145.23 614.84a1.4 1.4 0 1 0 2.8 0a1.4 1.4 0 1 0 -2.8 0M154.97 614.84a1.4 1.4 0 1 0 2.8 0a1.4 1.4 0 1 0 -2.8 0M150.10 624.58a1.4 1.4 0 1 0 2.8 0a1.4 1.4 0 1 0 -2.8 0M145.23 634.32a1.4 1.4 0 1 0 2.8 0a1.4 1.4 0 1 0 -2.8 0M154.97 634.32a1.4 1.4 0 1 0 2.8 0a1.4 1.4 0 1 0 -2.8 0"/>
<rect x="147.44" y="568.20" width="8.11" height="66.10" fill="none" stroke="#4d5257" stroke-width="0.8"/>
<rect x="155.54" y="563.40" width="8.11" height="70.90" fill="#ffbb78" fill-opacity="0.7"/>
<rect x="155.54" y="563.40" width="8.11" height="70.90" fill="none" stroke="#4d5257" stroke-width="0.8"/>
<rect x="163.65" y="561.60" width="8.11" height="72.70" fill="#98df8a" fill-opacity="0.7"/>
<clipPath id="hc66"><rect x="163.65" y="561.60" width="8.11" height="70.70"/></clipPath><path clip-path="url(#hc66)" fill="none" stroke="#000" stroke-width="0.9" d="M159.14 566.13a2.1 2.1 0 1 0 4.2 0a2.1 2.1 0 1 0 -4.2 0M168.89 566.13a2.1 2.1 0 1 0 4.2 0a2.1 2.1 0 1 0 -4.2 0M164.01 575.87a2.1 2.1 0 1 0 4.2 0a2.1 2.1 0 1 0 -4.2 0M159.14 585.61a2.1 2.1 0 1 0 4.2 0a2.1 2.1 0 1 0 -4.2 0M168.89 585.61a2.1 2.1 0 1 0 4.2 0a2.1 2.1 0 1 0 -4.2 0M164.01 595.35a2.1 2.1 0 1 0 4.2 0a2.1 2.1 0 1 0 -4.2 0M159.14 605.09a2.1 2.1 0 1 0 4.2 0a2.1 2.1 0 1 0 -4.2 0M168.89 605.09a2.1 2.1 0 1 0 4.2 0a2.1 2.1 0 1 0 -4.2 0M164.01 614.84a2.1 2.1 0 1 0 4.2 0a2.1 2.1 0 1 0 -4.2 0M159.14 624.58a2.1 2.1 0 1 0 4.2 0a2.1 2.1 0 1 0 -4.2 0M168.89 624.58a2.1 2.1 0 1 0 4.2 0a2.1 2.1 0 1 0 -4.2 0M164.01 634.32a2.1 2.1 0 1 0 4.2 0a2.1 2.1 0 1 0 -4.2 0"/>
<rect x="163.65" y="561.60" width="8.11" height="72.70" fill="none" stroke="#4d5257" stroke-width="0.8"/>
<rect x="179.88" y="573.20" width="8.11" height="61.10" fill="#aec7e8" fill-opacity="0.7"/>
<clipPath id="hc67"><rect x="179.88" y="573.20" width="8.11" height="59.10"/></clipPath><path clip-path="url(#hc67)" fill="#000" d="M184.20 575.87a1.4 1.4 0 1 0 2.8 0a1.4 1.4 0 1 0 -2.8 0M179.33 585.61a1.4 1.4 0 1 0 2.8 0a1.4 1.4 0 1 0 -2.8 0M184.20 595.35a1.4 1.4 0 1 0 2.8 0a1.4 1.4 0 1 0 -2.8 0M179.33 605.09a1.4 1.4 0 1 0 2.8 0a1.4 1.4 0 1 0 -2.8 0M184.20 614.84a1.4 1.4 0 1 0 2.8 0a1.4 1.4 0 1 0 -2.8 0M179.33 624.58a1.4 1.4 0 1 0 2.8 0a1.4 1.4 0 1 0 -2.8 0M184.20 634.32a1.4 1.4 0 1 0 2.8 0a1.4 1.4 0 1 0 -2.8 0"/>
<rect x="179.88" y="573.20" width="8.11" height="61.10" fill="none" stroke="#4d5257" stroke-width="0.8"/>
<rect x="187.98" y="563.40" width="8.11" height="70.90" fill="#ffbb78" fill-opacity="0.7"/>
<rect x="187.98" y="563.40" width="8.11" height="70.90" fill="none" stroke="#4d5257" stroke-width="0.8"/>
<rect x="196.09" y="560.10" width="8.11" height="74.20" fill="#98df8a" fill-opacity="0.7"/>
<clipPath id="hc68"><rect x="196.09" y="560.10" width="8.11" height="72.20"/></clipPath><path clip-path="url(#hc68)" fill="none" stroke="#000" stroke-width="0.9" d="M198.11 566.13a2.1 2.1 0 1 0 4.2 0a2.1 2.1 0 1 0 -4.2 0M193.24 575.87a2.1 2.1 0 1 0 4.2 0a2.1 2.1 0 1 0 -4.2 0M202.98 575.87a2.1 2.1 0 1 0 4.2 0a2.1 2.1 0 1 0 -4.2 0M198.11 585.61a2.1 2.1 0 1 0 4.2 0a2.1 2.1 0 1 0 -4.2 0M193.24 595.35a2.1 2.1 0 1 0 4.2 0a2.1 2.1 0 1 0 -4.2 0M202.98 595.35a2.1 2.1 0 1 0 4.2 0a2.1 2.1 0 1 0 -4.2 0M198.11 605.09a2.1 2.1 0 1 0 4.2 0a2.1 2.1 0 1 0 -4.2 0M193.24 614.84a2.1 2.1 0 1 0 4.2 0a2.1 2.1 0 1 0 -4.2 0M202.98 614.84a2.1 2.1 0 1 0 4.2 0a2.1 2.1 0 1 0 -4.2 0M198.11 624.58a2.1 2.1 0 1 0 4.2 0a2.1 2.1 0 1 0 -4.2 0M193.24 634.32a2.1 2.1 0 1 0 4.2 0a2.1 2.1 0 1 0 -4.2 0M202.98 634.32a2.1 2.1 0 1 0 4.2 0a2.1 2.1 0 1 0 -4.2 0"/>
<rect x="196.09" y="560.10" width="8.11" height="74.20" fill="none" stroke="#4d5257" stroke-width="0.8"/>
<rect x="212.31" y="547.10" width="8.11" height="87.20" fill="#aec7e8" fill-opacity="0.7"/>
<clipPath id="hc69"><rect x="212.31" y="547.10" width="8.11" height="85.20"/></clipPath><path clip-path="url(#hc69)" fill="#000" d="M208.55 546.64a1.4 1.4 0 1 0 2.8 0a1.4 1.4 0 1 0 -2.8 0M218.30 546.64a1.4 1.4 0 1 0 2.8 0a1.4 1.4 0 1 0 -2.8 0M213.42 556.38a1.4 1.4 0 1 0 2.8 0a1.4 1.4 0 1 0 -2.8 0M208.55 566.13a1.4 1.4 0 1 0 2.8 0a1.4 1.4 0 1 0 -2.8 0M218.30 566.13a1.4 1.4 0 1 0 2.8 0a1.4 1.4 0 1 0 -2.8 0M213.42 575.87a1.4 1.4 0 1 0 2.8 0a1.4 1.4 0 1 0 -2.8 0M208.55 585.61a1.4 1.4 0 1 0 2.8 0a1.4 1.4 0 1 0 -2.8 0M218.30 585.61a1.4 1.4 0 1 0 2.8 0a1.4 1.4 0 1 0 -2.8 0M213.42 595.35a1.4 1.4 0 1 0 2.8 0a1.4 1.4 0 1 0 -2.8 0M208.55 605.09a1.4 1.4 0 1 0 2.8 0a1.4 1.4 0 1 0 -2.8 0M218.30 605.09a1.4 1.4 0 1 0 2.8 0a1.4 1.4 0 1 0 -2.8 0M213.42 614.84a1.4 1.4 0 1 0 2.8 0a1.4 1.4 0 1 0 -2.8 0M208.55 624.58a1.4 1.4 0 1 0 2.8 0a1.4 1.4 0 1 0 -2.8 0M218.30 624.58a1.4 1.4 0 1 0 2.8 0a1.4 1.4 0 1 0 -2.8 0M213.42 634.32a1.4 1.4 0 1 0 2.8 0a1.4 1.4 0 1 0 -2.8 0"/>
<rect x="212.31" y="547.10" width="8.11" height="87.20" fill="none" stroke="#4d5257" stroke-width="0.8"/>
<rect x="220.42" y="547.10" width="8.11" height="87.20" fill="#ffbb78" fill-opacity="0.7"/>
<rect x="220.42" y="547.10" width="8.11" height="87.20" fill="none" stroke="#4d5257" stroke-width="0.8"/>
<rect x="228.53" y="545.50" width="8.11" height="88.80" fill="#98df8a" fill-opacity="0.7"/>
<clipPath id="hc70"><rect x="228.53" y="545.50" width="8.11" height="86.80"/></clipPath><path clip-path="url(#hc70)" fill="none" stroke="#000" stroke-width="0.9" d="M227.34 546.64a2.1 2.1 0 1 0 4.2 0a2.1 2.1 0 1 0 -4.2 0M237.08 546.64a2.1 2.1 0 1 0 4.2 0a2.1 2.1 0 1 0 -4.2 0M232.21 556.38a2.1 2.1 0 1 0 4.2 0a2.1 2.1 0 1 0 -4.2 0M227.34 566.13a2.1 2.1 0 1 0 4.2 0a2.1 2.1 0 1 0 -4.2 0M237.08 566.13a2.1 2.1 0 1 0 4.2 0a2.1 2.1 0 1 0 -4.2 0M232.21 575.87a2.1 2.1 0 1 0 4.2 0a2.1 2.1 0 1 0 -4.2 0M227.34 585.61a2.1 2.1 0 1 0 4.2 0a2.1 2.1 0 1 0 -4.2 0M237.08 585.61a2.1 2.1 0 1 0 4.2 0a2.1 2.1 0 1 0 -4.2 0M232.21 595.35a2.1 2.1 0 1 0 4.2 0a2.1 2.1 0 1 0 -4.2 0M227.34 605.09a2.1 2.1 0 1 0 4.2 0a2.1 2.1 0 1 0 -4.2 0M237.08 605.09a2.1 2.1 0 1 0 4.2 0a2.1 2.1 0 1 0 -4.2 0M232.21 614.84a2.1 2.1 0 1 0 4.2 0a2.1 2.1 0 1 0 -4.2 0M227.34 624.58a2.1 2.1 0 1 0 4.2 0a2.1 2.1 0 1 0 -4.2 0M237.08 624.58a2.1 2.1 0 1 0 4.2 0a2.1 2.1 0 1 0 -4.2 0M232.21 634.32a2.1 2.1 0 1 0 4.2 0a2.1 2.1 0 1 0 -4.2 0"/>
<rect x="228.53" y="545.50" width="8.11" height="88.80" fill="none" stroke="#4d5257" stroke-width="0.8"/>
<rect x="244.75" y="574.40" width="8.11" height="59.90" fill="#aec7e8" fill-opacity="0.7"/>
<clipPath id="hc71"><rect x="244.75" y="574.40" width="8.11" height="57.90"/></clipPath><path clip-path="url(#hc71)" fill="#000" d="M242.65 575.87a1.4 1.4 0 1 0 2.8 0a1.4 1.4 0 1 0 -2.8 0M252.39 575.87a1.4 1.4 0 1 0 2.8 0a1.4 1.4 0 1 0 -2.8 0M247.52 585.61a1.4 1.4 0 1 0 2.8 0a1.4 1.4 0 1 0 -2.8 0M242.65 595.35a1.4 1.4 0 1 0 2.8 0a1.4 1.4 0 1 0 -2.8 0M252.39 595.35a1.4 1.4 0 1 0 2.8 0a1.4 1.4 0 1 0 -2.8 0M247.52 605.09a1.4 1.4 0 1 0 2.8 0a1.4 1.4 0 1 0 -2.8 0M242.65 614.84a1.4 1.4 0 1 0 2.8 0a1.4 1.4 0 1 0 -2.8 0M252.39 614.84a1.4 1.4 0 1 0 2.8 0a1.4 1.4 0 1 0 -2.8 0M247.52 624.58a1.4 1.4 0 1 0 2.8 0a1.4 1.4 0 1 0 -2.8 0M242.65 634.32a1.4 1.4 0 1 0 2.8 0a1.4 1.4 0 1 0 -2.8 0M252.39 634.32a1.4 1.4 0 1 0 2.8 0a1.4 1.4 0 1 0 -2.8 0"/>
<rect x="244.75" y="574.40" width="8.11" height="59.90" fill="none" stroke="#4d5257" stroke-width="0.8"/>
<rect x="252.86" y="558.30" width="8.11" height="76.00" fill="#ffbb78" fill-opacity="0.7"/>
<rect x="252.86" y="558.30" width="8.11" height="76.00" fill="none" stroke="#4d5257" stroke-width="0.8"/>
<rect x="260.97" y="556.30" width="8.11" height="78.00" fill="#98df8a" fill-opacity="0.7"/>
<clipPath id="hc72"><rect x="260.97" y="556.30" width="8.11" height="76.00"/></clipPath><path clip-path="url(#hc72)" fill="none" stroke="#000" stroke-width="0.9" d="M261.43 556.38a2.1 2.1 0 1 0 4.2 0a2.1 2.1 0 1 0 -4.2 0M256.56 566.13a2.1 2.1 0 1 0 4.2 0a2.1 2.1 0 1 0 -4.2 0M266.31 566.13a2.1 2.1 0 1 0 4.2 0a2.1 2.1 0 1 0 -4.2 0M261.43 575.87a2.1 2.1 0 1 0 4.2 0a2.1 2.1 0 1 0 -4.2 0M256.56 585.61a2.1 2.1 0 1 0 4.2 0a2.1 2.1 0 1 0 -4.2 0M266.31 585.61a2.1 2.1 0 1 0 4.2 0a2.1 2.1 0 1 0 -4.2 0M261.43 595.35a2.1 2.1 0 1 0 4.2 0a2.1 2.1 0 1 0 -4.2 0M256.56 605.09a2.1 2.1 0 1 0 4.2 0a2.1 2.1 0 1 0 -4.2 0M266.31 605.09a2.1 2.1 0 1 0 4.2 0a2.1 2.1 0 1 0 -4.2 0M261.43 614.84a2.1 2.1 0 1 0 4.2 0a2.1 2.1 0 1 0 -4.2 0M256.56 624.58a2.1 2.1 0 1 0 4.2 0a2.1 2.1 0 1 0 -4.2 0M266.31 624.58a2.1 2.1 0 1 0 4.2 0a2.1 2.1 0 1 0 -4.2 0M261.43 634.32a2.1 2.1 0 1 0 4.2 0a2.1 2.1 0 1 0 -4.2 0"/>
<rect x="260.97" y="556.30" width="8.11" height="78.00" fill="none" stroke="#4d5257" stroke-width="0.8"/>
<rect x="277.19" y="584.40" width="8.11" height="49.90" fill="#aec7e8" fill-opacity="0.7"/>
<clipPath id="hc73"><rect x="277.19" y="584.40" width="8.11" height="47.90"/></clipPath><path clip-path="url(#hc73)" fill="#000" d="M276.75 585.61a1.4 1.4 0 1 0 2.8 0a1.4 1.4 0 1 0 -2.8 0M281.62 595.35a1.4 1.4 0 1 0 2.8 0a1.4 1.4 0 1 0 -2.8 0M276.75 605.09a1.4 1.4 0 1 0 2.8 0a1.4 1.4 0 1 0 -2.8 0M281.62 614.84a1.4 1.4 0 1 0 2.8 0a1.4 1.4 0 1 0 -2.8 0M276.75 624.58a1.4 1.4 0 1 0 2.8 0a1.4 1.4 0 1 0 -2.8 0M281.62 634.32a1.4 1.4 0 1 0 2.8 0a1.4 1.4 0 1 0 -2.8 0"/>
<rect x="277.19" y="584.40" width="8.11" height="49.90" fill="none" stroke="#4d5257" stroke-width="0.8"/>
<rect x="285.31" y="556.90" width="8.11" height="77.40" fill="#ffbb78" fill-opacity="0.7"/>
<rect x="285.31" y="556.90" width="8.11" height="77.40" fill="none" stroke="#4d5257" stroke-width="0.8"/>
<rect x="293.42" y="555.30" width="8.11" height="79.00" fill="#98df8a" fill-opacity="0.7"/>
<clipPath id="hc74"><rect x="293.42" y="555.30" width="8.11" height="77.00"/></clipPath><path clip-path="url(#hc74)" fill="none" stroke="#000" stroke-width="0.9" d="M290.66 556.38a2.1 2.1 0 1 0 4.2 0a2.1 2.1 0 1 0 -4.2 0M300.40 556.38a2.1 2.1 0 1 0 4.2 0a2.1 2.1 0 1 0 -4.2 0M295.53 566.13a2.1 2.1 0 1 0 4.2 0a2.1 2.1 0 1 0 -4.2 0M290.66 575.87a2.1 2.1 0 1 0 4.2 0a2.1 2.1 0 1 0 -4.2 0M300.40 575.87a2.1 2.1 0 1 0 4.2 0a2.1 2.1 0 1 0 -4.2 0M295.53 585.61a2.1 2.1 0 1 0 4.2 0a2.1 2.1 0 1 0 -4.2 0M290.66 595.35a2.1 2.1 0 1 0 4.2 0a2.1 2.1 0 1 0 -4.2 0M300.40 595.35a2.1 2.1 0 1 0 4.2 0a2.1 2.1 0 1 0 -4.2 0M295.53 605.09a2.1 2.1 0 1 0 4.2 0a2.1 2.1 0 1 0 -4.2 0M290.66 614.84a2.1 2.1 0 1 0 4.2 0a2.1 2.1 0 1 0 -4.2 0M300.40 614.84a2.1 2.1 0 1 0 4.2 0a2.1 2.1 0 1 0 -4.2 0M295.53 624.58a2.1 2.1 0 1 0 4.2 0a2.1 2.1 0 1 0 -4.2 0M290.66 634.32a2.1 2.1 0 1 0 4.2 0a2.1 2.1 0 1 0 -4.2 0M300.40 634.32a2.1 2.1 0 1 0 4.2 0a2.1 2.1 0 1 0 -4.2 0"/>
<rect x="293.42" y="555.30" width="8.11" height="79.00" fill="none" stroke="#4d5257" stroke-width="0.8"/>
<rect x="309.63" y="545.60" width="8.11" height="88.70" fill="#aec7e8" fill-opacity="0.7"/>
<clipPath id="hc75"><rect x="309.63" y="545.60" width="8.11" height="86.70"/></clipPath><path clip-path="url(#hc75)" fill="#000" d="M305.97 546.64a1.4 1.4 0 1 0 2.8 0a1.4 1.4 0 1 0 -2.8 0M315.72 546.64a1.4 1.4 0 1 0 2.8 0a1.4 1.4 0 1 0 -2.8 0M310.84 556.38a1.4 1.4 0 1 0 2.8 0a1.4 1.4 0 1 0 -2.8 0M305.97 566.13a1.4 1.4 0 1 0 2.8 0a1.4 1.4 0 1 0 -2.8 0M315.72 566.13a1.4 1.4 0 1 0 2.8 0a1.4 1.4 0 1 0 -2.8 0M310.84 575.87a1.4 1.4 0 1 0 2.8 0a1.4 1.4 0 1 0 -2.8 0M305.97 585.61a1.4 1.4 0 1 0 2.8 0a1.4 1.4 0 1 0 -2.8 0M315.72 585.61a1.4 1.4 0 1 0 2.8 0a1.4 1.4 0 1 0 -2.8 0M310.84 595.35a1.4 1.4 0 1 0 2.8 0a1.4 1.4 0 1 0 -2.8 0M305.97 605.09a1.4 1.4 0 1 0 2.8 0a1.4 1.4 0 1 0 -2.8 0M315.72 605.09a1.4 1.4 0 1 0 2.8 0a1.4 1.4 0 1 0 -2.8 0M310.84 614.84a1.4 1.4 0 1 0 2.8 0a1.4 1.4 0 1 0 -2.8 0M305.97 624.58a1.4 1.4 0 1 0 2.8 0a1.4 1.4 0 1 0 -2.8 0M315.72 624.58a1.4 1.4 0 1 0 2.8 0a1.4 1.4 0 1 0 -2.8 0M310.84 634.32a1.4 1.4 0 1 0 2.8 0a1.4 1.4 0 1 0 -2.8 0"/>
<rect x="309.63" y="545.60" width="8.11" height="88.70" fill="none" stroke="#4d5257" stroke-width="0.8"/>
<rect x="317.74" y="545.60" width="8.11" height="88.70" fill="#ffbb78" fill-opacity="0.7"/>
<rect x="317.74" y="545.60" width="8.11" height="88.70" fill="none" stroke="#4d5257" stroke-width="0.8"/>
<rect x="325.85" y="542.40" width="8.11" height="91.90" fill="#98df8a" fill-opacity="0.7"/>
<clipPath id="hc76"><rect x="325.85" y="542.40" width="8.11" height="89.90"/></clipPath><path clip-path="url(#hc76)" fill="none" stroke="#000" stroke-width="0.9" d="M324.76 546.64a2.1 2.1 0 1 0 4.2 0a2.1 2.1 0 1 0 -4.2 0M334.50 546.64a2.1 2.1 0 1 0 4.2 0a2.1 2.1 0 1 0 -4.2 0M329.63 556.38a2.1 2.1 0 1 0 4.2 0a2.1 2.1 0 1 0 -4.2 0M324.76 566.13a2.1 2.1 0 1 0 4.2 0a2.1 2.1 0 1 0 -4.2 0M334.50 566.13a2.1 2.1 0 1 0 4.2 0a2.1 2.1 0 1 0 -4.2 0M329.63 575.87a2.1 2.1 0 1 0 4.2 0a2.1 2.1 0 1 0 -4.2 0M324.76 585.61a2.1 2.1 0 1 0 4.2 0a2.1 2.1 0 1 0 -4.2 0M334.50 585.61a2.1 2.1 0 1 0 4.2 0a2.1 2.1 0 1 0 -4.2 0M329.63 595.35a2.1 2.1 0 1 0 4.2 0a2.1 2.1 0 1 0 -4.2 0M324.76 605.09a2.1 2.1 0 1 0 4.2 0a2.1 2.1 0 1 0 -4.2 0M334.50 605.09a2.1 2.1 0 1 0 4.2 0a2.1 2.1 0 1 0 -4.2 0M329.63 614.84a2.1 2.1 0 1 0 4.2 0a2.1 2.1 0 1 0 -4.2 0M324.76 624.58a2.1 2.1 0 1 0 4.2 0a2.1 2.1 0 1 0 -4.2 0M334.50 624.58a2.1 2.1 0 1 0 4.2 0a2.1 2.1 0 1 0 -4.2 0M329.63 634.32a2.1 2.1 0 1 0 4.2 0a2.1 2.1 0 1 0 -4.2 0"/>
<rect x="325.85" y="542.40" width="8.11" height="91.90" fill="none" stroke="#4d5257" stroke-width="0.8"/>
<rect x="342.07" y="545.60" width="8.11" height="88.70" fill="#aec7e8" fill-opacity="0.7"/>
<clipPath id="hc77"><rect x="342.07" y="545.60" width="8.11" height="86.70"/></clipPath><path clip-path="url(#hc77)" fill="#000" d="M344.94 546.64a1.4 1.4 0 1 0 2.8 0a1.4 1.4 0 1 0 -2.8 0M340.07 556.38a1.4 1.4 0 1 0 2.8 0a1.4 1.4 0 1 0 -2.8 0M349.81 556.38a1.4 1.4 0 1 0 2.8 0a1.4 1.4 0 1 0 -2.8 0M344.94 566.13a1.4 1.4 0 1 0 2.8 0a1.4 1.4 0 1 0 -2.8 0M340.07 575.87a1.4 1.4 0 1 0 2.8 0a1.4 1.4 0 1 0 -2.8 0M349.81 575.87a1.4 1.4 0 1 0 2.8 0a1.4 1.4 0 1 0 -2.8 0M344.94 585.61a1.4 1.4 0 1 0 2.8 0a1.4 1.4 0 1 0 -2.8 0M340.07 595.35a1.4 1.4 0 1 0 2.8 0a1.4 1.4 0 1 0 -2.8 0M349.81 595.35a1.4 1.4 0 1 0 2.8 0a1.4 1.4 0 1 0 -2.8 0M344.94 605.09a1.4 1.4 0 1 0 2.8 0a1.4 1.4 0 1 0 -2.8 0M340.07 614.84a1.4 1.4 0 1 0 2.8 0a1.4 1.4 0 1 0 -2.8 0M349.81 614.84a1.4 1.4 0 1 0 2.8 0a1.4 1.4 0 1 0 -2.8 0M344.94 624.58a1.4 1.4 0 1 0 2.8 0a1.4 1.4 0 1 0 -2.8 0M340.07 634.32a1.4 1.4 0 1 0 2.8 0a1.4 1.4 0 1 0 -2.8 0M349.81 634.32a1.4 1.4 0 1 0 2.8 0a1.4 1.4 0 1 0 -2.8 0"/>
<rect x="342.07" y="545.60" width="8.11" height="88.70" fill="none" stroke="#4d5257" stroke-width="0.8"/>
<rect x="350.19" y="545.60" width="8.11" height="88.70" fill="#ffbb78" fill-opacity="0.7"/>
<rect x="350.19" y="545.60" width="8.11" height="88.70" fill="none" stroke="#4d5257" stroke-width="0.8"/>
<rect x="358.30" y="544.40" width="8.11" height="89.90" fill="#98df8a" fill-opacity="0.7"/>
<clipPath id="hc78"><rect x="358.30" y="544.40" width="8.11" height="87.90"/></clipPath><path clip-path="url(#hc78)" fill="none" stroke="#000" stroke-width="0.9" d="M353.98 546.64a2.1 2.1 0 1 0 4.2 0a2.1 2.1 0 1 0 -4.2 0M363.72 546.64a2.1 2.1 0 1 0 4.2 0a2.1 2.1 0 1 0 -4.2 0M358.85 556.38a2.1 2.1 0 1 0 4.2 0a2.1 2.1 0 1 0 -4.2 0M353.98 566.13a2.1 2.1 0 1 0 4.2 0a2.1 2.1 0 1 0 -4.2 0M363.72 566.13a2.1 2.1 0 1 0 4.2 0a2.1 2.1 0 1 0 -4.2 0M358.85 575.87a2.1 2.1 0 1 0 4.2 0a2.1 2.1 0 1 0 -4.2 0M353.98 585.61a2.1 2.1 0 1 0 4.2 0a2.1 2.1 0 1 0 -4.2 0M363.72 585.61a2.1 2.1 0 1 0 4.2 0a2.1 2.1 0 1 0 -4.2 0M358.85 595.35a2.1 2.1 0 1 0 4.2 0a2.1 2.1 0 1 0 -4.2 0M353.98 605.09a2.1 2.1 0 1 0 4.2 0a2.1 2.1 0 1 0 -4.2 0M363.72 605.09a2.1 2.1 0 1 0 4.2 0a2.1 2.1 0 1 0 -4.2 0M358.85 614.84a2.1 2.1 0 1 0 4.2 0a2.1 2.1 0 1 0 -4.2 0M353.98 624.58a2.1 2.1 0 1 0 4.2 0a2.1 2.1 0 1 0 -4.2 0M363.72 624.58a2.1 2.1 0 1 0 4.2 0a2.1 2.1 0 1 0 -4.2 0M358.85 634.32a2.1 2.1 0 1 0 4.2 0a2.1 2.1 0 1 0 -4.2 0"/>
<rect x="358.30" y="544.40" width="8.11" height="89.90" fill="none" stroke="#4d5257" stroke-width="0.8"/>
<rect x="374.51" y="520.40" width="8.11" height="113.90" fill="#aec7e8" fill-opacity="0.7"/>
<clipPath id="hc79"><rect x="374.51" y="520.40" width="8.11" height="111.90"/></clipPath><path clip-path="url(#hc79)" fill="#000" d="M374.17 527.16a1.4 1.4 0 1 0 2.8 0a1.4 1.4 0 1 0 -2.8 0M379.04 536.90a1.4 1.4 0 1 0 2.8 0a1.4 1.4 0 1 0 -2.8 0M374.17 546.64a1.4 1.4 0 1 0 2.8 0a1.4 1.4 0 1 0 -2.8 0M379.04 556.38a1.4 1.4 0 1 0 2.8 0a1.4 1.4 0 1 0 -2.8 0M374.17 566.13a1.4 1.4 0 1 0 2.8 0a1.4 1.4 0 1 0 -2.8 0M379.04 575.87a1.4 1.4 0 1 0 2.8 0a1.4 1.4 0 1 0 -2.8 0M374.17 585.61a1.4 1.4 0 1 0 2.8 0a1.4 1.4 0 1 0 -2.8 0M379.04 595.35a1.4 1.4 0 1 0 2.8 0a1.4 1.4 0 1 0 -2.8 0M374.17 605.09a1.4 1.4 0 1 0 2.8 0a1.4 1.4 0 1 0 -2.8 0M379.04 614.84a1.4 1.4 0 1 0 2.8 0a1.4 1.4 0 1 0 -2.8 0M374.17 624.58a1.4 1.4 0 1 0 2.8 0a1.4 1.4 0 1 0 -2.8 0M379.04 634.32a1.4 1.4 0 1 0 2.8 0a1.4 1.4 0 1 0 -2.8 0"/>
<rect x="374.51" y="520.40" width="8.11" height="113.90" fill="none" stroke="#4d5257" stroke-width="0.8"/>
<rect x="382.62" y="537.40" width="8.11" height="96.90" fill="#ffbb78" fill-opacity="0.7"/>
<rect x="382.62" y="537.40" width="8.11" height="96.90" fill="none" stroke="#4d5257" stroke-width="0.8"/>
<rect x="390.73" y="520.40" width="8.11" height="113.90" fill="#98df8a" fill-opacity="0.7"/>
<clipPath id="hc80"><rect x="390.73" y="520.40" width="8.11" height="111.90"/></clipPath><path clip-path="url(#hc80)" fill="none" stroke="#000" stroke-width="0.9" d="M388.08 517.42a2.1 2.1 0 1 0 4.2 0a2.1 2.1 0 1 0 -4.2 0M397.82 517.42a2.1 2.1 0 1 0 4.2 0a2.1 2.1 0 1 0 -4.2 0M392.95 527.16a2.1 2.1 0 1 0 4.2 0a2.1 2.1 0 1 0 -4.2 0M388.08 536.90a2.1 2.1 0 1 0 4.2 0a2.1 2.1 0 1 0 -4.2 0M397.82 536.90a2.1 2.1 0 1 0 4.2 0a2.1 2.1 0 1 0 -4.2 0M392.95 546.64a2.1 2.1 0 1 0 4.2 0a2.1 2.1 0 1 0 -4.2 0M388.08 556.38a2.1 2.1 0 1 0 4.2 0a2.1 2.1 0 1 0 -4.2 0M397.82 556.38a2.1 2.1 0 1 0 4.2 0a2.1 2.1 0 1 0 -4.2 0M392.95 566.13a2.1 2.1 0 1 0 4.2 0a2.1 2.1 0 1 0 -4.2 0M388.08 575.87a2.1 2.1 0 1 0 4.2 0a2.1 2.1 0 1 0 -4.2 0M397.82 575.87a2.1 2.1 0 1 0 4.2 0a2.1 2.1 0 1 0 -4.2 0M392.95 585.61a2.1 2.1 0 1 0 4.2 0a2.1 2.1 0 1 0 -4.2 0M388.08 595.35a2.1 2.1 0 1 0 4.2 0a2.1 2.1 0 1 0 -4.2 0M397.82 595.35a2.1 2.1 0 1 0 4.2 0a2.1 2.1 0 1 0 -4.2 0M392.95 605.09a2.1 2.1 0 1 0 4.2 0a2.1 2.1 0 1 0 -4.2 0M388.08 614.84a2.1 2.1 0 1 0 4.2 0a2.1 2.1 0 1 0 -4.2 0M397.82 614.84a2.1 2.1 0 1 0 4.2 0a2.1 2.1 0 1 0 -4.2 0M392.95 624.58a2.1 2.1 0 1 0 4.2 0a2.1 2.1 0 1 0 -4.2 0M388.08 634.32a2.1 2.1 0 1 0 4.2 0a2.1 2.1 0 1 0 -4.2 0M397.82 634.32a2.1 2.1 0 1 0 4.2 0a2.1 2.1 0 1 0 -4.2 0"/>
<rect x="390.73" y="520.40" width="8.11" height="113.90" fill="none" stroke="#4d5257" stroke-width="0.8"/>
<rect x="406.95" y="521.80" width="8.11" height="112.50" fill="#aec7e8" fill-opacity="0.7"/>
<clipPath id="hc81"><rect x="406.95" y="521.80" width="8.11" height="110.50"/></clipPath><path clip-path="url(#hc81)" fill="#000" d="M403.39 527.16a1.4 1.4 0 1 0 2.8 0a1.4 1.4 0 1 0 -2.8 0M413.14 527.16a1.4 1.4 0 1 0 2.8 0a1.4 1.4 0 1 0 -2.8 0M408.26 536.90a1.4 1.4 0 1 0 2.8 0a1.4 1.4 0 1 0 -2.8 0M403.39 546.64a1.4 1.4 0 1 0 2.8 0a1.4 1.4 0 1 0 -2.8 0M413.14 546.64a1.4 1.4 0 1 0 2.8 0a1.4 1.4 0 1 0 -2.8 0M408.26 556.38a1.4 1.4 0 1 0 2.8 0a1.4 1.4 0 1 0 -2.8 0M403.39 566.13a1.4 1.4 0 1 0 2.8 0a1.4 1.4 0 1 0 -2.8 0M413.14 566.13a1.4 1.4 0 1 0 2.8 0a1.4 1.4 0 1 0 -2.8 0M408.26 575.87a1.4 1.4 0 1 0 2.8 0a1.4 1.4 0 1 0 -2.8 0M403.39 585.61a1.4 1.4 0 1 0 2.8 0a1.4 1.4 0 1 0 -2.8 0M413.14 585.61a1.4 1.4 0 1 0 2.8 0a1.4 1.4 0 1 0 -2.8 0M408.26 595.35a1.4 1.4 0 1 0 2.8 0a1.4 1.4 0 1 0 -2.8 0M403.39 605.09a1.4 1.4 0 1 0 2.8 0a1.4 1.4 0 1 0 -2.8 0M413.14 605.09a1.4 1.4 0 1 0 2.8 0a1.4 1.4 0 1 0 -2.8 0M408.26 614.84a1.4 1.4 0 1 0 2.8 0a1.4 1.4 0 1 0 -2.8 0M403.39 624.58a1.4 1.4 0 1 0 2.8 0a1.4 1.4 0 1 0 -2.8 0M413.14 624.58a1.4 1.4 0 1 0 2.8 0a1.4 1.4 0 1 0 -2.8 0M408.26 634.32a1.4 1.4 0 1 0 2.8 0a1.4 1.4 0 1 0 -2.8 0"/>
<rect x="406.95" y="521.80" width="8.11" height="112.50" fill="none" stroke="#4d5257" stroke-width="0.8"/>
<rect x="415.06" y="541.00" width="8.11" height="93.30" fill="#ffbb78" fill-opacity="0.7"/>
<rect x="415.06" y="541.00" width="8.11" height="93.30" fill="none" stroke="#4d5257" stroke-width="0.8"/>
<rect x="423.18" y="520.40" width="8.11" height="113.90" fill="#98df8a" fill-opacity="0.7"/>
<clipPath id="hc82"><rect x="423.18" y="520.40" width="8.11" height="111.90"/></clipPath><path clip-path="url(#hc82)" fill="none" stroke="#000" stroke-width="0.9" d="M427.05 517.42a2.1 2.1 0 1 0 4.2 0a2.1 2.1 0 1 0 -4.2 0M422.18 527.16a2.1 2.1 0 1 0 4.2 0a2.1 2.1 0 1 0 -4.2 0M431.92 527.16a2.1 2.1 0 1 0 4.2 0a2.1 2.1 0 1 0 -4.2 0M427.05 536.90a2.1 2.1 0 1 0 4.2 0a2.1 2.1 0 1 0 -4.2 0M422.18 546.64a2.1 2.1 0 1 0 4.2 0a2.1 2.1 0 1 0 -4.2 0M431.92 546.64a2.1 2.1 0 1 0 4.2 0a2.1 2.1 0 1 0 -4.2 0M427.05 556.38a2.1 2.1 0 1 0 4.2 0a2.1 2.1 0 1 0 -4.2 0M422.18 566.13a2.1 2.1 0 1 0 4.2 0a2.1 2.1 0 1 0 -4.2 0M431.92 566.13a2.1 2.1 0 1 0 4.2 0a2.1 2.1 0 1 0 -4.2 0M427.05 575.87a2.1 2.1 0 1 0 4.2 0a2.1 2.1 0 1 0 -4.2 0M422.18 585.61a2.1 2.1 0 1 0 4.2 0a2.1 2.1 0 1 0 -4.2 0M431.92 585.61a2.1 2.1 0 1 0 4.2 0a2.1 2.1 0 1 0 -4.2 0M427.05 595.35a2.1 2.1 0 1 0 4.2 0a2.1 2.1 0 1 0 -4.2 0M422.18 605.09a2.1 2.1 0 1 0 4.2 0a2.1 2.1 0 1 0 -4.2 0M431.92 605.09a2.1 2.1 0 1 0 4.2 0a2.1 2.1 0 1 0 -4.2 0M427.05 614.84a2.1 2.1 0 1 0 4.2 0a2.1 2.1 0 1 0 -4.2 0M422.18 624.58a2.1 2.1 0 1 0 4.2 0a2.1 2.1 0 1 0 -4.2 0M431.92 624.58a2.1 2.1 0 1 0 4.2 0a2.1 2.1 0 1 0 -4.2 0M427.05 634.32a2.1 2.1 0 1 0 4.2 0a2.1 2.1 0 1 0 -4.2 0"/>
<rect x="423.18" y="520.40" width="8.11" height="113.90" fill="none" stroke="#4d5257" stroke-width="0.8"/>
<rect x="439.39" y="521.80" width="8.11" height="112.50" fill="#aec7e8" fill-opacity="0.7"/>
<clipPath id="hc83"><rect x="439.39" y="521.80" width="8.11" height="110.50"/></clipPath><path clip-path="url(#hc83)" fill="#000" d="M442.36 527.16a1.4 1.4 0 1 0 2.8 0a1.4 1.4 0 1 0 -2.8 0M437.49 536.90a1.4 1.4 0 1 0 2.8 0a1.4 1.4 0 1 0 -2.8 0M447.23 536.90a1.4 1.4 0 1 0 2.8 0a1.4 1.4 0 1 0 -2.8 0M442.36 546.64a1.4 1.4 0 1 0 2.8 0a1.4 1.4 0 1 0 -2.8 0M437.49 556.38a1.4 1.4 0 1 0 2.8 0a1.4 1.4 0 1 0 -2.8 0M447.23 556.38a1.4 1.4 0 1 0 2.8 0a1.4 1.4 0 1 0 -2.8 0M442.36 566.13a1.4 1.4 0 1 0 2.8 0a1.4 1.4 0 1 0 -2.8 0M437.49 575.87a1.4 1.4 0 1 0 2.8 0a1.4 1.4 0 1 0 -2.8 0M447.23 575.87a1.4 1.4 0 1 0 2.8 0a1.4 1.4 0 1 0 -2.8 0M442.36 585.61a1.4 1.4 0 1 0 2.8 0a1.4 1.4 0 1 0 -2.8 0M437.49 595.35a1.4 1.4 0 1 0 2.8 0a1.4 1.4 0 1 0 -2.8 0M447.23 595.35a1.4 1.4 0 1 0 2.8 0a1.4 1.4 0 1 0 -2.8 0M442.36 605.09a1.4 1.4 0 1 0 2.8 0a1.4 1.4 0 1 0 -2.8 0M437.49 614.84a1.4 1.4 0 1 0 2.8 0a1.4 1.4 0 1 0 -2.8 0M447.23 614.84a1.4 1.4 0 1 0 2.8 0a1.4 1.4 0 1 0 -2.8 0M442.36 624.58a1.4 1.4 0 1 0 2.8 0a1.4 1.4 0 1 0 -2.8 0M437.49 634.32a1.4 1.4 0 1 0 2.8 0a1.4 1.4 0 1 0 -2.8 0M447.23 634.32a1.4 1.4 0 1 0 2.8 0a1.4 1.4 0 1 0 -2.8 0"/>
<rect x="439.39" y="521.80" width="8.11" height="112.50" fill="none" stroke="#4d5257" stroke-width="0.8"/>
<rect x="447.50" y="537.90" width="8.11" height="96.40" fill="#ffbb78" fill-opacity="0.7"/>
<rect x="447.50" y="537.90" width="8.11" height="96.40" fill="none" stroke="#4d5257" stroke-width="0.8"/>
<rect x="455.61" y="518.50" width="8.11" height="115.80" fill="#98df8a" fill-opacity="0.7"/>
<clipPath id="hc84"><rect x="455.61" y="518.50" width="8.11" height="113.80"/></clipPath><path clip-path="url(#hc84)" fill="none" stroke="#000" stroke-width="0.9" d="M456.27 517.42a2.1 2.1 0 1 0 4.2 0a2.1 2.1 0 1 0 -4.2 0M451.40 527.16a2.1 2.1 0 1 0 4.2 0a2.1 2.1 0 1 0 -4.2 0M461.14 527.16a2.1 2.1 0 1 0 4.2 0a2.1 2.1 0 1 0 -4.2 0M456.27 536.90a2.1 2.1 0 1 0 4.2 0a2.1 2.1 0 1 0 -4.2 0M451.40 546.64a2.1 2.1 0 1 0 4.2 0a2.1 2.1 0 1 0 -4.2 0M461.14 546.64a2.1 2.1 0 1 0 4.2 0a2.1 2.1 0 1 0 -4.2 0M456.27 556.38a2.1 2.1 0 1 0 4.2 0a2.1 2.1 0 1 0 -4.2 0M451.40 566.13a2.1 2.1 0 1 0 4.2 0a2.1 2.1 0 1 0 -4.2 0M461.14 566.13a2.1 2.1 0 1 0 4.2 0a2.1 2.1 0 1 0 -4.2 0M456.27 575.87a2.1 2.1 0 1 0 4.2 0a2.1 2.1 0 1 0 -4.2 0M451.40 585.61a2.1 2.1 0 1 0 4.2 0a2.1 2.1 0 1 0 -4.2 0M461.14 585.61a2.1 2.1 0 1 0 4.2 0a2.1 2.1 0 1 0 -4.2 0M456.27 595.35a2.1 2.1 0 1 0 4.2 0a2.1 2.1 0 1 0 -4.2 0M451.40 605.09a2.1 2.1 0 1 0 4.2 0a2.1 2.1 0 1 0 -4.2 0M461.14 605.09a2.1 2.1 0 1 0 4.2 0a2.1 2.1 0 1 0 -4.2 0M456.27 614.84a2.1 2.1 0 1 0 4.2 0a2.1 2.1 0 1 0 -4.2 0M451.40 624.58a2.1 2.1 0 1 0 4.2 0a2.1 2.1 0 1 0 -4.2 0M461.14 624.58a2.1 2.1 0 1 0 4.2 0a2.1 2.1 0 1 0 -4.2 0M456.27 634.32a2.1 2.1 0 1 0 4.2 0a2.1 2.1 0 1 0 -4.2 0"/>
<rect x="455.61" y="518.50" width="8.11" height="115.80" fill="none" stroke="#4d5257" stroke-width="0.8"/>
<rect x="471.83" y="515.30" width="8.11" height="119.00" fill="#aec7e8" fill-opacity="0.7"/>
<clipPath id="hc85"><rect x="471.83" y="515.30" width="8.11" height="117.00"/></clipPath><path clip-path="url(#hc85)" fill="#000" d="M476.46 517.42a1.4 1.4 0 1 0 2.8 0a1.4 1.4 0 1 0 -2.8 0M471.59 527.16a1.4 1.4 0 1 0 2.8 0a1.4 1.4 0 1 0 -2.8 0M476.46 536.90a1.4 1.4 0 1 0 2.8 0a1.4 1.4 0 1 0 -2.8 0M471.59 546.64a1.4 1.4 0 1 0 2.8 0a1.4 1.4 0 1 0 -2.8 0M476.46 556.38a1.4 1.4 0 1 0 2.8 0a1.4 1.4 0 1 0 -2.8 0M471.59 566.13a1.4 1.4 0 1 0 2.8 0a1.4 1.4 0 1 0 -2.8 0M476.46 575.87a1.4 1.4 0 1 0 2.8 0a1.4 1.4 0 1 0 -2.8 0M471.59 585.61a1.4 1.4 0 1 0 2.8 0a1.4 1.4 0 1 0 -2.8 0M476.46 595.35a1.4 1.4 0 1 0 2.8 0a1.4 1.4 0 1 0 -2.8 0M471.59 605.09a1.4 1.4 0 1 0 2.8 0a1.4 1.4 0 1 0 -2.8 0M476.46 614.84a1.4 1.4 0 1 0 2.8 0a1.4 1.4 0 1 0 -2.8 0M471.59 624.58a1.4 1.4 0 1 0 2.8 0a1.4 1.4 0 1 0 -2.8 0M476.46 634.32a1.4 1.4 0 1 0 2.8 0a1.4 1.4 0 1 0 -2.8 0"/>
<rect x="471.83" y="515.30" width="8.11" height="119.00" fill="none" stroke="#4d5257" stroke-width="0.8"/>
<rect x="479.94" y="534.80" width="8.11" height="99.50" fill="#ffbb78" fill-opacity="0.7"/>
<rect x="479.94" y="534.80" width="8.11" height="99.50" fill="none" stroke="#4d5257" stroke-width="0.8"/>
<rect x="488.06" y="515.30" width="8.11" height="119.00" fill="#98df8a" fill-opacity="0.7"/>
<clipPath id="hc86"><rect x="488.06" y="515.30" width="8.11" height="117.00"/></clipPath><path clip-path="url(#hc86)" fill="none" stroke="#000" stroke-width="0.9" d="M485.50 517.42a2.1 2.1 0 1 0 4.2 0a2.1 2.1 0 1 0 -4.2 0M495.24 517.42a2.1 2.1 0 1 0 4.2 0a2.1 2.1 0 1 0 -4.2 0M490.37 527.16a2.1 2.1 0 1 0 4.2 0a2.1 2.1 0 1 0 -4.2 0M485.50 536.90a2.1 2.1 0 1 0 4.2 0a2.1 2.1 0 1 0 -4.2 0M495.24 536.90a2.1 2.1 0 1 0 4.2 0a2.1 2.1 0 1 0 -4.2 0M490.37 546.64a2.1 2.1 0 1 0 4.2 0a2.1 2.1 0 1 0 -4.2 0M485.50 556.38a2.1 2.1 0 1 0 4.2 0a2.1 2.1 0 1 0 -4.2 0M495.24 556.38a2.1 2.1 0 1 0 4.2 0a2.1 2.1 0 1 0 -4.2 0M490.37 566.13a2.1 2.1 0 1 0 4.2 0a2.1 2.1 0 1 0 -4.2 0M485.50 575.87a2.1 2.1 0 1 0 4.2 0a2.1 2.1 0 1 0 -4.2 0M495.24 575.87a2.1 2.1 0 1 0 4.2 0a2.1 2.1 0 1 0 -4.2 0M490.37 585.61a2.1 2.1 0 1 0 4.2 0a2.1 2.1 0 1 0 -4.2 0M485.50 595.35a2.1 2.1 0 1 0 4.2 0a2.1 2.1 0 1 0 -4.2 0M495.24 595.35a2.1 2.1 0 1 0 4.2 0a2.1 2.1 0 1 0 -4.2 0M490.37 605.09a2.1 2.1 0 1 0 4.2 0a2.1 2.1 0 1 0 -4.2 0M485.50 614.84a2.1 2.1 0 1 0 4.2 0a2.1 2.1 0 1 0 -4.2 0M495.24 614.84a2.1 2.1 0 1 0 4.2 0a2.1 2.1 0 1 0 -4.2 0M490.37 624.58a2.1 2.1 0 1 0 4.2 0a2.1 2.1 0 1 0 -4.2 0M485.50 634.32a2.1 2.1 0 1 0 4.2 0a2.1 2.1 0 1 0 -4.2 0M495.24 634.32a2.1 2.1 0 1 0 4.2 0a2.1 2.1 0 1 0 -4.2 0"/>
<rect x="488.06" y="515.30" width="8.11" height="119.00" fill="none" stroke="#4d5257" stroke-width="0.8"/>
<rect x="504.27" y="515.60" width="8.11" height="118.70" fill="#aec7e8" fill-opacity="0.7"/>
<clipPath id="hc87"><rect x="504.27" y="515.60" width="8.11" height="116.70"/></clipPath><path clip-path="url(#hc87)" fill="#000" d="M505.68 517.42a1.4 1.4 0 1 0 2.8 0a1.4 1.4 0 1 0 -2.8 0M500.81 527.16a1.4 1.4 0 1 0 2.8 0a1.4 1.4 0 1 0 -2.8 0M510.56 527.16a1.4 1.4 0 1 0 2.8 0a1.4 1.4 0 1 0 -2.8 0M505.68 536.90a1.4 1.4 0 1 0 2.8 0a1.4 1.4 0 1 0 -2.8 0M500.81 546.64a1.4 1.4 0 1 0 2.8 0a1.4 1.4 0 1 0 -2.8 0M510.56 546.64a1.4 1.4 0 1 0 2.8 0a1.4 1.4 0 1 0 -2.8 0M505.68 556.38a1.4 1.4 0 1 0 2.8 0a1.4 1.4 0 1 0 -2.8 0M500.81 566.13a1.4 1.4 0 1 0 2.8 0a1.4 1.4 0 1 0 -2.8 0M510.56 566.13a1.4 1.4 0 1 0 2.8 0a1.4 1.4 0 1 0 -2.8 0M505.68 575.87a1.4 1.4 0 1 0 2.8 0a1.4 1.4 0 1 0 -2.8 0M500.81 585.61a1.4 1.4 0 1 0 2.8 0a1.4 1.4 0 1 0 -2.8 0M510.56 585.61a1.4 1.4 0 1 0 2.8 0a1.4 1.4 0 1 0 -2.8 0M505.68 595.35a1.4 1.4 0 1 0 2.8 0a1.4 1.4 0 1 0 -2.8 0M500.81 605.09a1.4 1.4 0 1 0 2.8 0a1.4 1.4 0 1 0 -2.8 0M510.56 605.09a1.4 1.4 0 1 0 2.8 0a1.4 1.4 0 1 0 -2.8 0M505.68 614.84a1.4 1.4 0 1 0 2.8 0a1.4 1.4 0 1 0 -2.8 0M500.81 624.58a1.4 1.4 0 1 0 2.8 0a1.4 1.4 0 1 0 -2.8 0M510.56 624.58a1.4 1.4 0 1 0 2.8 0a1.4 1.4 0 1 0 -2.8 0M505.68 634.32a1.4 1.4 0 1 0 2.8 0a1.4 1.4 0 1 0 -2.8 0"/>
<rect x="504.27" y="515.60" width="8.11" height="118.70" fill="none" stroke="#4d5257" stroke-width="0.8"/>
<rect x="512.38" y="536.60" width="8.11" height="97.70" fill="#ffbb78" fill-opacity="0.7"/>
<rect x="512.38" y="536.60" width="8.11" height="97.70" fill="none" stroke="#4d5257" stroke-width="0.8"/>
<rect x="520.50" y="513.90" width="8.11" height="120.40" fill="#98df8a" fill-opacity="0.7"/>
<clipPath id="hc88"><rect x="520.50" y="513.90" width="8.11" height="118.40"/></clipPath><path clip-path="url(#hc88)" fill="none" stroke="#000" stroke-width="0.9" d="M524.47 517.42a2.1 2.1 0 1 0 4.2 0a2.1 2.1 0 1 0 -4.2 0M519.60 527.16a2.1 2.1 0 1 0 4.2 0a2.1 2.1 0 1 0 -4.2 0M529.34 527.16a2.1 2.1 0 1 0 4.2 0a2.1 2.1 0 1 0 -4.2 0M524.47 536.90a2.1 2.1 0 1 0 4.2 0a2.1 2.1 0 1 0 -4.2 0M519.60 546.64a2.1 2.1 0 1 0 4.2 0a2.1 2.1 0 1 0 -4.2 0M529.34 546.64a2.1 2.1 0 1 0 4.2 0a2.1 2.1 0 1 0 -4.2 0M524.47 556.38a2.1 2.1 0 1 0 4.2 0a2.1 2.1 0 1 0 -4.2 0M519.60 566.13a2.1 2.1 0 1 0 4.2 0a2.1 2.1 0 1 0 -4.2 0M529.34 566.13a2.1 2.1 0 1 0 4.2 0a2.1 2.1 0 1 0 -4.2 0M524.47 575.87a2.1 2.1 0 1 0 4.2 0a2.1 2.1 0 1 0 -4.2 0M519.60 585.61a2.1 2.1 0 1 0 4.2 0a2.1 2.1 0 1 0 -4.2 0M529.34 585.61a2.1 2.1 0 1 0 4.2 0a2.1 2.1 0 1 0 -4.2 0M524.47 595.35a2.1 2.1 0 1 0 4.2 0a2.1 2.1 0 1 0 -4.2 0M519.60 605.09a2.1 2.1 0 1 0 4.2 0a2.1 2.1 0 1 0 -4.2 0M529.34 605.09a2.1 2.1 0 1 0 4.2 0a2.1 2.1 0 1 0 -4.2 0M524.47 614.84a2.1 2.1 0 1 0 4.2 0a2.1 2.1 0 1 0 -4.2 0M519.60 624.58a2.1 2.1 0 1 0 4.2 0a2.1 2.1 0 1 0 -4.2 0M529.34 624.58a2.1 2.1 0 1 0 4.2 0a2.1 2.1 0 1 0 -4.2 0M524.47 634.32a2.1 2.1 0 1 0 4.2 0a2.1 2.1 0 1 0 -4.2 0"/>
<rect x="520.50" y="513.90" width="8.11" height="120.40" fill="none" stroke="#4d5257" stroke-width="0.8"/>
<rect x="536.72" y="513.80" width="8.11" height="120.50" fill="#aec7e8" fill-opacity="0.7"/>
<clipPath id="hc89"><rect x="536.72" y="513.80" width="8.11" height="118.50"/></clipPath><path clip-path="url(#hc89)" fill="#000" d="M534.91 517.42a1.4 1.4 0 1 0 2.8 0a1.4 1.4 0 1 0 -2.8 0M544.65 517.42a1.4 1.4 0 1 0 2.8 0a1.4 1.4 0 1 0 -2.8 0M539.78 527.16a1.4 1.4 0 1 0 2.8 0a1.4 1.4 0 1 0 -2.8 0M534.91 536.90a1.4 1.4 0 1 0 2.8 0a1.4 1.4 0 1 0 -2.8 0M544.65 536.90a1.4 1.4 0 1 0 2.8 0a1.4 1.4 0 1 0 -2.8 0M539.78 546.64a1.4 1.4 0 1 0 2.8 0a1.4 1.4 0 1 0 -2.8 0M534.91 556.38a1.4 1.4 0 1 0 2.8 0a1.4 1.4 0 1 0 -2.8 0M544.65 556.38a1.4 1.4 0 1 0 2.8 0a1.4 1.4 0 1 0 -2.8 0M539.78 566.13a1.4 1.4 0 1 0 2.8 0a1.4 1.4 0 1 0 -2.8 0M534.91 575.87a1.4 1.4 0 1 0 2.8 0a1.4 1.4 0 1 0 -2.8 0M544.65 575.87a1.4 1.4 0 1 0 2.8 0a1.4 1.4 0 1 0 -2.8 0M539.78 585.61a1.4 1.4 0 1 0 2.8 0a1.4 1.4 0 1 0 -2.8 0M534.91 595.35a1.4 1.4 0 1 0 2.8 0a1.4 1.4 0 1 0 -2.8 0M544.65 595.35a1.4 1.4 0 1 0 2.8 0a1.4 1.4 0 1 0 -2.8 0M539.78 605.09a1.4 1.4 0 1 0 2.8 0a1.4 1.4 0 1 0 -2.8 0M534.91 614.84a1.4 1.4 0 1 0 2.8 0a1.4 1.4 0 1 0 -2.8 0M544.65 614.84a1.4 1.4 0 1 0 2.8 0a1.4 1.4 0 1 0 -2.8 0M539.78 624.58a1.4 1.4 0 1 0 2.8 0a1.4 1.4 0 1 0 -2.8 0M534.91 634.32a1.4 1.4 0 1 0 2.8 0a1.4 1.4 0 1 0 -2.8 0M544.65 634.32a1.4 1.4 0 1 0 2.8 0a1.4 1.4 0 1 0 -2.8 0"/>
<rect x="536.72" y="513.80" width="8.11" height="120.50" fill="none" stroke="#4d5257" stroke-width="0.8"/>
<rect x="544.83" y="534.80" width="8.11" height="99.50" fill="#ffbb78" fill-opacity="0.7"/>
<rect x="544.83" y="534.80" width="8.11" height="99.50" fill="none" stroke="#4d5257" stroke-width="0.8"/>
<rect x="552.94" y="512.40" width="8.11" height="121.90" fill="#98df8a" fill-opacity="0.7"/>
<clipPath id="hc90"><rect x="552.94" y="512.40" width="8.11" height="119.90"/></clipPath><path clip-path="url(#hc90)" fill="none" stroke="#000" stroke-width="0.9" d="M553.69 517.42a2.1 2.1 0 1 0 4.2 0a2.1 2.1 0 1 0 -4.2 0M548.82 527.16a2.1 2.1 0 1 0 4.2 0a2.1 2.1 0 1 0 -4.2 0M558.57 527.16a2.1 2.1 0 1 0 4.2 0a2.1 2.1 0 1 0 -4.2 0M553.69 536.90a2.1 2.1 0 1 0 4.2 0a2.1 2.1 0 1 0 -4.2 0M548.82 546.64a2.1 2.1 0 1 0 4.2 0a2.1 2.1 0 1 0 -4.2 0M558.57 546.64a2.1 2.1 0 1 0 4.2 0a2.1 2.1 0 1 0 -4.2 0M553.69 556.38a2.1 2.1 0 1 0 4.2 0a2.1 2.1 0 1 0 -4.2 0M548.82 566.13a2.1 2.1 0 1 0 4.2 0a2.1 2.1 0 1 0 -4.2 0M558.57 566.13a2.1 2.1 0 1 0 4.2 0a2.1 2.1 0 1 0 -4.2 0M553.69 575.87a2.1 2.1 0 1 0 4.2 0a2.1 2.1 0 1 0 -4.2 0M548.82 585.61a2.1 2.1 0 1 0 4.2 0a2.1 2.1 0 1 0 -4.2 0M558.57 585.61a2.1 2.1 0 1 0 4.2 0a2.1 2.1 0 1 0 -4.2 0M553.69 595.35a2.1 2.1 0 1 0 4.2 0a2.1 2.1 0 1 0 -4.2 0M548.82 605.09a2.1 2.1 0 1 0 4.2 0a2.1 2.1 0 1 0 -4.2 0M558.57 605.09a2.1 2.1 0 1 0 4.2 0a2.1 2.1 0 1 0 -4.2 0M553.69 614.84a2.1 2.1 0 1 0 4.2 0a2.1 2.1 0 1 0 -4.2 0M548.82 624.58a2.1 2.1 0 1 0 4.2 0a2.1 2.1 0 1 0 -4.2 0M558.57 624.58a2.1 2.1 0 1 0 4.2 0a2.1 2.1 0 1 0 -4.2 0M553.69 634.32a2.1 2.1 0 1 0 4.2 0a2.1 2.1 0 1 0 -4.2 0"/>
<rect x="552.94" y="512.40" width="8.11" height="121.90" fill="none" stroke="#4d5257" stroke-width="0.8"/>
<rect x="569.15" y="513.80" width="8.11" height="120.50" fill="#aec7e8" fill-opacity="0.7"/>
<clipPath id="hc91"><rect x="569.15" y="513.80" width="8.11" height="118.50"/></clipPath><path clip-path="url(#hc91)" fill="#000" d="M573.88 517.42a1.4 1.4 0 1 0 2.8 0a1.4 1.4 0 1 0 -2.8 0M569.01 527.16a1.4 1.4 0 1 0 2.8 0a1.4 1.4 0 1 0 -2.8 0M573.88 536.90a1.4 1.4 0 1 0 2.8 0a1.4 1.4 0 1 0 -2.8 0M569.01 546.64a1.4 1.4 0 1 0 2.8 0a1.4 1.4 0 1 0 -2.8 0M573.88 556.38a1.4 1.4 0 1 0 2.8 0a1.4 1.4 0 1 0 -2.8 0M569.01 566.13a1.4 1.4 0 1 0 2.8 0a1.4 1.4 0 1 0 -2.8 0M573.88 575.87a1.4 1.4 0 1 0 2.8 0a1.4 1.4 0 1 0 -2.8 0M569.01 585.61a1.4 1.4 0 1 0 2.8 0a1.4 1.4 0 1 0 -2.8 0M573.88 595.35a1.4 1.4 0 1 0 2.8 0a1.4 1.4 0 1 0 -2.8 0M569.01 605.09a1.4 1.4 0 1 0 2.8 0a1.4 1.4 0 1 0 -2.8 0M573.88 614.84a1.4 1.4 0 1 0 2.8 0a1.4 1.4 0 1 0 -2.8 0M569.01 624.58a1.4 1.4 0 1 0 2.8 0a1.4 1.4 0 1 0 -2.8 0M573.88 634.32a1.4 1.4 0 1 0 2.8 0a1.4 1.4 0 1 0 -2.8 0"/>
<rect x="569.15" y="513.80" width="8.11" height="120.50" fill="none" stroke="#4d5257" stroke-width="0.8"/>
<rect x="577.26" y="534.80" width="8.11" height="99.50" fill="#ffbb78" fill-opacity="0.7"/>
<rect x="577.26" y="534.80" width="8.11" height="99.50" fill="none" stroke="#4d5257" stroke-width="0.8"/>
<rect x="585.38" y="512.60" width="8.11" height="121.70" fill="#98df8a" fill-opacity="0.7"/>
<clipPath id="hc92"><rect x="585.38" y="512.60" width="8.11" height="119.70"/></clipPath><path clip-path="url(#hc92)" fill="none" stroke="#000" stroke-width="0.9" d="M582.92 517.42a2.1 2.1 0 1 0 4.2 0a2.1 2.1 0 1 0 -4.2 0M592.66 517.42a2.1 2.1 0 1 0 4.2 0a2.1 2.1 0 1 0 -4.2 0M587.79 527.16a2.1 2.1 0 1 0 4.2 0a2.1 2.1 0 1 0 -4.2 0M582.92 536.90a2.1 2.1 0 1 0 4.2 0a2.1 2.1 0 1 0 -4.2 0M592.66 536.90a2.1 2.1 0 1 0 4.2 0a2.1 2.1 0 1 0 -4.2 0M587.79 546.64a2.1 2.1 0 1 0 4.2 0a2.1 2.1 0 1 0 -4.2 0M582.92 556.38a2.1 2.1 0 1 0 4.2 0a2.1 2.1 0 1 0 -4.2 0M592.66 556.38a2.1 2.1 0 1 0 4.2 0a2.1 2.1 0 1 0 -4.2 0M587.79 566.13a2.1 2.1 0 1 0 4.2 0a2.1 2.1 0 1 0 -4.2 0M582.92 575.87a2.1 2.1 0 1 0 4.2 0a2.1 2.1 0 1 0 -4.2 0M592.66 575.87a2.1 2.1 0 1 0 4.2 0a2.1 2.1 0 1 0 -4.2 0M587.79 585.61a2.1 2.1 0 1 0 4.2 0a2.1 2.1 0 1 0 -4.2 0M582.92 595.35a2.1 2.1 0 1 0 4.2 0a2.1 2.1 0 1 0 -4.2 0M592.66 595.35a2.1 2.1 0 1 0 4.2 0a2.1 2.1 0 1 0 -4.2 0M587.79 605.09a2.1 2.1 0 1 0 4.2 0a2.1 2.1 0 1 0 -4.2 0M582.92 614.84a2.1 2.1 0 1 0 4.2 0a2.1 2.1 0 1 0 -4.2 0M592.66 614.84a2.1 2.1 0 1 0 4.2 0a2.1 2.1 0 1 0 -4.2 0M587.79 624.58a2.1 2.1 0 1 0 4.2 0a2.1 2.1 0 1 0 -4.2 0M582.92 634.32a2.1 2.1 0 1 0 4.2 0a2.1 2.1 0 1 0 -4.2 0M592.66 634.32a2.1 2.1 0 1 0 4.2 0a2.1 2.1 0 1 0 -4.2 0"/>
<rect x="585.38" y="512.60" width="8.11" height="121.70" fill="none" stroke="#4d5257" stroke-width="0.8"/>
<rect x="601.60" y="510.50" width="8.11" height="123.80" fill="#aec7e8" fill-opacity="0.7"/>
<clipPath id="hc93"><rect x="601.60" y="510.50" width="8.11" height="121.80"/></clipPath><path clip-path="url(#hc93)" fill="#000" d="M603.10 517.42a1.4 1.4 0 1 0 2.8 0a1.4 1.4 0 1 0 -2.8 0M598.23 527.16a1.4 1.4 0 1 0 2.8 0a1.4 1.4 0 1 0 -2.8 0M607.98 527.16a1.4 1.4 0 1 0 2.8 0a1.4 1.4 0 1 0 -2.8 0M603.10 536.90a1.4 1.4 0 1 0 2.8 0a1.4 1.4 0 1 0 -2.8 0M598.23 546.64a1.4 1.4 0 1 0 2.8 0a1.4 1.4 0 1 0 -2.8 0M607.98 546.64a1.4 1.4 0 1 0 2.8 0a1.4 1.4 0 1 0 -2.8 0M603.10 556.38a1.4 1.4 0 1 0 2.8 0a1.4 1.4 0 1 0 -2.8 0M598.23 566.13a1.4 1.4 0 1 0 2.8 0a1.4 1.4 0 1 0 -2.8 0M607.98 566.13a1.4 1.4 0 1 0 2.8 0a1.4 1.4 0 1 0 -2.8 0M603.10 575.87a1.4 1.4 0 1 0 2.8 0a1.4 1.4 0 1 0 -2.8 0M598.23 585.61a1.4 1.4 0 1 0 2.8 0a1.4 1.4 0 1 0 -2.8 0M607.98 585.61a1.4 1.4 0 1 0 2.8 0a1.4 1.4 0 1 0 -2.8 0M603.10 595.35a1.4 1.4 0 1 0 2.8 0a1.4 1.4 0 1 0 -2.8 0M598.23 605.09a1.4 1.4 0 1 0 2.8 0a1.4 1.4 0 1 0 -2.8 0M607.98 605.09a1.4 1.4 0 1 0 2.8 0a1.4 1.4 0 1 0 -2.8 0M603.10 614.84a1.4 1.4 0 1 0 2.8 0a1.4 1.4 0 1 0 -2.8 0M598.23 624.58a1.4 1.4 0 1 0 2.8 0a1.4 1.4 0 1 0 -2.8 0M607.98 624.58a1.4 1.4 0 1 0 2.8 0a1.4 1.4 0 1 0 -2.8 0M603.10 634.32a1.4 1.4 0 1 0 2.8 0a1.4 1.4 0 1 0 -2.8 0"/>
<rect x="601.60" y="510.50" width="8.11" height="123.80" fill="none" stroke="#4d5257" stroke-width="0.8"/>
<rect x="609.71" y="532.80" width="8.11" height="101.50" fill="#ffbb78" fill-opacity="0.7"/>
<rect x="609.71" y="532.80" width="8.11" height="101.50" fill="none" stroke="#4d5257" stroke-width="0.8"/>
<rect x="617.82" y="509.30" width="8.11" height="125.00" fill="#98df8a" fill-opacity="0.7"/>
<clipPath id="hc94"><rect x="617.82" y="509.30" width="8.11" height="123.00"/></clipPath><path clip-path="url(#hc94)" fill="none" stroke="#000" stroke-width="0.9" d="M617.02 507.67a2.1 2.1 0 1 0 4.2 0a2.1 2.1 0 1 0 -4.2 0M626.76 507.67a2.1 2.1 0 1 0 4.2 0a2.1 2.1 0 1 0 -4.2 0M621.89 517.42a2.1 2.1 0 1 0 4.2 0a2.1 2.1 0 1 0 -4.2 0M617.02 527.16a2.1 2.1 0 1 0 4.2 0a2.1 2.1 0 1 0 -4.2 0M626.76 527.16a2.1 2.1 0 1 0 4.2 0a2.1 2.1 0 1 0 -4.2 0M621.89 536.90a2.1 2.1 0 1 0 4.2 0a2.1 2.1 0 1 0 -4.2 0M617.02 546.64a2.1 2.1 0 1 0 4.2 0a2.1 2.1 0 1 0 -4.2 0M626.76 546.64a2.1 2.1 0 1 0 4.2 0a2.1 2.1 0 1 0 -4.2 0M621.89 556.38a2.1 2.1 0 1 0 4.2 0a2.1 2.1 0 1 0 -4.2 0M617.02 566.13a2.1 2.1 0 1 0 4.2 0a2.1 2.1 0 1 0 -4.2 0M626.76 566.13a2.1 2.1 0 1 0 4.2 0a2.1 2.1 0 1 0 -4.2 0M621.89 575.87a2.1 2.1 0 1 0 4.2 0a2.1 2.1 0 1 0 -4.2 0M617.02 585.61a2.1 2.1 0 1 0 4.2 0a2.1 2.1 0 1 0 -4.2 0M626.76 585.61a2.1 2.1 0 1 0 4.2 0a2.1 2.1 0 1 0 -4.2 0M621.89 595.35a2.1 2.1 0 1 0 4.2 0a2.1 2.1 0 1 0 -4.2 0M617.02 605.09a2.1 2.1 0 1 0 4.2 0a2.1 2.1 0 1 0 -4.2 0M626.76 605.09a2.1 2.1 0 1 0 4.2 0a2.1 2.1 0 1 0 -4.2 0M621.89 614.84a2.1 2.1 0 1 0 4.2 0a2.1 2.1 0 1 0 -4.2 0M617.02 624.58a2.1 2.1 0 1 0 4.2 0a2.1 2.1 0 1 0 -4.2 0M626.76 624.58a2.1 2.1 0 1 0 4.2 0a2.1 2.1 0 1 0 -4.2 0M621.89 634.32a2.1 2.1 0 1 0 4.2 0a2.1 2.1 0 1 0 -4.2 0"/>
<rect x="617.82" y="509.30" width="8.11" height="125.00" fill="none" stroke="#4d5257" stroke-width="0.8"/>
<rect x="634.03" y="509.10" width="8.11" height="125.20" fill="#aec7e8" fill-opacity="0.7"/>
<clipPath id="hc95"><rect x="634.03" y="509.10" width="8.11" height="123.20"/></clipPath><path clip-path="url(#hc95)" fill="#000" d="M637.20 507.67a1.4 1.4 0 1 0 2.8 0a1.4 1.4 0 1 0 -2.8 0M632.33 517.42a1.4 1.4 0 1 0 2.8 0a1.4 1.4 0 1 0 -2.8 0M642.07 517.42a1.4 1.4 0 1 0 2.8 0a1.4 1.4 0 1 0 -2.8 0M637.20 527.16a1.4 1.4 0 1 0 2.8 0a1.4 1.4 0 1 0 -2.8 0M632.33 536.90a1.4 1.4 0 1 0 2.8 0a1.4 1.4 0 1 0 -2.8 0M642.07 536.90a1.4 1.4 0 1 0 2.8 0a1.4 1.4 0 1 0 -2.8 0M637.20 546.64a1.4 1.4 0 1 0 2.8 0a1.4 1.4 0 1 0 -2.8 0M632.33 556.38a1.4 1.4 0 1 0 2.8 0a1.4 1.4 0 1 0 -2.8 0M642.07 556.38a1.4 1.4 0 1 0 2.8 0a1.4 1.4 0 1 0 -2.8 0M637.20 566.13a1.4 1.4 0 1 0 2.8 0a1.4 1.4 0 1 0 -2.8 0M632.33 575.87a1.4 1.4 0 1 0 2.8 0a1.4 1.4 0 1 0 -2.8 0M642.07 575.87a1.4 1.4 0 1 0 2.8 0a1.4 1.4 0 1 0 -2.8 0M637.20 585.61a1.4 1.4 0 1 0 2.8 0a1.4 1.4 0 1 0 -2.8 0M632.33 595.35a1.4 1.4 0 1 0 2.8 0a1.4 1.4 0 1 0 -2.8 0M642.07 595.35a1.4 1.4 0 1 0 2.8 0a1.4 1.4 0 1 0 -2.8 0M637.20 605.09a1.4 1.4 0 1 0 2.8 0a1.4 1.4 0 1 0 -2.8 0M632.33 614.84a1.4 1.4 0 1 0 2.8 0a1.4 1.4 0 1 0 -2.8 0M642.07 614.84a1.4 1.4 0 1 0 2.8 0a1.4 1.4 0 1 0 -2.8 0M637.20 624.58a1.4 1.4 0 1 0 2.8 0a1.4 1.4 0 1 0 -2.8 0M632.33 634.32a1.4 1.4 0 1 0 2.8 0a1.4 1.4 0 1 0 -2.8 0M642.07 634.32a1.4 1.4 0 1 0 2.8 0a1.4 1.4 0 1 0 -2.8 0"/>
<rect x="634.03" y="509.10" width="8.11" height="125.20" fill="none" stroke="#4d5257" stroke-width="0.8"/>
<rect x="642.14" y="531.40" width="8.11" height="102.90" fill="#ffbb78" fill-opacity="0.7"/>
<rect x="642.14" y="531.40" width="8.11" height="102.90" fill="none" stroke="#4d5257" stroke-width="0.8"/>
<rect x="650.25" y="509.10" width="8.11" height="125.20" fill="#98df8a" fill-opacity="0.7"/>
<clipPath id="hc96"><rect x="650.25" y="509.10" width="8.11" height="123.20"/></clipPath><path clip-path="url(#hc96)" fill="none" stroke="#000" stroke-width="0.9" d="M646.24 507.67a2.1 2.1 0 1 0 4.2 0a2.1 2.1 0 1 0 -4.2 0M655.99 507.67a2.1 2.1 0 1 0 4.2 0a2.1 2.1 0 1 0 -4.2 0M651.11 517.42a2.1 2.1 0 1 0 4.2 0a2.1 2.1 0 1 0 -4.2 0M646.24 527.16a2.1 2.1 0 1 0 4.2 0a2.1 2.1 0 1 0 -4.2 0M655.99 527.16a2.1 2.1 0 1 0 4.2 0a2.1 2.1 0 1 0 -4.2 0M651.11 536.90a2.1 2.1 0 1 0 4.2 0a2.1 2.1 0 1 0 -4.2 0M646.24 546.64a2.1 2.1 0 1 0 4.2 0a2.1 2.1 0 1 0 -4.2 0M655.99 546.64a2.1 2.1 0 1 0 4.2 0a2.1 2.1 0 1 0 -4.2 0M651.11 556.38a2.1 2.1 0 1 0 4.2 0a2.1 2.1 0 1 0 -4.2 0M646.24 566.13a2.1 2.1 0 1 0 4.2 0a2.1 2.1 0 1 0 -4.2 0M655.99 566.13a2.1 2.1 0 1 0 4.2 0a2.1 2.1 0 1 0 -4.2 0M651.11 575.87a2.1 2.1 0 1 0 4.2 0a2.1 2.1 0 1 0 -4.2 0M646.24 585.61a2.1 2.1 0 1 0 4.2 0a2.1 2.1 0 1 0 -4.2 0M655.99 585.61a2.1 2.1 0 1 0 4.2 0a2.1 2.1 0 1 0 -4.2 0M651.11 595.35a2.1 2.1 0 1 0 4.2 0a2.1 2.1 0 1 0 -4.2 0M646.24 605.09a2.1 2.1 0 1 0 4.2 0a2.1 2.1 0 1 0 -4.2 0M655.99 605.09a2.1 2.1 0 1 0 4.2 0a2.1 2.1 0 1 0 -4.2 0M651.11 614.84a2.1 2.1 0 1 0 4.2 0a2.1 2.1 0 1 0 -4.2 0M646.24 624.58a2.1 2.1 0 1 0 4.2 0a2.1 2.1 0 1 0 -4.2 0M655.99 624.58a2.1 2.1 0 1 0 4.2 0a2.1 2.1 0 1 0 -4.2 0M651.11 634.32a2.1 2.1 0 1 0 4.2 0a2.1 2.1 0 1 0 -4.2 0"/>
<rect x="650.25" y="509.10" width="8.11" height="125.20" fill="none" stroke="#4d5257" stroke-width="0.8"/>
</g>
<line x1="151.49" y1="532.90" x2="151.49" y2="603.40" stroke="#000" stroke-width="1.3"/>
<line x1="147.99" y1="532.90" x2="154.99" y2="532.90" stroke="#000" stroke-width="1.0"/>
<line x1="147.99" y1="603.40" x2="154.99" y2="603.40" stroke="#000" stroke-width="1.0"/>
<line x1="159.60" y1="526.60" x2="159.60" y2="600.10" stroke="#000" stroke-width="1.3"/>
<line x1="156.10" y1="526.60" x2="163.10" y2="526.60" stroke="#000" stroke-width="1.0"/>
<line x1="156.10" y1="600.10" x2="163.10" y2="600.10" stroke="#000" stroke-width="1.0"/>
<line x1="167.71" y1="526.60" x2="167.71" y2="596.80" stroke="#000" stroke-width="1.3"/>
<line x1="164.21" y1="526.60" x2="171.21" y2="526.60" stroke="#000" stroke-width="1.0"/>
<line x1="164.21" y1="596.80" x2="171.21" y2="596.80" stroke="#000" stroke-width="1.0"/>
<line x1="183.93" y1="536.50" x2="183.93" y2="609.30" stroke="#000" stroke-width="1.3"/>
<line x1="180.43" y1="536.50" x2="187.43" y2="536.50" stroke="#000" stroke-width="1.0"/>
<line x1="180.43" y1="609.30" x2="187.43" y2="609.30" stroke="#000" stroke-width="1.0"/>
<line x1="192.04" y1="531.30" x2="192.04" y2="595.30" stroke="#000" stroke-width="1.3"/>
<line x1="188.54" y1="531.30" x2="195.54" y2="531.30" stroke="#000" stroke-width="1.0"/>
<line x1="188.54" y1="595.30" x2="195.54" y2="595.30" stroke="#000" stroke-width="1.0"/>
<line x1="200.15" y1="528.40" x2="200.15" y2="592.40" stroke="#000" stroke-width="1.3"/>
<line x1="196.65" y1="528.40" x2="203.65" y2="528.40" stroke="#000" stroke-width="1.0"/>
<line x1="196.65" y1="592.40" x2="203.65" y2="592.40" stroke="#000" stroke-width="1.0"/>
<line x1="216.37" y1="516.90" x2="216.37" y2="577.20" stroke="#000" stroke-width="1.3"/>
<line x1="212.87" y1="516.90" x2="219.87" y2="516.90" stroke="#000" stroke-width="1.0"/>
<line x1="212.87" y1="577.20" x2="219.87" y2="577.20" stroke="#000" stroke-width="1.0"/>
<line x1="224.48" y1="518.80" x2="224.48" y2="576.40" stroke="#000" stroke-width="1.3"/>
<line x1="220.98" y1="518.80" x2="227.98" y2="518.80" stroke="#000" stroke-width="1.0"/>
<line x1="220.98" y1="576.40" x2="227.98" y2="576.40" stroke="#000" stroke-width="1.0"/>
<line x1="232.59" y1="516.90" x2="232.59" y2="574.40" stroke="#000" stroke-width="1.3"/>
<line x1="229.09" y1="516.90" x2="236.09" y2="516.90" stroke="#000" stroke-width="1.0"/>
<line x1="229.09" y1="574.40" x2="236.09" y2="574.40" stroke="#000" stroke-width="1.0"/>
<line x1="248.81" y1="536.30" x2="248.81" y2="612.70" stroke="#000" stroke-width="1.3"/>
<line x1="245.31" y1="536.30" x2="252.31" y2="536.30" stroke="#000" stroke-width="1.0"/>
<line x1="245.31" y1="612.70" x2="252.31" y2="612.70" stroke="#000" stroke-width="1.0"/>
<line x1="256.92" y1="529.60" x2="256.92" y2="587.20" stroke="#000" stroke-width="1.3"/>
<line x1="253.42" y1="529.60" x2="260.42" y2="529.60" stroke="#000" stroke-width="1.0"/>
<line x1="253.42" y1="587.20" x2="260.42" y2="587.20" stroke="#000" stroke-width="1.0"/>
<line x1="265.03" y1="526.20" x2="265.03" y2="587.20" stroke="#000" stroke-width="1.3"/>
<line x1="261.53" y1="526.20" x2="268.53" y2="526.20" stroke="#000" stroke-width="1.0"/>
<line x1="261.53" y1="587.20" x2="268.53" y2="587.20" stroke="#000" stroke-width="1.0"/>
<line x1="281.25" y1="540.70" x2="281.25" y2="627.40" stroke="#000" stroke-width="1.3"/>
<line x1="277.75" y1="540.70" x2="284.75" y2="540.70" stroke="#000" stroke-width="1.0"/>
<line x1="277.75" y1="627.40" x2="284.75" y2="627.40" stroke="#000" stroke-width="1.0"/>
<line x1="289.36" y1="526.50" x2="289.36" y2="587.30" stroke="#000" stroke-width="1.3"/>
<line x1="285.86" y1="526.50" x2="292.86" y2="526.50" stroke="#000" stroke-width="1.0"/>
<line x1="285.86" y1="587.30" x2="292.86" y2="587.30" stroke="#000" stroke-width="1.0"/>
<line x1="297.47" y1="525.00" x2="297.47" y2="585.20" stroke="#000" stroke-width="1.3"/>
<line x1="293.97" y1="525.00" x2="300.97" y2="525.00" stroke="#000" stroke-width="1.0"/>
<line x1="293.97" y1="585.20" x2="300.97" y2="585.20" stroke="#000" stroke-width="1.0"/>
<line x1="313.69" y1="518.40" x2="313.69" y2="573.10" stroke="#000" stroke-width="1.3"/>
<line x1="310.19" y1="518.40" x2="317.19" y2="518.40" stroke="#000" stroke-width="1.0"/>
<line x1="310.19" y1="573.10" x2="317.19" y2="573.10" stroke="#000" stroke-width="1.0"/>
<line x1="321.80" y1="518.40" x2="321.80" y2="573.10" stroke="#000" stroke-width="1.3"/>
<line x1="318.30" y1="518.40" x2="325.30" y2="518.40" stroke="#000" stroke-width="1.0"/>
<line x1="318.30" y1="573.10" x2="325.30" y2="573.10" stroke="#000" stroke-width="1.0"/>
<line x1="329.91" y1="516.80" x2="329.91" y2="567.90" stroke="#000" stroke-width="1.3"/>
<line x1="326.41" y1="516.80" x2="333.41" y2="516.80" stroke="#000" stroke-width="1.0"/>
<line x1="326.41" y1="567.90" x2="333.41" y2="567.90" stroke="#000" stroke-width="1.0"/>
<line x1="346.13" y1="516.90" x2="346.13" y2="574.30" stroke="#000" stroke-width="1.3"/>
<line x1="342.63" y1="516.90" x2="349.63" y2="516.90" stroke="#000" stroke-width="1.0"/>
<line x1="342.63" y1="574.30" x2="349.63" y2="574.30" stroke="#000" stroke-width="1.0"/>
<line x1="354.24" y1="518.40" x2="354.24" y2="573.40" stroke="#000" stroke-width="1.3"/>
<line x1="350.74" y1="518.40" x2="357.74" y2="518.40" stroke="#000" stroke-width="1.0"/>
<line x1="350.74" y1="573.40" x2="357.74" y2="573.40" stroke="#000" stroke-width="1.0"/>
<line x1="362.35" y1="516.90" x2="362.35" y2="571.30" stroke="#000" stroke-width="1.3"/>
<line x1="358.85" y1="516.90" x2="365.85" y2="516.90" stroke="#000" stroke-width="1.0"/>
<line x1="358.85" y1="571.30" x2="365.85" y2="571.30" stroke="#000" stroke-width="1.0"/>
<line x1="378.57" y1="497.80" x2="378.57" y2="542.20" stroke="#000" stroke-width="1.3"/>
<line x1="375.07" y1="497.80" x2="382.07" y2="497.80" stroke="#000" stroke-width="1.0"/>
<line x1="375.07" y1="542.20" x2="382.07" y2="542.20" stroke="#000" stroke-width="1.0"/>
<line x1="386.68" y1="512.50" x2="386.68" y2="563.20" stroke="#000" stroke-width="1.3"/>
<line x1="383.18" y1="512.50" x2="390.18" y2="512.50" stroke="#000" stroke-width="1.0"/>
<line x1="383.18" y1="563.20" x2="390.18" y2="563.20" stroke="#000" stroke-width="1.0"/>
<line x1="394.79" y1="497.80" x2="394.79" y2="542.20" stroke="#000" stroke-width="1.3"/>
<line x1="391.29" y1="497.80" x2="398.29" y2="497.80" stroke="#000" stroke-width="1.0"/>
<line x1="391.29" y1="542.20" x2="398.29" y2="542.20" stroke="#000" stroke-width="1.0"/>
<line x1="411.01" y1="499.50" x2="411.01" y2="544.30" stroke="#000" stroke-width="1.3"/>
<line x1="407.51" y1="499.50" x2="414.51" y2="499.50" stroke="#000" stroke-width="1.0"/>
<line x1="407.51" y1="544.30" x2="414.51" y2="544.30" stroke="#000" stroke-width="1.0"/>
<line x1="419.12" y1="515.10" x2="419.12" y2="566.40" stroke="#000" stroke-width="1.3"/>
<line x1="415.62" y1="515.10" x2="422.62" y2="515.10" stroke="#000" stroke-width="1.0"/>
<line x1="415.62" y1="566.40" x2="422.62" y2="566.40" stroke="#000" stroke-width="1.0"/>
<line x1="427.23" y1="497.90" x2="427.23" y2="542.90" stroke="#000" stroke-width="1.3"/>
<line x1="423.73" y1="497.90" x2="430.73" y2="497.90" stroke="#000" stroke-width="1.0"/>
<line x1="423.73" y1="542.90" x2="430.73" y2="542.90" stroke="#000" stroke-width="1.0"/>
<line x1="443.45" y1="499.50" x2="443.45" y2="544.30" stroke="#000" stroke-width="1.3"/>
<line x1="439.95" y1="499.50" x2="446.95" y2="499.50" stroke="#000" stroke-width="1.0"/>
<line x1="439.95" y1="544.30" x2="446.95" y2="544.30" stroke="#000" stroke-width="1.0"/>
<line x1="451.56" y1="512.50" x2="451.56" y2="563.20" stroke="#000" stroke-width="1.3"/>
<line x1="448.06" y1="512.50" x2="455.06" y2="512.50" stroke="#000" stroke-width="1.0"/>
<line x1="448.06" y1="563.20" x2="455.06" y2="563.20" stroke="#000" stroke-width="1.0"/>
<line x1="459.67" y1="497.90" x2="459.67" y2="539.40" stroke="#000" stroke-width="1.3"/>
<line x1="456.17" y1="497.90" x2="463.17" y2="497.90" stroke="#000" stroke-width="1.0"/>
<line x1="456.17" y1="539.40" x2="463.17" y2="539.40" stroke="#000" stroke-width="1.0"/>
<line x1="475.89" y1="493.30" x2="475.89" y2="537.30" stroke="#000" stroke-width="1.3"/>
<line x1="472.39" y1="493.30" x2="479.39" y2="493.30" stroke="#000" stroke-width="1.0"/>
<line x1="472.39" y1="537.30" x2="479.39" y2="537.30" stroke="#000" stroke-width="1.0"/>
<line x1="484.00" y1="509.10" x2="484.00" y2="560.30" stroke="#000" stroke-width="1.3"/>
<line x1="480.50" y1="509.10" x2="487.50" y2="509.10" stroke="#000" stroke-width="1.0"/>
<line x1="480.50" y1="560.30" x2="487.50" y2="560.30" stroke="#000" stroke-width="1.0"/>
<line x1="492.11" y1="494.40" x2="492.11" y2="536.60" stroke="#000" stroke-width="1.3"/>
<line x1="488.61" y1="494.40" x2="495.61" y2="494.40" stroke="#000" stroke-width="1.0"/>
<line x1="488.61" y1="536.60" x2="495.61" y2="536.60" stroke="#000" stroke-width="1.0"/>
<line x1="508.33" y1="494.40" x2="508.33" y2="536.60" stroke="#000" stroke-width="1.3"/>
<line x1="504.83" y1="494.40" x2="511.83" y2="494.40" stroke="#000" stroke-width="1.0"/>
<line x1="504.83" y1="536.60" x2="511.83" y2="536.60" stroke="#000" stroke-width="1.0"/>
<line x1="516.44" y1="510.30" x2="516.44" y2="561.70" stroke="#000" stroke-width="1.3"/>
<line x1="512.94" y1="510.30" x2="519.94" y2="510.30" stroke="#000" stroke-width="1.0"/>
<line x1="512.94" y1="561.70" x2="519.94" y2="561.70" stroke="#000" stroke-width="1.0"/>
<line x1="524.55" y1="493.30" x2="524.55" y2="534.50" stroke="#000" stroke-width="1.3"/>
<line x1="521.05" y1="493.30" x2="528.05" y2="493.30" stroke="#000" stroke-width="1.0"/>
<line x1="521.05" y1="534.50" x2="528.05" y2="534.50" stroke="#000" stroke-width="1.0"/>
<line x1="540.77" y1="493.30" x2="540.77" y2="534.50" stroke="#000" stroke-width="1.3"/>
<line x1="537.27" y1="493.30" x2="544.27" y2="493.30" stroke="#000" stroke-width="1.0"/>
<line x1="537.27" y1="534.50" x2="544.27" y2="534.50" stroke="#000" stroke-width="1.0"/>
<line x1="548.88" y1="509.10" x2="548.88" y2="560.30" stroke="#000" stroke-width="1.3"/>
<line x1="545.38" y1="509.10" x2="552.38" y2="509.10" stroke="#000" stroke-width="1.0"/>
<line x1="545.38" y1="560.30" x2="552.38" y2="560.30" stroke="#000" stroke-width="1.0"/>
<line x1="556.99" y1="491.50" x2="556.99" y2="533.10" stroke="#000" stroke-width="1.3"/>
<line x1="553.49" y1="491.50" x2="560.49" y2="491.50" stroke="#000" stroke-width="1.0"/>
<line x1="553.49" y1="533.10" x2="560.49" y2="533.10" stroke="#000" stroke-width="1.0"/>
<line x1="573.21" y1="493.30" x2="573.21" y2="534.50" stroke="#000" stroke-width="1.3"/>
<line x1="569.71" y1="493.30" x2="576.71" y2="493.30" stroke="#000" stroke-width="1.0"/>
<line x1="569.71" y1="534.50" x2="576.71" y2="534.50" stroke="#000" stroke-width="1.0"/>
<line x1="581.32" y1="509.10" x2="581.32" y2="560.60" stroke="#000" stroke-width="1.3"/>
<line x1="577.82" y1="509.10" x2="584.82" y2="509.10" stroke="#000" stroke-width="1.0"/>
<line x1="577.82" y1="560.60" x2="584.82" y2="560.60" stroke="#000" stroke-width="1.0"/>
<line x1="589.43" y1="491.50" x2="589.43" y2="532.80" stroke="#000" stroke-width="1.3"/>
<line x1="585.93" y1="491.50" x2="592.93" y2="491.50" stroke="#000" stroke-width="1.0"/>
<line x1="585.93" y1="532.80" x2="592.93" y2="532.80" stroke="#000" stroke-width="1.0"/>
<line x1="605.65" y1="491.50" x2="605.65" y2="529.20" stroke="#000" stroke-width="1.3"/>
<line x1="602.15" y1="491.50" x2="609.15" y2="491.50" stroke="#000" stroke-width="1.0"/>
<line x1="602.15" y1="529.20" x2="609.15" y2="529.20" stroke="#000" stroke-width="1.0"/>
<line x1="613.76" y1="507.50" x2="613.76" y2="558.50" stroke="#000" stroke-width="1.3"/>
<line x1="610.26" y1="507.50" x2="617.26" y2="507.50" stroke="#000" stroke-width="1.0"/>
<line x1="610.26" y1="558.50" x2="617.26" y2="558.50" stroke="#000" stroke-width="1.0"/>
<line x1="621.87" y1="489.80" x2="621.87" y2="528.20" stroke="#000" stroke-width="1.3"/>
<line x1="618.37" y1="489.80" x2="625.37" y2="489.80" stroke="#000" stroke-width="1.0"/>
<line x1="618.37" y1="528.20" x2="625.37" y2="528.20" stroke="#000" stroke-width="1.0"/>
<line x1="638.09" y1="489.80" x2="638.09" y2="528.20" stroke="#000" stroke-width="1.3"/>
<line x1="634.59" y1="489.80" x2="641.59" y2="489.80" stroke="#000" stroke-width="1.0"/>
<line x1="634.59" y1="528.20" x2="641.59" y2="528.20" stroke="#000" stroke-width="1.0"/>
<line x1="646.20" y1="505.60" x2="646.20" y2="556.80" stroke="#000" stroke-width="1.3"/>
<line x1="642.70" y1="505.60" x2="649.70" y2="505.60" stroke="#000" stroke-width="1.0"/>
<line x1="642.70" y1="556.80" x2="649.70" y2="556.80" stroke="#000" stroke-width="1.0"/>
<line x1="654.31" y1="489.80" x2="654.31" y2="528.60" stroke="#000" stroke-width="1.3"/>
<line x1="650.81" y1="489.80" x2="657.81" y2="489.80" stroke="#000" stroke-width="1.0"/>
<line x1="650.81" y1="528.60" x2="657.81" y2="528.60" stroke="#000" stroke-width="1.0"/>
<rect x="44" y="472" width="641" height="1" fill="rgb(90,90,90)"/>
<rect x="44" y="631" width="641" height="1" fill="rgb(235,235,235)"/>
<rect x="44" y="632" width="641" height="1" fill="rgb(120,120,120)"/>
<rect x="44" y="471" width="1" height="163" fill="rgb(150,150,150)"/>
<rect x="45" y="471" width="1" height="163" fill="rgb(155,155,155)"/>
<rect x="683" y="471" width="1" height="163" fill="rgb(150,150,150)"/>
<rect x="684" y="471" width="1" height="163" fill="rgb(205,205,205)"/>
<line x1="42.1" y1="632.30" x2="45.1" y2="632.30" stroke="#333" stroke-width="0.8"/>
<text x="13.88" y="636.70" font-size="11.9" textLength="25.35" lengthAdjust="spacingAndGlyphs" fill="#1a1a1a">2.80</text>
<line x1="42.1" y1="600.30" x2="45.1" y2="600.30" stroke="#333" stroke-width="0.8"/>
<text x="14.02" y="604.70" font-size="11.9" textLength="25.21" lengthAdjust="spacingAndGlyphs" fill="#1a1a1a">3.00</text>
<line x1="42.1" y1="568.30" x2="45.1" y2="568.30" stroke="#333" stroke-width="0.8"/>
<text x="14.02" y="572.70" font-size="11.9" textLength="25.21" lengthAdjust="spacingAndGlyphs" fill="#1a1a1a">3.20</text>
<line x1="42.1" y1="536.30" x2="45.1" y2="536.30" stroke="#333" stroke-width="0.8"/>
<text x="14.02" y="540.70" font-size="11.9" textLength="25.21" lengthAdjust="spacingAndGlyphs" fill="#1a1a1a">3.40</text>
<line x1="42.1" y1="504.30" x2="45.1" y2="504.30" stroke="#333" stroke-width="0.8"/>
<text x="14.02" y="508.70" font-size="11.9" textLength="25.21" lengthAdjust="spacingAndGlyphs" fill="#1a1a1a">3.60</text>
<line x1="42.1" y1="472.30" x2="45.1" y2="472.30" stroke="#333" stroke-width="0.8"/>
<text x="14.02" y="476.70" font-size="11.9" textLength="25.21" lengthAdjust="spacingAndGlyphs" fill="#1a1a1a">3.80</text>
<line x1="159.60" y1="632.3" x2="159.60" y2="635.3" stroke="#333" stroke-width="0.8"/>
<text x="147.77" y="645.80" font-size="11.0" textLength="23.30" lengthAdjust="spacingAndGlyphs" fill="#1a1a1a">1.83</text>
<line x1="192.04" y1="632.3" x2="192.04" y2="635.3" stroke="#333" stroke-width="0.8"/>
<text x="180.49" y="645.80" font-size="11.0" textLength="23.01" lengthAdjust="spacingAndGlyphs" fill="#1a1a1a">2.56</text>
<line x1="224.48" y1="632.3" x2="224.48" y2="635.3" stroke="#333" stroke-width="0.8"/>
<text x="212.92" y="645.80" font-size="11.0" textLength="23.08" lengthAdjust="spacingAndGlyphs" fill="#1a1a1a">2.62</text>
<line x1="256.92" y1="632.3" x2="256.92" y2="635.3" stroke="#333" stroke-width="0.8"/>
<text x="245.36" y="645.80" font-size="11.0" textLength="23.08" lengthAdjust="spacingAndGlyphs" fill="#1a1a1a">2.67</text>
<line x1="289.36" y1="632.3" x2="289.36" y2="635.3" stroke="#333" stroke-width="0.8"/>
<text x="277.81" y="645.80" font-size="11.0" textLength="22.94" lengthAdjust="spacingAndGlyphs" fill="#1a1a1a">2.70</text>
<line x1="321.80" y1="632.3" x2="321.80" y2="635.3" stroke="#333" stroke-width="0.8"/>
<text x="310.25" y="645.80" font-size="11.0" textLength="23.01" lengthAdjust="spacingAndGlyphs" fill="#1a1a1a">2.76</text>
<line x1="354.24" y1="632.3" x2="354.24" y2="635.3" stroke="#333" stroke-width="0.8"/>
<text x="342.69" y="645.80" font-size="11.0" textLength="23.01" lengthAdjust="spacingAndGlyphs" fill="#1a1a1a">2.79</text>
<line x1="386.68" y1="632.3" x2="386.68" y2="635.3" stroke="#333" stroke-width="0.8"/>
<text x="375.26" y="645.80" font-size="11.0" textLength="22.87" lengthAdjust="spacingAndGlyphs" fill="#1a1a1a">3.29</text>
<line x1="419.12" y1="632.3" x2="419.12" y2="635.3" stroke="#333" stroke-width="0.8"/>
<text x="407.71" y="645.80" font-size="11.0" textLength="22.67" lengthAdjust="spacingAndGlyphs" fill="#1a1a1a">3.34</text>
<line x1="451.56" y1="632.3" x2="451.56" y2="635.3" stroke="#333" stroke-width="0.8"/>
<text x="440.14" y="645.80" font-size="11.0" textLength="22.87" lengthAdjust="spacingAndGlyphs" fill="#1a1a1a">3.36</text>
<line x1="484.00" y1="632.3" x2="484.00" y2="635.3" stroke="#333" stroke-width="0.8"/>
<text x="472.58" y="645.80" font-size="11.0" textLength="22.87" lengthAdjust="spacingAndGlyphs" fill="#1a1a1a">3.38</text>
<line x1="516.44" y1="632.3" x2="516.44" y2="635.3" stroke="#333" stroke-width="0.8"/>
<text x="505.02" y="645.80" font-size="11.0" textLength="22.80" lengthAdjust="spacingAndGlyphs" fill="#1a1a1a">3.40</text>
<line x1="548.88" y1="632.3" x2="548.88" y2="635.3" stroke="#333" stroke-width="0.8"/>
<text x="537.47" y="645.80" font-size="11.0" textLength="22.67" lengthAdjust="spacingAndGlyphs" fill="#1a1a1a">3.44</text>
<line x1="581.32" y1="632.3" x2="581.32" y2="635.3" stroke="#333" stroke-width="0.8"/>
<text x="569.90" y="645.80" font-size="11.0" textLength="22.87" lengthAdjust="spacingAndGlyphs" fill="#1a1a1a">3.46</text>
<line x1="613.76" y1="632.3" x2="613.76" y2="635.3" stroke="#333" stroke-width="0.8"/>
<text x="602.34" y="645.80" font-size="11.0" textLength="22.87" lengthAdjust="spacingAndGlyphs" fill="#1a1a1a">3.48</text>
<line x1="646.20" y1="632.3" x2="646.20" y2="635.3" stroke="#333" stroke-width="0.8"/>
<text x="634.78" y="645.80" font-size="11.0" textLength="22.80" lengthAdjust="spacingAndGlyphs" fill="#1a1a1a">3.50</text>
<text x="56.59" y="645.80" font-size="11.0" textLength="81.56" lengthAdjust="spacingAndGlyphs" fill="#1a1a1a">MOS-SIG Input:</text>
<text transform="translate(9.4,577.92) rotate(-90)" x="0" y="0" font-size="11.6" textLength="49.17" lengthAdjust="spacingAndGlyphs" fill="#1a1a1a">MOS-SIG</text>
<text x="41.27" y="662.70" font-size="10.0" textLength="96.08" lengthAdjust="spacingAndGlyphs" fill="#1a1a1a">Bitrate (1st) [kbps]:</text>
<text x="156.51" y="663.50" font-size="10.0" textLength="6.12" lengthAdjust="spacingAndGlyphs" fill="#1a1a1a">6</text>
<text x="188.95" y="663.50" font-size="10.0" textLength="6.12" lengthAdjust="spacingAndGlyphs" fill="#1a1a1a">6</text>
<text x="221.42" y="663.50" font-size="10.0" textLength="6.12" lengthAdjust="spacingAndGlyphs" fill="#1a1a1a">9</text>
<text x="253.83" y="663.50" font-size="10.0" textLength="6.12" lengthAdjust="spacingAndGlyphs" fill="#1a1a1a">6</text>
<text x="286.27" y="663.50" font-size="10.0" textLength="6.12" lengthAdjust="spacingAndGlyphs" fill="#1a1a1a">6</text>
<text x="315.54" y="663.50" font-size="10.0" textLength="12.24" lengthAdjust="spacingAndGlyphs" fill="#1a1a1a">12</text>
<text x="347.95" y="663.50" font-size="10.0" textLength="12.24" lengthAdjust="spacingAndGlyphs" fill="#1a1a1a">16</text>
<text x="383.62" y="663.50" font-size="10.0" textLength="6.12" lengthAdjust="spacingAndGlyphs" fill="#1a1a1a">9</text>
<text x="416.06" y="663.50" font-size="10.0" textLength="6.12" lengthAdjust="spacingAndGlyphs" fill="#1a1a1a">9</text>
<text x="448.50" y="663.50" font-size="10.0" textLength="6.12" lengthAdjust="spacingAndGlyphs" fill="#1a1a1a">9</text>
<text x="477.74" y="663.50" font-size="10.0" textLength="12.24" lengthAdjust="spacingAndGlyphs" fill="#1a1a1a">12</text>
<text x="510.15" y="663.50" font-size="10.0" textLength="12.24" lengthAdjust="spacingAndGlyphs" fill="#1a1a1a">16</text>
<text x="542.62" y="663.50" font-size="10.0" textLength="12.24" lengthAdjust="spacingAndGlyphs" fill="#1a1a1a">12</text>
<text x="575.06" y="663.50" font-size="10.0" textLength="12.24" lengthAdjust="spacingAndGlyphs" fill="#1a1a1a">12</text>
<text x="607.47" y="663.50" font-size="10.0" textLength="12.24" lengthAdjust="spacingAndGlyphs" fill="#1a1a1a">16</text>
<text x="639.91" y="663.50" font-size="10.0" textLength="12.24" lengthAdjust="spacingAndGlyphs" fill="#1a1a1a">16</text>
<text x="37.98" y="677.50" font-size="10.0" textLength="99.33" lengthAdjust="spacingAndGlyphs" fill="#1a1a1a">Bitrate (2nd) [kbps]:</text>
<text x="156.51" y="677.60" font-size="10.0" textLength="6.12" lengthAdjust="spacingAndGlyphs" fill="#1a1a1a">6</text>
<text x="188.98" y="677.60" font-size="10.0" textLength="6.12" lengthAdjust="spacingAndGlyphs" fill="#1a1a1a">9</text>
<text x="221.39" y="677.60" font-size="10.0" textLength="6.12" lengthAdjust="spacingAndGlyphs" fill="#1a1a1a">6</text>
<text x="250.66" y="677.60" font-size="10.0" textLength="12.24" lengthAdjust="spacingAndGlyphs" fill="#1a1a1a">12</text>
<text x="283.07" y="677.60" font-size="10.0" textLength="12.24" lengthAdjust="spacingAndGlyphs" fill="#1a1a1a">16</text>
<text x="318.71" y="677.60" font-size="10.0" textLength="6.12" lengthAdjust="spacingAndGlyphs" fill="#1a1a1a">6</text>
<text x="351.15" y="677.60" font-size="10.0" textLength="6.12" lengthAdjust="spacingAndGlyphs" fill="#1a1a1a">6</text>
<text x="383.62" y="677.60" font-size="10.0" textLength="6.12" lengthAdjust="spacingAndGlyphs" fill="#1a1a1a">9</text>
<text x="412.86" y="677.60" font-size="10.0" textLength="12.24" lengthAdjust="spacingAndGlyphs" fill="#1a1a1a">12</text>
<text x="445.27" y="677.60" font-size="10.0" textLength="12.24" lengthAdjust="spacingAndGlyphs" fill="#1a1a1a">16</text>
<text x="480.94" y="677.60" font-size="10.0" textLength="6.12" lengthAdjust="spacingAndGlyphs" fill="#1a1a1a">9</text>
<text x="513.38" y="677.60" font-size="10.0" textLength="6.12" lengthAdjust="spacingAndGlyphs" fill="#1a1a1a">9</text>
<text x="542.62" y="677.60" font-size="10.0" textLength="12.24" lengthAdjust="spacingAndGlyphs" fill="#1a1a1a">12</text>
<text x="575.03" y="677.60" font-size="10.0" textLength="12.24" lengthAdjust="spacingAndGlyphs" fill="#1a1a1a">16</text>
<text x="607.50" y="677.60" font-size="10.0" textLength="12.24" lengthAdjust="spacingAndGlyphs" fill="#1a1a1a">12</text>
<text x="639.91" y="677.60" font-size="10.0" textLength="12.24" lengthAdjust="spacingAndGlyphs" fill="#1a1a1a">16</text>
<rect x="50.6" y="9.9" width="179.2" height="48.7" rx="2" ry="2" fill="#fff" fill-opacity="0.8" stroke="#d8d8d8" stroke-width="0.8"/>
<rect x="54.3" y="14.60" width="21.7" height="7.5" fill="#c6d8ef"/>
<clipPath id="hc97"><rect x="54.30" y="14.60" width="21.70" height="7.50"/></clipPath><path clip-path="url(#hc97)" fill="#000" d="M52.68 20.57a1.4 1.4 0 1 0 2.8 0a1.4 1.4 0 1 0 -2.8 0M62.42 20.57a1.4 1.4 0 1 0 2.8 0a1.4 1.4 0 1 0 -2.8 0M72.16 20.57a1.4 1.4 0 1 0 2.8 0a1.4 1.4 0 1 0 -2.8 0"/>
<rect x="54.3" y="14.60" width="21.7" height="7.5" fill="none" stroke="#4d5257" stroke-width="0.8"/>
<text x="84.10" y="22.00" font-size="10.0" textLength="140.62" lengthAdjust="spacingAndGlyphs" fill="#1a1a1a">MCT-based LCT-CSE model</text>
<rect x="54.3" y="30.20" width="21.7" height="7.5" fill="#ffcfa1"/>
<rect x="54.3" y="30.20" width="21.7" height="7.5" fill="none" stroke="#4d5257" stroke-width="0.8"/>
<text x="84.10" y="37.60" font-size="10.0" textLength="137.21" lengthAdjust="spacingAndGlyphs" fill="#1a1a1a">LBT-based LCT-CSE model</text>
<rect x="54.3" y="45.60" width="21.7" height="7.5" fill="#b7e9ad"/>
<clipPath id="hc98"><rect x="54.30" y="45.60" width="21.70" height="7.50"/></clipPath><path clip-path="url(#hc98)" fill="none" stroke="#000" stroke-width="0.9" d="M56.85 49.80a2.1 2.1 0 1 0 4.2 0a2.1 2.1 0 1 0 -4.2 0M66.59 49.80a2.1 2.1 0 1 0 4.2 0a2.1 2.1 0 1 0 -4.2 0M76.34 49.80a2.1 2.1 0 1 0 4.2 0a2.1 2.1 0 1 0 -4.2 0"/>
<rect x="54.3" y="45.60" width="21.7" height="7.5" fill="none" stroke="#4d5257" stroke-width="0.8"/>
<text x="84.09" y="53.00" font-size="10.0" textLength="141.84" lengthAdjust="spacingAndGlyphs" fill="#1a1a1a">DLM-based LCT-CSE model</text>
</svg></body></html>
